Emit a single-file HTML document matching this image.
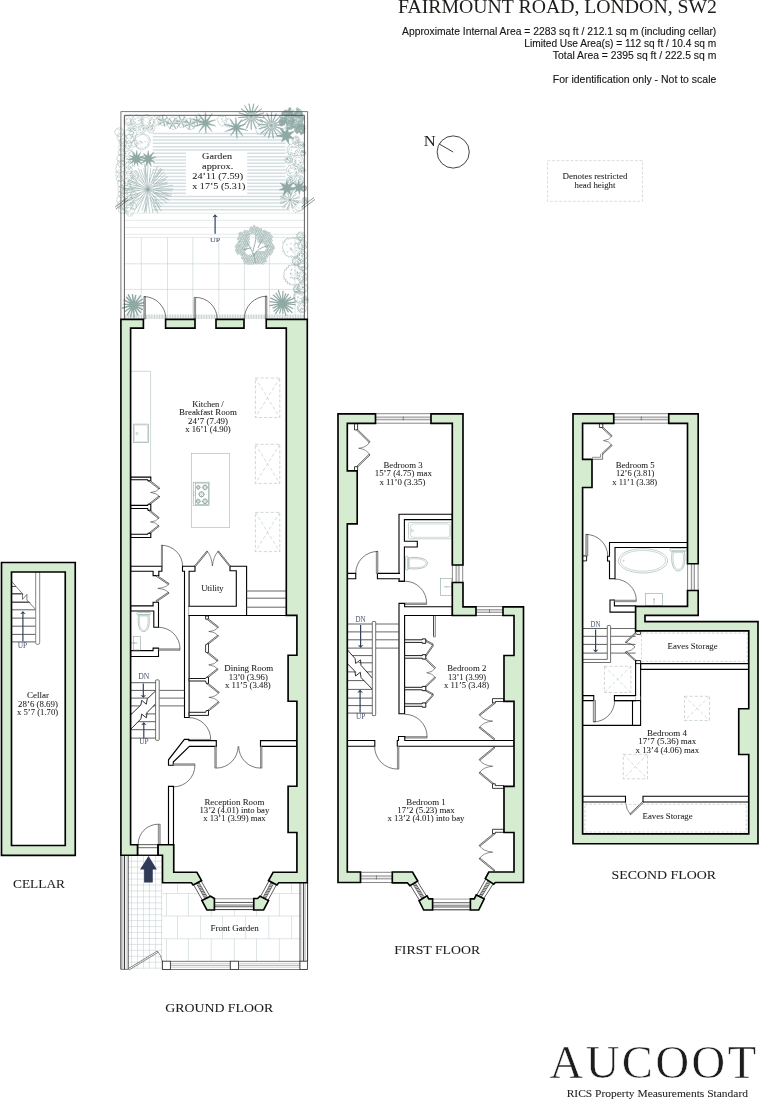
<!DOCTYPE html>
<html lang="en">
<head>
<meta charset="utf-8">
<title>Fairmount Road, London, SW2 - Floor Plan</title>
<style>
html,body{margin:0;padding:0;background:#fff;}
body{width:760px;height:1100px;overflow:hidden;font-family:"Liberation Serif",serif;}
svg{display:block;will-change:transform;}
text{white-space:pre;}
</style>
</head>
<body>
<svg width="760" height="1100" viewBox="0 0 760 1100">
<rect x="0" y="0" width="760" height="1100" fill="#fff"/>
<text x="398.00" y="13.20" font-family='"Liberation Serif", serif' font-size="18.6" text-anchor="start" fill="#1d1d1b" textLength="319" lengthAdjust="spacingAndGlyphs">FAIRMOUNT ROAD, LONDON, SW2</text>
<text x="716.30" y="35.00" font-family='"Liberation Sans", sans-serif' font-size="10.3" text-anchor="end" fill="#151515" stroke="#151515" stroke-width="0.12" textLength="314.3" lengthAdjust="spacingAndGlyphs">Approximate Internal Area = 2283 sq ft / 212.1 sq m (including cellar)</text>
<text x="716.30" y="46.90" font-family='"Liberation Sans", sans-serif' font-size="10.3" text-anchor="end" fill="#151515" stroke="#151515" stroke-width="0.12" textLength="192" lengthAdjust="spacingAndGlyphs">Limited Use Area(s) = 112 sq ft / 10.4 sq m</text>
<text x="716.30" y="58.80" font-family='"Liberation Sans", sans-serif' font-size="10.3" text-anchor="end" fill="#151515" stroke="#151515" stroke-width="0.12" textLength="163.5" lengthAdjust="spacingAndGlyphs">Total Area = 2395 sq ft / 222.5 sq m</text>
<text x="716.30" y="82.60" font-family='"Liberation Sans", sans-serif' font-size="10.3" text-anchor="end" fill="#151515" stroke="#151515" stroke-width="0.12" textLength="163.5" lengthAdjust="spacingAndGlyphs">For identification only - Not to scale</text>
<text x="429.70" y="145.80" font-family='"Liberation Serif", serif' font-size="15" text-anchor="middle" fill="#1d1d1b" textLength="12" lengthAdjust="spacingAndGlyphs">N</text>
<circle cx="453.2" cy="152" r="16.1" fill="none" stroke="#222" stroke-width="0.85"/>
<polyline points="438.90,143.80 453.20,152.00" fill="none" stroke="#222" stroke-width="0.85" stroke-linecap="butt" stroke-linejoin="miter"/>
<rect x="547.50" y="160.60" width="95.00" height="40.70" fill="none" stroke="#c4c4c4" stroke-width="0.6" stroke-dasharray="2.8 1.8"/>
<text x="595.00" y="179.20" font-family='"Liberation Serif", serif' font-size="7.2" text-anchor="middle" fill="#1d1d1b" stroke="#1d1d1b" stroke-width="0.06" textLength="65" lengthAdjust="spacingAndGlyphs">Denotes restricted</text>
<text x="595.00" y="187.80" font-family='"Liberation Serif", serif' font-size="7.2" text-anchor="middle" fill="#1d1d1b" stroke="#1d1d1b" stroke-width="0.06" textLength="41" lengthAdjust="spacingAndGlyphs">head height</text>
<text x="549.6" y="1078" font-family='"Liberation Serif", serif' font-size="46.5" fill="#1d1d1b" stroke="#fff" stroke-width="0.5" textLength="206.5" lengthAdjust="spacing">AUCOOT</text>
<text x="566.70" y="1096.70" font-family='"Liberation Serif", serif' font-size="10.6" text-anchor="start" fill="#1d1d1b" stroke="#1d1d1b" stroke-width="0.06" textLength="181.3" lengthAdjust="spacingAndGlyphs">RICS Property Measurements Standard</text>
<text x="219.20" y="1012.40" font-family='"Liberation Serif", serif' font-size="12.7" text-anchor="middle" fill="#1d1d1b" stroke="#1d1d1b" stroke-width="0.06" textLength="108" lengthAdjust="spacingAndGlyphs">GROUND FLOOR</text>
<text x="437.20" y="953.70" font-family='"Liberation Serif", serif' font-size="12.7" text-anchor="middle" fill="#1d1d1b" stroke="#1d1d1b" stroke-width="0.06" textLength="86" lengthAdjust="spacingAndGlyphs">FIRST FLOOR</text>
<text x="663.80" y="878.70" font-family='"Liberation Serif", serif' font-size="12.7" text-anchor="middle" fill="#1d1d1b" stroke="#1d1d1b" stroke-width="0.06" textLength="104.5" lengthAdjust="spacingAndGlyphs">SECOND FLOOR</text>
<text x="39.00" y="888.00" font-family='"Liberation Serif", serif' font-size="12.7" text-anchor="middle" fill="#1d1d1b" stroke="#1d1d1b" stroke-width="0.06" textLength="52" lengthAdjust="spacingAndGlyphs">CELLAR</text>
<path d="M152.8,133.40H285.6M152.8,136.72H285.6M152.8,140.04H285.6M152.8,143.36H285.6M152.8,146.68H285.6M152.8,150.00H285.6M152.8,153.32H285.6M152.8,156.64H285.6M152.8,159.96H285.6M152.8,163.28H285.6M152.8,166.60H285.6M152.8,169.92H285.6M152.8,173.24H285.6M152.8,176.56H285.6M152.8,179.88H285.6M152.8,183.20H285.6M152.8,186.52H285.6M152.8,189.84H285.6M152.8,193.16H285.6M152.8,196.48H285.6M152.8,199.80H285.6M152.8,203.12H285.6M152.8,206.44H285.6M152.8,209.76H285.6" fill="none" stroke="#d5dfe1" stroke-width="1.5" stroke-linejoin="miter" stroke-linecap="butt"/>
<polyline points="124.60,213.20 304.20,213.20" fill="none" stroke="#cfdadb" stroke-width="0.55" stroke-linecap="butt" stroke-linejoin="miter"/>
<polyline points="124.60,220.30 304.20,220.30" fill="none" stroke="#cfdadb" stroke-width="0.55" stroke-linecap="butt" stroke-linejoin="miter"/>
<polyline points="124.60,227.50 304.20,227.50" fill="none" stroke="#cfdadb" stroke-width="0.55" stroke-linecap="butt" stroke-linejoin="miter"/>
<polyline points="124.60,234.30 304.20,234.30" fill="none" stroke="#cfdadb" stroke-width="0.55" stroke-linecap="butt" stroke-linejoin="miter"/>
<polyline points="124.60,237.50 304.20,237.50" fill="none" stroke="#cfdadb" stroke-width="0.55" stroke-linecap="butt" stroke-linejoin="miter"/>
<polyline points="124.60,263.80 304.20,263.80" fill="none" stroke="#b9c9cb" stroke-width="0.5" stroke-linecap="butt" stroke-linejoin="miter"/>
<polyline points="124.60,289.40 304.20,289.40" fill="none" stroke="#b9c9cb" stroke-width="0.5" stroke-linecap="butt" stroke-linejoin="miter"/>
<polyline points="141.30,237.50 141.30,314.40" fill="none" stroke="#b9c9cb" stroke-width="0.5" stroke-linecap="butt" stroke-linejoin="miter"/>
<polyline points="167.50,237.50 167.50,314.40" fill="none" stroke="#b9c9cb" stroke-width="0.5" stroke-linecap="butt" stroke-linejoin="miter"/>
<polyline points="192.80,237.50 192.80,314.40" fill="none" stroke="#b9c9cb" stroke-width="0.5" stroke-linecap="butt" stroke-linejoin="miter"/>
<polyline points="218.80,237.50 218.80,314.40" fill="none" stroke="#b9c9cb" stroke-width="0.5" stroke-linecap="butt" stroke-linejoin="miter"/>
<polyline points="244.40,237.50 244.40,314.40" fill="none" stroke="#b9c9cb" stroke-width="0.5" stroke-linecap="butt" stroke-linejoin="miter"/>
<polyline points="269.40,237.50 269.40,314.40" fill="none" stroke="#b9c9cb" stroke-width="0.5" stroke-linecap="butt" stroke-linejoin="miter"/>
<polyline points="295.00,237.50 295.00,314.40" fill="none" stroke="#b9c9cb" stroke-width="0.5" stroke-linecap="butt" stroke-linejoin="miter"/>
<path d="M125.40,314.5V319M127.02,314.5V319M128.64,314.5V319M130.26,314.5V319M131.88,314.5V319M133.50,314.5V319M135.12,314.5V319M136.74,314.5V319M138.36,314.5V319M139.98,314.5V319M141.60,314.5V319M143.22,314.5V319M144.84,314.5V319M146.46,314.5V319M148.08,314.5V319M149.70,314.5V319M151.32,314.5V319M152.94,314.5V319M154.56,314.5V319M156.18,314.5V319M157.80,314.5V319M159.42,314.5V319M161.04,314.5V319M162.66,314.5V319M164.28,314.5V319M165.90,314.5V319M167.52,314.5V319M169.14,314.5V319M170.76,314.5V319M172.38,314.5V319M174.00,314.5V319M175.62,314.5V319M177.24,314.5V319M178.86,314.5V319M180.48,314.5V319M182.10,314.5V319M183.72,314.5V319M185.34,314.5V319M186.96,314.5V319M188.58,314.5V319M190.20,314.5V319M191.82,314.5V319M193.44,314.5V319M195.06,314.5V319M196.68,314.5V319M198.30,314.5V319M199.92,314.5V319M201.54,314.5V319M203.16,314.5V319M204.78,314.5V319M206.40,314.5V319M208.02,314.5V319M209.64,314.5V319M211.26,314.5V319M212.88,314.5V319M214.50,314.5V319M216.12,314.5V319M217.74,314.5V319M219.36,314.5V319M220.98,314.5V319M222.60,314.5V319M224.22,314.5V319M225.84,314.5V319M227.46,314.5V319M229.08,314.5V319M230.70,314.5V319M232.32,314.5V319M233.94,314.5V319M235.56,314.5V319M237.18,314.5V319M238.80,314.5V319M240.42,314.5V319M242.04,314.5V319M243.66,314.5V319M245.28,314.5V319M246.90,314.5V319M248.52,314.5V319M250.14,314.5V319M251.76,314.5V319M253.38,314.5V319M255.00,314.5V319M256.62,314.5V319M258.24,314.5V319M259.86,314.5V319M261.48,314.5V319M263.10,314.5V319M264.72,314.5V319M266.34,314.5V319M267.96,314.5V319M269.58,314.5V319M271.20,314.5V319M272.82,314.5V319M274.44,314.5V319M276.06,314.5V319M277.68,314.5V319M279.30,314.5V319M280.92,314.5V319M282.54,314.5V319M284.16,314.5V319M285.78,314.5V319M287.40,314.5V319M289.02,314.5V319M290.64,314.5V319M292.26,314.5V319M293.88,314.5V319M295.50,314.5V319M297.12,314.5V319M298.74,314.5V319M300.36,314.5V319M301.98,314.5V319M303.60,314.5V319" fill="none" stroke="#bcc6c6" stroke-width="0.8" stroke-linejoin="miter" stroke-linecap="butt"/>
<rect x="186.00" y="152.00" width="61.20" height="42.60" fill="#fff" stroke="none" stroke-width="0"/>
<path d="M133.16,120.50A1.31,1.31 0 0 1 132.32,122.64A1.22,1.22 0 0 1 130.60,124.01A0.87,0.87 0 0 1 128.40,124.67A0.86,0.86 0 0 1 126.13,123.81A0.88,0.88 0 0 1 124.88,121.71A1.14,1.14 0 0 1 125.28,119.41A0.92,0.92 0 0 1 125.88,116.90A1.29,1.29 0 0 1 128.43,116.50A1.25,1.25 0 0 1 131.04,116.04A1.55,1.55 0 0 1 132.57,118.20A1.46,1.46 0 0 1 132.83,120.50" fill="none" stroke="#90a9a5" stroke-width="0.45" stroke-linejoin="round" stroke-linecap="butt" stroke-dasharray="2.3 0.4"/>
<path d="M130.19,121.59q0.6,-0.6 1.1,0.2M129.50,119.37q0.6,-0.6 1.1,0.2M126.73,119.22q0.6,-0.6 1.1,0.2M127.38,122.17q0.6,-0.6 1.1,0.2M129.80,120.83q0.6,-0.6 1.1,0.2" fill="none" stroke="#90a9a5" stroke-width="0.45" stroke-linejoin="miter" stroke-linecap="round"/>
<path d="M130.77,120.86A0.69,0.69 0 0 1 130.03,122.47A0.58,0.58 0 0 1 128.41,123.23A0.74,0.74 0 0 1 126.58,122.70A0.69,0.69 0 0 1 126.18,120.86A0.81,0.81 0 0 1 126.70,119.15A0.57,0.57 0 0 1 128.41,118.31A0.50,0.50 0 0 1 130.33,118.94A0.76,0.76 0 0 1 130.76,120.86" fill="none" stroke="#90a9a5" stroke-width="0.4" stroke-linejoin="round" stroke-linecap="butt" stroke-dasharray="2.0 0.5"/>
<path d="M142.15,121.50A1.69,1.69 0 0 1 142.43,124.09A1.79,1.79 0 0 1 140.58,125.97A1.63,1.63 0 0 1 138.11,126.51A1.53,1.53 0 0 1 135.56,126.60A1.76,1.76 0 0 1 133.57,124.99A1.43,1.43 0 0 1 131.71,122.93A1.06,1.06 0 0 1 132.10,120.17A1.59,1.59 0 0 1 133.30,117.78A1.74,1.74 0 0 1 135.36,115.85A1.35,1.35 0 0 1 138.10,116.53A1.03,1.03 0 0 1 140.66,116.92A1.16,1.16 0 0 1 142.16,119.05A1.06,1.06 0 0 1 142.26,121.50" fill="none" stroke="#90a9a5" stroke-width="0.45" stroke-linejoin="round" stroke-linecap="butt" stroke-dasharray="3.0 0.4"/>
<path d="M137.53,123.76q0.6,-0.6 1.1,0.2M138.28,120.68q0.6,-0.6 1.1,0.2M134.80,122.39q0.6,-0.6 1.1,0.2M140.34,118.94q0.6,-0.6 1.1,0.2M138.72,120.10q0.6,-0.6 1.1,0.2" fill="none" stroke="#90a9a5" stroke-width="0.45" stroke-linejoin="miter" stroke-linecap="round"/>
<path d="M140.56,121.22A0.63,0.63 0 0 1 139.66,123.55A0.67,0.67 0 0 1 137.33,123.88A0.79,0.79 0 0 1 135.41,123.14A0.68,0.68 0 0 1 134.33,121.22A0.76,0.76 0 0 1 135.54,119.43A0.83,0.83 0 0 1 137.33,118.40A0.89,0.89 0 0 1 139.66,118.89A0.86,0.86 0 0 1 140.27,121.22" fill="none" stroke="#90a9a5" stroke-width="0.4" stroke-linejoin="round" stroke-linecap="butt" stroke-dasharray="2.9 0.3"/>
<path d="M153.53,121.50A1.98,1.98 0 0 1 152.71,124.25A1.51,1.51 0 0 1 150.97,126.48A1.22,1.22 0 0 1 148.27,127.08A1.18,1.18 0 0 1 145.64,127.45A1.32,1.32 0 0 1 143.76,125.56A1.45,1.45 0 0 1 142.18,123.82A1.12,1.12 0 0 1 141.83,121.50A1.22,1.22 0 0 1 142.20,119.19A1.14,1.14 0 0 1 143.46,117.07A1.73,1.73 0 0 1 145.56,115.17A1.37,1.37 0 0 1 148.18,116.31A1.48,1.48 0 0 1 150.52,117.09A1.96,1.96 0 0 1 151.76,119.21A1.58,1.58 0 0 1 153.68,121.50" fill="none" stroke="#90a9a5" stroke-width="0.45" stroke-linejoin="round" stroke-linecap="butt" stroke-dasharray="2.6 0.3"/>
<path d="M148.85,122.88q0.6,-0.6 1.1,0.2M146.60,125.75q0.6,-0.6 1.1,0.2M147.54,122.37q0.6,-0.6 1.1,0.2M149.91,120.57q0.6,-0.6 1.1,0.2M148.89,123.98q0.6,-0.6 1.1,0.2" fill="none" stroke="#90a9a5" stroke-width="0.45" stroke-linejoin="miter" stroke-linecap="round"/>
<path d="M149.72,121.56A0.99,0.99 0 0 1 148.57,124.07A0.81,0.81 0 0 1 146.05,124.58A1.03,1.03 0 0 1 143.97,123.64A1.04,1.04 0 0 1 142.79,121.56A0.74,0.74 0 0 1 143.87,119.37A1.15,1.15 0 0 1 146.05,118.04A1.05,1.05 0 0 1 148.57,119.04A1.02,1.02 0 0 1 149.58,121.56" fill="none" stroke="#90a9a5" stroke-width="0.4" stroke-linejoin="round" stroke-linecap="butt" stroke-dasharray="2.2 0.5"/>
<path d="M159.88,121.00A0.89,0.89 0 0 1 158.84,123.15A1.06,1.06 0 0 1 157.28,124.90A1.60,1.60 0 0 1 154.82,125.75A1.58,1.58 0 0 1 152.56,124.40A1.60,1.60 0 0 1 150.54,122.46A1.03,1.03 0 0 1 151.29,119.76A1.02,1.02 0 0 1 152.74,117.81A1.34,1.34 0 0 1 154.90,116.85A1.51,1.51 0 0 1 157.60,116.40A1.37,1.37 0 0 1 159.31,118.55A0.93,0.93 0 0 1 160.43,121.00" fill="none" stroke="#90a9a5" stroke-width="0.45" stroke-linejoin="round" stroke-linecap="butt" stroke-dasharray="2.9 0.7"/>
<path d="M156.12,118.00q0.6,-0.6 1.1,0.2M154.24,121.18q0.6,-0.6 1.1,0.2M155.93,119.30q0.6,-0.6 1.1,0.2M156.68,117.44q0.6,-0.6 1.1,0.2M153.94,122.20q0.6,-0.6 1.1,0.2" fill="none" stroke="#90a9a5" stroke-width="0.45" stroke-linejoin="miter" stroke-linecap="round"/>
<path d="M158.68,121.45A0.54,0.54 0 0 1 157.99,123.04A0.82,0.82 0 0 1 156.39,124.24A0.82,0.82 0 0 1 154.79,123.05A0.75,0.75 0 0 1 153.56,121.45A0.71,0.71 0 0 1 154.69,119.75A0.48,0.48 0 0 1 156.39,119.19A0.75,0.75 0 0 1 158.40,119.45A0.87,0.87 0 0 1 158.92,121.45" fill="none" stroke="#90a9a5" stroke-width="0.4" stroke-linejoin="round" stroke-linecap="butt" stroke-dasharray="2.5 0.6"/>
<path d="M135.62,128.00A0.77,0.77 0 0 1 134.17,130.17A0.76,0.76 0 0 1 132.00,131.14A0.78,0.78 0 0 1 129.59,130.41A0.70,0.70 0 0 1 128.75,128.00A0.83,0.83 0 0 1 129.39,125.39A0.96,0.96 0 0 1 132.00,124.71A0.87,0.87 0 0 1 134.61,125.39A0.91,0.91 0 0 1 135.71,128.00" fill="none" stroke="#90a9a5" stroke-width="0.45" stroke-linejoin="round" stroke-linecap="butt" stroke-dasharray="2.7 0.5"/>
<path d="M133.52,128.18q0.6,-0.6 1.1,0.2M132.22,128.49q0.6,-0.6 1.1,0.2M132.28,127.13q0.6,-0.6 1.1,0.2M129.86,128.36q0.6,-0.6 1.1,0.2M130.81,127.56q0.6,-0.6 1.1,0.2" fill="none" stroke="#90a9a5" stroke-width="0.45" stroke-linejoin="miter" stroke-linecap="round"/>
<path d="M134.01,128.11A0.52,0.52 0 0 1 133.19,129.26A0.43,0.43 0 0 1 132.04,129.81A0.50,0.50 0 0 1 130.65,129.50A0.58,0.58 0 0 1 130.18,128.11A0.48,0.48 0 0 1 130.60,126.67A0.50,0.50 0 0 1 132.04,126.23A0.56,0.56 0 0 1 133.33,126.81A0.51,0.51 0 0 1 133.84,128.11" fill="none" stroke="#90a9a5" stroke-width="0.4" stroke-linejoin="round" stroke-linecap="butt" stroke-dasharray="2.6 0.7"/>
<path d="M145.21,129.00A1.06,1.06 0 0 1 144.37,131.37A0.86,0.86 0 0 1 142.00,131.84A1.01,1.01 0 0 1 139.59,131.41A0.64,0.64 0 0 1 139.26,129.00A0.61,0.61 0 0 1 139.88,126.88A0.61,0.61 0 0 1 142.00,126.18A0.98,0.98 0 0 1 144.25,126.75A0.66,0.66 0 0 1 145.37,129.00" fill="none" stroke="#90a9a5" stroke-width="0.45" stroke-linejoin="round" stroke-linecap="butt" stroke-dasharray="2.9 0.6"/>
<path d="M143.44,130.81q0.6,-0.6 1.1,0.2M142.92,128.81q0.6,-0.6 1.1,0.2M143.25,128.62q0.6,-0.6 1.1,0.2M139.47,129.20q0.6,-0.6 1.1,0.2M142.40,128.29q0.6,-0.6 1.1,0.2" fill="none" stroke="#90a9a5" stroke-width="0.45" stroke-linejoin="miter" stroke-linecap="round"/>
<path d="M143.46,129.03A0.41,0.41 0 0 1 142.95,130.12A0.32,0.32 0 0 1 141.86,130.80A0.44,0.44 0 0 1 140.66,130.23A0.41,0.41 0 0 1 140.41,129.03A0.46,0.46 0 0 1 140.64,127.81A0.59,0.59 0 0 1 141.86,127.56A0.59,0.59 0 0 1 143.14,127.76A0.39,0.39 0 0 1 143.35,129.03" fill="none" stroke="#90a9a5" stroke-width="0.4" stroke-linejoin="round" stroke-linecap="butt" stroke-dasharray="1.9 0.6"/>
<path d="M153.85,129.00A0.79,0.79 0 0 1 152.93,130.93A1.00,1.00 0 0 1 151.00,132.38A0.65,0.65 0 0 1 148.99,131.01A0.87,0.87 0 0 1 147.61,129.00A0.62,0.62 0 0 1 148.73,126.73A0.93,0.93 0 0 1 151.00,126.33A0.61,0.61 0 0 1 153.11,126.89A0.90,0.90 0 0 1 154.40,129.00" fill="none" stroke="#90a9a5" stroke-width="0.45" stroke-linejoin="round" stroke-linecap="butt" stroke-dasharray="3.1 0.3"/>
<path d="M151.38,128.51q0.6,-0.6 1.1,0.2M151.93,127.92q0.6,-0.6 1.1,0.2M150.13,130.38q0.6,-0.6 1.1,0.2M151.93,128.54q0.6,-0.6 1.1,0.2M152.08,130.14q0.6,-0.6 1.1,0.2" fill="none" stroke="#90a9a5" stroke-width="0.45" stroke-linejoin="miter" stroke-linecap="round"/>
<path d="M151.99,128.22A0.37,0.37 0 0 1 151.51,129.26A0.40,0.40 0 0 1 150.48,129.80A0.40,0.40 0 0 1 149.21,129.49A0.37,0.37 0 0 1 148.80,128.22A0.32,0.32 0 0 1 149.34,127.09A0.32,0.32 0 0 1 150.48,126.66A0.47,0.47 0 0 1 151.73,126.96A0.45,0.45 0 0 1 152.01,128.22" fill="none" stroke="#90a9a5" stroke-width="0.4" stroke-linejoin="round" stroke-linecap="butt" stroke-dasharray="3.3 0.3"/>
<path d="M149.96,141.30A2.02,2.02 0 0 1 148.73,143.79A1.89,1.89 0 0 1 148.10,146.50A2.26,2.26 0 0 1 145.61,147.73A1.83,1.83 0 0 1 143.36,149.56A2.29,2.29 0 0 1 140.50,149.26A1.91,1.91 0 0 1 138.06,147.96A1.47,1.47 0 0 1 136.46,145.86A1.49,1.49 0 0 1 135.64,143.58A1.72,1.72 0 0 1 134.00,141.30A1.51,1.51 0 0 1 135.58,139.00A2.49,2.49 0 0 1 135.69,136.09A1.76,1.76 0 0 1 138.02,134.58A1.77,1.77 0 0 1 140.70,134.52A1.60,1.60 0 0 1 143.17,134.08A1.73,1.73 0 0 1 145.55,134.98A2.62,2.62 0 0 1 148.29,135.93A1.71,1.71 0 0 1 148.95,138.73A1.79,1.79 0 0 1 150.25,141.30" fill="none" stroke="#90a9a5" stroke-width="0.5" stroke-linejoin="round" stroke-linecap="butt" stroke-dasharray="2.4 0.3"/>
<path d="M139.27,143.72q0.6,-0.6 1.1,0.2M139.71,141.26q0.6,-0.6 1.1,0.2M140.71,141.26q0.6,-0.6 1.1,0.2M141.76,142.92q0.6,-0.6 1.1,0.2M140.79,142.12q0.6,-0.6 1.1,0.2M144.59,141.68q0.6,-0.6 1.1,0.2" fill="none" stroke="#90a9a5" stroke-width="0.5" stroke-linejoin="miter" stroke-linecap="round"/>
<path d="M147.71,141.30A1.75,1.75 0 0 1 147.76,143.91A1.88,1.88 0 0 1 146.38,146.28A2.12,2.12 0 0 1 143.95,147.62A1.53,1.53 0 0 1 141.26,147.35A1.35,1.35 0 0 1 138.35,147.45A1.87,1.87 0 0 1 136.52,145.21A2.07,2.07 0 0 1 136.53,142.44A1.85,1.85 0 0 1 135.11,139.86A2.05,2.05 0 0 1 136.50,137.38A1.74,1.74 0 0 1 139.07,136.41A2.07,2.07 0 0 1 141.24,135.06A2.06,2.06 0 0 1 144.00,134.84A2.13,2.13 0 0 1 146.19,136.53A1.92,1.92 0 0 1 147.91,138.62A1.22,1.22 0 0 1 147.71,141.30" fill="none" stroke="#90a9a5" stroke-width="0.4" stroke-linejoin="round" stroke-linecap="butt" stroke-dasharray="2.0 0.4"/>
<path d="M123.22,132.00A1.10,1.10 0 0 1 122.39,134.49A1.02,1.02 0 0 1 120.10,135.87A1.21,1.21 0 0 1 117.80,134.80A1.03,1.03 0 0 1 115.67,133.37A1.12,1.12 0 0 1 115.87,130.71A1.17,1.17 0 0 1 117.77,129.15A0.76,0.76 0 0 1 120.03,128.57A1.17,1.17 0 0 1 122.10,129.75A1.17,1.17 0 0 1 122.86,132.00" fill="none" stroke="#90a9a5" stroke-width="0.45" stroke-linejoin="round" stroke-linecap="butt" stroke-dasharray="3.4 0.5"/>
<path d="M118.08,133.22q0.6,-0.6 1.1,0.2M118.39,129.66q0.6,-0.6 1.1,0.2" fill="none" stroke="#90a9a5" stroke-width="0.45" stroke-linejoin="miter" stroke-linecap="round"/>
<path d="M132.24,134.00A0.86,0.86 0 0 1 131.53,136.15A0.89,0.89 0 0 1 129.65,137.88A0.71,0.71 0 0 1 127.08,137.26A0.87,0.87 0 0 1 125.91,135.11A1.13,1.13 0 0 1 125.33,132.68A0.88,0.88 0 0 1 127.03,130.64A0.99,0.99 0 0 1 129.61,130.34A0.77,0.77 0 0 1 131.77,131.64A0.82,0.82 0 0 1 133.06,134.00" fill="none" stroke="#90a9a5" stroke-width="0.45" stroke-linejoin="round" stroke-linecap="butt" stroke-dasharray="3.4 0.7"/>
<path d="M130.70,134.19q0.6,-0.6 1.1,0.2M130.26,131.25q0.6,-0.6 1.1,0.2M127.77,134.39q0.6,-0.6 1.1,0.2" fill="none" stroke="#90a9a5" stroke-width="0.45" stroke-linejoin="miter" stroke-linecap="round"/>
<path d="M136.23,133.00A0.72,0.72 0 0 1 135.56,135.43A1.18,1.18 0 0 1 133.13,136.39A1.10,1.10 0 0 1 130.99,135.14A1.14,1.14 0 0 1 129.76,133.00A0.77,0.77 0 0 1 130.62,130.49A0.91,0.91 0 0 1 133.13,129.27A0.64,0.64 0 0 1 135.20,130.93A0.89,0.89 0 0 1 136.49,133.00" fill="none" stroke="#90a9a5" stroke-width="0.45" stroke-linejoin="round" stroke-linecap="butt" stroke-dasharray="2.3 0.4"/>
<path d="M132.43,134.05q0.6,-0.6 1.1,0.2M133.42,132.55q0.6,-0.6 1.1,0.2" fill="none" stroke="#90a9a5" stroke-width="0.45" stroke-linejoin="miter" stroke-linecap="round"/>
<path d="M125.36,137.20A1.16,1.16 0 0 1 125.21,139.89A0.89,0.89 0 0 1 122.72,141.29A0.96,0.96 0 0 1 120.20,140.33A1.08,1.08 0 0 1 118.00,138.66A0.98,0.98 0 0 1 118.62,135.97A0.74,0.74 0 0 1 120.25,134.16A1.24,1.24 0 0 1 122.58,133.91A1.30,1.30 0 0 1 124.70,134.93A0.88,0.88 0 0 1 125.49,137.20" fill="none" stroke="#90a9a5" stroke-width="0.45" stroke-linejoin="round" stroke-linecap="butt" stroke-dasharray="2.6 0.4"/>
<path d="M119.87,139.37q0.6,-0.6 1.1,0.2M124.00,135.42q0.6,-0.6 1.1,0.2" fill="none" stroke="#90a9a5" stroke-width="0.45" stroke-linejoin="miter" stroke-linecap="round"/>
<path d="M133.66,139.20A1.28,1.28 0 0 1 132.41,141.66A1.29,1.29 0 0 1 130.14,142.65A1.31,1.31 0 0 1 127.76,143.08A0.98,0.98 0 0 1 125.55,141.73A1.43,1.43 0 0 1 125.40,139.20A1.11,1.11 0 0 1 126.02,137.02A0.99,0.99 0 0 1 127.80,135.44A1.46,1.46 0 0 1 130.39,135.01A1.24,1.24 0 0 1 132.15,136.93A1.17,1.17 0 0 1 132.93,139.20" fill="none" stroke="#90a9a5" stroke-width="0.45" stroke-linejoin="round" stroke-linecap="butt" stroke-dasharray="2.4 0.4"/>
<path d="M129.68,140.25q0.6,-0.6 1.1,0.2M130.73,138.05q0.6,-0.6 1.1,0.2M129.63,142.36q0.6,-0.6 1.1,0.2" fill="none" stroke="#90a9a5" stroke-width="0.45" stroke-linejoin="miter" stroke-linecap="round"/>
<path d="M125.83,142.40A0.65,0.65 0 0 1 125.03,144.44A0.65,0.65 0 0 1 122.99,145.42A0.73,0.73 0 0 1 120.91,144.47A1.07,1.07 0 0 1 119.77,142.40A0.82,0.82 0 0 1 120.60,140.02A0.88,0.88 0 0 1 122.99,139.32A0.78,0.78 0 0 1 125.14,140.24A0.75,0.75 0 0 1 125.76,142.40" fill="none" stroke="#90a9a5" stroke-width="0.45" stroke-linejoin="round" stroke-linecap="butt" stroke-dasharray="3.3 0.4"/>
<path d="M121.13,142.36q0.6,-0.6 1.1,0.2M123.61,141.67q0.6,-0.6 1.1,0.2" fill="none" stroke="#90a9a5" stroke-width="0.45" stroke-linejoin="miter" stroke-linecap="round"/>
<path d="M130.56,144.40A1.07,1.07 0 0 1 129.72,146.53A1.03,1.03 0 0 1 127.58,147.75A0.60,0.60 0 0 1 125.70,146.28A1.04,1.04 0 0 1 124.35,144.40A0.88,0.88 0 0 1 125.44,142.25A0.78,0.78 0 0 1 127.58,141.76A1.01,1.01 0 0 1 130.00,141.98A1.08,1.08 0 0 1 130.94,144.40" fill="none" stroke="#90a9a5" stroke-width="0.45" stroke-linejoin="round" stroke-linecap="butt" stroke-dasharray="2.2 0.3"/>
<path d="M128.48,145.70q0.6,-0.6 1.1,0.2M126.57,142.16q0.6,-0.6 1.1,0.2M127.26,142.59q0.6,-0.6 1.1,0.2" fill="none" stroke="#90a9a5" stroke-width="0.45" stroke-linejoin="miter" stroke-linecap="round"/>
<path d="M137.69,143.40A0.92,0.92 0 0 1 136.56,145.16A0.98,0.98 0 0 1 134.79,146.04A0.69,0.69 0 0 1 132.70,145.50A0.66,0.66 0 0 1 132.23,143.40A0.88,0.88 0 0 1 132.70,141.31A0.57,0.57 0 0 1 134.79,140.85A0.82,0.82 0 0 1 136.83,141.37A0.65,0.65 0 0 1 137.56,143.40" fill="none" stroke="#90a9a5" stroke-width="0.45" stroke-linejoin="round" stroke-linecap="butt" stroke-dasharray="2.8 0.3"/>
<path d="M134.37,144.68q0.6,-0.6 1.1,0.2M136.45,142.96q0.6,-0.6 1.1,0.2" fill="none" stroke="#90a9a5" stroke-width="0.45" stroke-linejoin="miter" stroke-linecap="round"/>
<path d="M125.50,147.60A1.12,1.12 0 0 1 124.64,149.70A0.77,0.77 0 0 1 122.54,150.97A0.87,0.87 0 0 1 120.57,149.56A0.83,0.83 0 0 1 119.19,147.60A0.96,0.96 0 0 1 120.43,145.49A0.73,0.73 0 0 1 122.54,144.04A0.79,0.79 0 0 1 124.50,145.63A0.97,0.97 0 0 1 125.66,147.60" fill="none" stroke="#90a9a5" stroke-width="0.45" stroke-linejoin="round" stroke-linecap="butt" stroke-dasharray="2.1 0.6"/>
<path d="M122.43,146.00q0.6,-0.6 1.1,0.2M123.26,150.12q0.6,-0.6 1.1,0.2" fill="none" stroke="#90a9a5" stroke-width="0.45" stroke-linejoin="miter" stroke-linecap="round"/>
<path d="M131.44,149.60A1.27,1.27 0 0 1 130.72,151.76A1.39,1.39 0 0 1 128.91,153.18A0.88,0.88 0 0 1 126.52,153.38A1.03,1.03 0 0 1 124.77,151.76A1.39,1.39 0 0 1 123.58,149.60A1.02,1.02 0 0 1 124.84,147.48A1.41,1.41 0 0 1 126.61,146.11A0.79,0.79 0 0 1 128.86,146.18A1.02,1.02 0 0 1 130.58,147.54A1.35,1.35 0 0 1 132.17,149.60" fill="none" stroke="#90a9a5" stroke-width="0.45" stroke-linejoin="round" stroke-linecap="butt" stroke-dasharray="3.0 0.7"/>
<path d="M129.13,148.96q0.6,-0.6 1.1,0.2M129.00,152.52q0.6,-0.6 1.1,0.2M127.73,148.88q0.6,-0.6 1.1,0.2" fill="none" stroke="#90a9a5" stroke-width="0.45" stroke-linejoin="miter" stroke-linecap="round"/>
<path d="M124.60,152.80A0.66,0.66 0 0 1 123.71,154.85A0.72,0.72 0 0 1 121.66,155.43A1.07,1.07 0 0 1 119.59,154.87A1.07,1.07 0 0 1 118.93,152.80A0.76,0.76 0 0 1 119.68,150.82A1.00,1.00 0 0 1 121.66,149.49A0.60,0.60 0 0 1 123.77,150.69A0.77,0.77 0 0 1 124.68,152.80" fill="none" stroke="#90a9a5" stroke-width="0.45" stroke-linejoin="round" stroke-linecap="butt" stroke-dasharray="3.3 0.4"/>
<path d="M120.11,154.57q0.6,-0.6 1.1,0.2M122.97,153.05q0.6,-0.6 1.1,0.2" fill="none" stroke="#90a9a5" stroke-width="0.45" stroke-linejoin="miter" stroke-linecap="round"/>
<path d="M133.16,154.80A0.78,0.78 0 0 1 132.35,156.99A0.91,0.91 0 0 1 130.50,159.08A1.33,1.33 0 0 1 127.67,158.40A0.92,0.92 0 0 1 126.25,156.07A1.14,1.14 0 0 1 125.63,153.30A1.21,1.21 0 0 1 127.93,151.64A0.92,0.92 0 0 1 130.39,151.15A1.23,1.23 0 0 1 132.33,152.63A1.15,1.15 0 0 1 134.09,154.80" fill="none" stroke="#90a9a5" stroke-width="0.45" stroke-linejoin="round" stroke-linecap="butt" stroke-dasharray="3.3 0.3"/>
<path d="M129.94,156.67q0.6,-0.6 1.1,0.2M132.79,153.95q0.6,-0.6 1.1,0.2M128.78,155.64q0.6,-0.6 1.1,0.2" fill="none" stroke="#90a9a5" stroke-width="0.45" stroke-linejoin="miter" stroke-linecap="round"/>
<path d="M124.32,158.00A1.05,1.05 0 0 1 122.80,160.08A1.06,1.06 0 0 1 120.72,161.43A0.94,0.94 0 0 1 118.27,160.45A0.78,0.78 0 0 1 117.65,158.00A1.03,1.03 0 0 1 118.53,155.81A0.72,0.72 0 0 1 120.72,155.15A0.74,0.74 0 0 1 123.15,155.57A0.63,0.63 0 0 1 123.56,158.00" fill="none" stroke="#90a9a5" stroke-width="0.45" stroke-linejoin="round" stroke-linecap="butt" stroke-dasharray="2.7 0.4"/>
<path d="M123.16,157.70q0.6,-0.6 1.1,0.2M121.81,157.92q0.6,-0.6 1.1,0.2" fill="none" stroke="#90a9a5" stroke-width="0.45" stroke-linejoin="miter" stroke-linecap="round"/>
<path d="M129.65,160.00A0.75,0.75 0 0 1 128.94,162.11A0.73,0.73 0 0 1 126.84,162.61A0.85,0.85 0 0 1 124.78,162.06A0.94,0.94 0 0 1 123.83,160.00A0.59,0.59 0 0 1 124.76,157.92A0.67,0.67 0 0 1 126.84,156.92A0.71,0.71 0 0 1 128.86,157.97A0.63,0.63 0 0 1 129.84,160.00" fill="none" stroke="#90a9a5" stroke-width="0.45" stroke-linejoin="round" stroke-linecap="butt" stroke-dasharray="2.2 0.4"/>
<path d="M128.06,161.76q0.6,-0.6 1.1,0.2M125.89,159.49q0.6,-0.6 1.1,0.2M124.96,161.43q0.6,-0.6 1.1,0.2" fill="none" stroke="#90a9a5" stroke-width="0.45" stroke-linejoin="miter" stroke-linecap="round"/>
<path d="M124.09,163.20A1.01,1.01 0 0 1 123.11,165.28A0.76,0.76 0 0 1 121.03,165.71A0.93,0.93 0 0 1 118.86,165.37A0.55,0.55 0 0 1 117.89,163.20A0.59,0.59 0 0 1 119.15,161.32A1.00,1.00 0 0 1 121.03,160.62A0.98,0.98 0 0 1 123.07,161.16A0.95,0.95 0 0 1 123.75,163.20" fill="none" stroke="#90a9a5" stroke-width="0.45" stroke-linejoin="round" stroke-linecap="butt" stroke-dasharray="2.5 0.4"/>
<path d="M121.42,160.96q0.6,-0.6 1.1,0.2M122.29,164.18q0.6,-0.6 1.1,0.2" fill="none" stroke="#90a9a5" stroke-width="0.45" stroke-linejoin="miter" stroke-linecap="round"/>
<path d="M131.88,165.20A0.67,0.67 0 0 1 130.90,167.12A0.87,0.87 0 0 1 128.98,168.01A0.67,0.67 0 0 1 126.76,167.42A0.74,0.74 0 0 1 126.37,165.20A0.66,0.66 0 0 1 126.75,162.97A0.67,0.67 0 0 1 128.98,162.34A0.85,0.85 0 0 1 131.28,162.90A0.62,0.62 0 0 1 131.63,165.20" fill="none" stroke="#90a9a5" stroke-width="0.45" stroke-linejoin="round" stroke-linecap="butt" stroke-dasharray="2.4 0.5"/>
<path d="M128.55,164.69q0.6,-0.6 1.1,0.2M129.96,166.83q0.6,-0.6 1.1,0.2M128.09,165.77q0.6,-0.6 1.1,0.2" fill="none" stroke="#90a9a5" stroke-width="0.45" stroke-linejoin="miter" stroke-linecap="round"/>
<path d="M123.95,168.40A0.98,0.98 0 0 1 123.29,170.96A1.31,1.31 0 0 1 120.90,172.17A0.98,0.98 0 0 1 118.00,172.26A1.22,1.22 0 0 1 116.85,169.63A0.75,0.75 0 0 1 116.85,167.17A1.02,1.02 0 0 1 118.06,164.63A1.01,1.01 0 0 1 120.97,164.20A1.05,1.05 0 0 1 123.55,165.62A0.75,0.75 0 0 1 123.79,168.40" fill="none" stroke="#90a9a5" stroke-width="0.45" stroke-linejoin="round" stroke-linecap="butt" stroke-dasharray="2.7 0.6"/>
<path d="M120.95,167.94q0.6,-0.6 1.1,0.2M119.07,167.28q0.6,-0.6 1.1,0.2" fill="none" stroke="#90a9a5" stroke-width="0.45" stroke-linejoin="miter" stroke-linecap="round"/>
<path d="M131.24,170.40A1.00,1.00 0 0 1 130.58,172.46A0.79,0.79 0 0 1 128.52,172.99A1.02,1.02 0 0 1 126.30,172.62A0.61,0.61 0 0 1 125.86,170.40A1.02,1.02 0 0 1 126.22,168.10A0.57,0.57 0 0 1 128.52,167.52A0.74,0.74 0 0 1 130.80,168.11A0.85,0.85 0 0 1 131.73,170.40" fill="none" stroke="#90a9a5" stroke-width="0.45" stroke-linejoin="round" stroke-linecap="butt" stroke-dasharray="3.1 0.4"/>
<path d="M128.72,169.53q0.6,-0.6 1.1,0.2M126.76,171.61q0.6,-0.6 1.1,0.2M128.91,169.68q0.6,-0.6 1.1,0.2" fill="none" stroke="#90a9a5" stroke-width="0.45" stroke-linejoin="miter" stroke-linecap="round"/>
<path d="M122.97,173.60A0.65,0.65 0 0 1 121.98,175.71A0.96,0.96 0 0 1 119.87,176.46A0.60,0.60 0 0 1 117.46,176.01A0.98,0.98 0 0 1 116.74,173.60A1.02,1.02 0 0 1 117.97,171.70A0.89,0.89 0 0 1 119.87,170.84A0.91,0.91 0 0 1 122.08,171.39A0.80,0.80 0 0 1 122.79,173.60" fill="none" stroke="#90a9a5" stroke-width="0.45" stroke-linejoin="round" stroke-linecap="butt" stroke-dasharray="2.7 0.5"/>
<path d="M119.10,172.40q0.6,-0.6 1.1,0.2M119.38,173.80q0.6,-0.6 1.1,0.2" fill="none" stroke="#90a9a5" stroke-width="0.45" stroke-linejoin="miter" stroke-linecap="round"/>
<path d="M132.18,175.60A1.11,1.11 0 0 1 131.59,178.22A0.76,0.76 0 0 1 128.98,179.01A0.72,0.72 0 0 1 126.55,178.02A0.90,0.90 0 0 1 125.88,175.60A0.91,0.91 0 0 1 126.81,173.43A0.68,0.68 0 0 1 128.98,172.14A0.70,0.70 0 0 1 131.51,173.07A1.11,1.11 0 0 1 132.65,175.60" fill="none" stroke="#90a9a5" stroke-width="0.45" stroke-linejoin="round" stroke-linecap="butt" stroke-dasharray="2.6 0.3"/>
<path d="M127.54,175.56q0.6,-0.6 1.1,0.2M129.80,175.34q0.6,-0.6 1.1,0.2M130.78,173.33q0.6,-0.6 1.1,0.2" fill="none" stroke="#90a9a5" stroke-width="0.45" stroke-linejoin="miter" stroke-linecap="round"/>
<path d="M137.65,174.60A0.88,0.88 0 0 1 137.28,177.18A1.11,1.11 0 0 1 134.70,178.23A1.04,1.04 0 0 1 132.62,176.67A0.65,0.65 0 0 1 131.09,174.60A1.02,1.02 0 0 1 132.51,172.41A1.10,1.10 0 0 1 134.70,171.67A1.05,1.05 0 0 1 136.84,172.46A0.88,0.88 0 0 1 137.61,174.60" fill="none" stroke="#90a9a5" stroke-width="0.45" stroke-linejoin="round" stroke-linecap="butt" stroke-dasharray="3.3 0.4"/>
<path d="M134.56,176.22q0.6,-0.6 1.1,0.2M134.45,175.14q0.6,-0.6 1.1,0.2" fill="none" stroke="#90a9a5" stroke-width="0.45" stroke-linejoin="miter" stroke-linecap="round"/>
<path d="M122.77,178.80A0.92,0.92 0 0 1 121.74,180.81A0.87,0.87 0 0 1 119.73,181.27A0.76,0.76 0 0 1 118.01,180.52A0.68,0.68 0 0 1 116.91,178.80A0.77,0.77 0 0 1 117.61,176.68A0.92,0.92 0 0 1 119.73,176.03A0.97,0.97 0 0 1 121.44,177.09A0.69,0.69 0 0 1 122.54,178.80" fill="none" stroke="#90a9a5" stroke-width="0.45" stroke-linejoin="round" stroke-linecap="butt" stroke-dasharray="3.1 0.4"/>
<path d="M121.23,178.71q0.6,-0.6 1.1,0.2M118.55,180.22q0.6,-0.6 1.1,0.2" fill="none" stroke="#90a9a5" stroke-width="0.45" stroke-linejoin="miter" stroke-linecap="round"/>
<path d="M131.41,180.80A0.96,0.96 0 0 1 130.09,182.63A0.88,0.88 0 0 1 128.27,183.55A0.85,0.85 0 0 1 125.91,183.16A0.71,0.71 0 0 1 125.19,180.80A0.57,0.57 0 0 1 126.47,179.00A0.86,0.86 0 0 1 128.27,178.14A0.81,0.81 0 0 1 130.31,178.76A0.62,0.62 0 0 1 131.53,180.80" fill="none" stroke="#90a9a5" stroke-width="0.45" stroke-linejoin="round" stroke-linecap="butt" stroke-dasharray="2.2 0.6"/>
<path d="M128.73,180.87q0.6,-0.6 1.1,0.2M127.85,181.34q0.6,-0.6 1.1,0.2M127.70,181.52q0.6,-0.6 1.1,0.2" fill="none" stroke="#90a9a5" stroke-width="0.45" stroke-linejoin="miter" stroke-linecap="round"/>
<path d="M124.43,184.00A0.91,0.91 0 0 1 123.79,186.46A1.17,1.17 0 0 1 121.33,187.03A0.72,0.72 0 0 1 119.12,186.21A1.00,1.00 0 0 1 118.34,184.00A1.08,1.08 0 0 1 118.71,181.38A0.79,0.79 0 0 1 121.33,180.72A1.00,1.00 0 0 1 123.40,181.94A0.84,0.84 0 0 1 124.76,184.00" fill="none" stroke="#90a9a5" stroke-width="0.45" stroke-linejoin="round" stroke-linecap="butt" stroke-dasharray="2.8 0.5"/>
<path d="M123.38,183.15q0.6,-0.6 1.1,0.2M121.36,186.61q0.6,-0.6 1.1,0.2" fill="none" stroke="#90a9a5" stroke-width="0.45" stroke-linejoin="miter" stroke-linecap="round"/>
<path d="M130.10,186.00A0.70,0.70 0 0 1 128.99,188.31A0.67,0.67 0 0 1 126.68,189.79A1.22,1.22 0 0 1 124.15,188.52A0.78,0.78 0 0 1 123.50,186.00A0.97,0.97 0 0 1 124.11,183.44A1.15,1.15 0 0 1 126.68,182.35A0.85,0.85 0 0 1 128.94,183.73A0.70,0.70 0 0 1 130.00,186.00" fill="none" stroke="#90a9a5" stroke-width="0.45" stroke-linejoin="round" stroke-linecap="butt" stroke-dasharray="3.2 0.6"/>
<path d="M126.55,185.44q0.6,-0.6 1.1,0.2M127.99,184.05q0.6,-0.6 1.1,0.2M124.39,186.51q0.6,-0.6 1.1,0.2" fill="none" stroke="#90a9a5" stroke-width="0.45" stroke-linejoin="miter" stroke-linecap="round"/>
<path d="M136.19,185.00A0.51,0.51 0 0 1 135.57,186.71A0.82,0.82 0 0 1 133.86,187.49A0.87,0.87 0 0 1 131.91,186.94A0.61,0.61 0 0 1 131.10,185.00A0.69,0.69 0 0 1 131.98,183.13A0.72,0.72 0 0 1 133.86,182.18A0.78,0.78 0 0 1 135.59,183.27A0.59,0.59 0 0 1 136.80,185.00" fill="none" stroke="#90a9a5" stroke-width="0.45" stroke-linejoin="round" stroke-linecap="butt" stroke-dasharray="3.2 0.3"/>
<path d="M133.80,185.83q0.6,-0.6 1.1,0.2M133.78,182.90q0.6,-0.6 1.1,0.2" fill="none" stroke="#90a9a5" stroke-width="0.45" stroke-linejoin="miter" stroke-linecap="round"/>
<path d="M125.26,189.20A0.68,0.68 0 0 1 123.98,191.20A0.88,0.88 0 0 1 121.98,192.50A0.89,0.89 0 0 1 119.78,191.41A0.80,0.80 0 0 1 118.63,189.20A0.91,0.91 0 0 1 119.69,186.91A0.78,0.78 0 0 1 121.98,185.94A0.85,0.85 0 0 1 124.21,186.97A0.67,0.67 0 0 1 124.80,189.20" fill="none" stroke="#90a9a5" stroke-width="0.45" stroke-linejoin="round" stroke-linecap="butt" stroke-dasharray="2.8 0.3"/>
<path d="M122.63,188.79q0.6,-0.6 1.1,0.2M122.66,189.32q0.6,-0.6 1.1,0.2" fill="none" stroke="#90a9a5" stroke-width="0.45" stroke-linejoin="miter" stroke-linecap="round"/>
<path d="M133.12,191.20A0.63,0.63 0 0 1 132.20,193.18A0.95,0.95 0 0 1 130.22,194.59A1.01,1.01 0 0 1 127.82,193.60A0.93,0.93 0 0 1 127.38,191.20A1.05,1.05 0 0 1 128.03,189.01A1.09,1.09 0 0 1 130.22,187.70A1.08,1.08 0 0 1 132.22,189.20A1.12,1.12 0 0 1 133.80,191.20" fill="none" stroke="#90a9a5" stroke-width="0.45" stroke-linejoin="round" stroke-linecap="butt" stroke-dasharray="2.0 0.4"/>
<path d="M130.66,191.58q0.6,-0.6 1.1,0.2M131.54,189.32q0.6,-0.6 1.1,0.2M128.67,189.46q0.6,-0.6 1.1,0.2" fill="none" stroke="#90a9a5" stroke-width="0.45" stroke-linejoin="miter" stroke-linecap="round"/>
<path d="M124.11,194.40A0.92,0.92 0 0 1 123.36,196.23A0.71,0.71 0 0 1 121.53,197.07A0.56,0.56 0 0 1 119.51,196.41A0.69,0.69 0 0 1 118.81,194.40A0.73,0.73 0 0 1 119.35,192.22A1.02,1.02 0 0 1 121.53,191.64A0.97,0.97 0 0 1 123.58,192.34A0.57,0.57 0 0 1 124.53,194.40" fill="none" stroke="#90a9a5" stroke-width="0.45" stroke-linejoin="round" stroke-linecap="butt" stroke-dasharray="2.5 0.5"/>
<path d="M121.69,193.26q0.6,-0.6 1.1,0.2M121.10,192.93q0.6,-0.6 1.1,0.2" fill="none" stroke="#90a9a5" stroke-width="0.45" stroke-linejoin="miter" stroke-linecap="round"/>
<path d="M130.97,196.40A0.88,0.88 0 0 1 130.93,198.99A0.91,0.91 0 0 1 128.45,199.73A1.44,1.44 0 0 1 126.02,200.53A1.10,1.10 0 0 1 124.53,198.46A1.31,1.31 0 0 1 123.32,196.40A1.11,1.11 0 0 1 124.37,194.22A1.34,1.34 0 0 1 126.17,192.71A1.41,1.41 0 0 1 128.54,192.80A0.91,0.91 0 0 1 130.45,194.16A1.11,1.11 0 0 1 131.64,196.40" fill="none" stroke="#90a9a5" stroke-width="0.45" stroke-linejoin="round" stroke-linecap="butt" stroke-dasharray="2.0 0.6"/>
<path d="M129.83,197.77q0.6,-0.6 1.1,0.2M126.45,193.73q0.6,-0.6 1.1,0.2M126.24,195.23q0.6,-0.6 1.1,0.2" fill="none" stroke="#90a9a5" stroke-width="0.45" stroke-linejoin="miter" stroke-linecap="round"/>
<path d="M136.79,195.40A0.95,0.95 0 0 1 135.45,197.15A0.62,0.62 0 0 1 133.70,197.83A0.95,0.95 0 0 1 131.86,197.24A0.71,0.71 0 0 1 130.92,195.40A0.64,0.64 0 0 1 131.53,193.22A0.78,0.78 0 0 1 133.70,192.64A0.88,0.88 0 0 1 135.81,193.29A0.69,0.69 0 0 1 136.60,195.40" fill="none" stroke="#90a9a5" stroke-width="0.45" stroke-linejoin="round" stroke-linecap="butt" stroke-dasharray="2.3 0.4"/>
<path d="M134.64,193.98q0.6,-0.6 1.1,0.2M133.67,194.64q0.6,-0.6 1.1,0.2" fill="none" stroke="#90a9a5" stroke-width="0.45" stroke-linejoin="miter" stroke-linecap="round"/>
<path d="M124.48,199.60A0.97,0.97 0 0 1 123.26,201.70A0.84,0.84 0 0 1 121.45,203.57A0.88,0.88 0 0 1 119.09,202.49A1.21,1.21 0 0 1 117.14,200.92A0.79,0.79 0 0 1 117.65,198.47A0.89,0.89 0 0 1 119.06,196.66A0.79,0.79 0 0 1 121.39,195.99A0.81,0.81 0 0 1 123.42,197.37A1.14,1.14 0 0 1 124.87,199.60" fill="none" stroke="#90a9a5" stroke-width="0.45" stroke-linejoin="round" stroke-linecap="butt" stroke-dasharray="2.0 0.7"/>
<path d="M121.99,200.51q0.6,-0.6 1.1,0.2M123.30,199.34q0.6,-0.6 1.1,0.2" fill="none" stroke="#90a9a5" stroke-width="0.45" stroke-linejoin="miter" stroke-linecap="round"/>
<path d="M132.52,201.60A0.70,0.70 0 0 1 131.90,204.07A0.86,0.86 0 0 1 129.43,204.69A0.86,0.86 0 0 1 127.36,203.67A1.03,1.03 0 0 1 125.80,201.60A1.00,1.00 0 0 1 127.06,199.22A0.72,0.72 0 0 1 129.43,198.27A0.87,0.87 0 0 1 131.88,199.15A1.15,1.15 0 0 1 133.02,201.60" fill="none" stroke="#90a9a5" stroke-width="0.45" stroke-linejoin="round" stroke-linecap="butt" stroke-dasharray="2.5 0.5"/>
<path d="M129.42,200.10q0.6,-0.6 1.1,0.2M129.73,203.77q0.6,-0.6 1.1,0.2M131.12,200.02q0.6,-0.6 1.1,0.2" fill="none" stroke="#90a9a5" stroke-width="0.45" stroke-linejoin="miter" stroke-linecap="round"/>
<path d="M125.75,204.80A1.00,1.00 0 0 1 124.80,207.31A1.11,1.11 0 0 1 122.42,208.32A0.98,0.98 0 0 1 120.12,207.70A1.17,1.17 0 0 1 117.99,206.19A0.87,0.87 0 0 1 118.14,203.47A1.00,1.00 0 0 1 119.96,201.61A0.97,0.97 0 0 1 122.48,200.97A1.30,1.30 0 0 1 124.82,202.26A1.13,1.13 0 0 1 125.24,204.80" fill="none" stroke="#90a9a5" stroke-width="0.45" stroke-linejoin="round" stroke-linecap="butt" stroke-dasharray="3.0 0.5"/>
<path d="M118.70,205.00q0.6,-0.6 1.1,0.2M123.74,205.27q0.6,-0.6 1.1,0.2" fill="none" stroke="#90a9a5" stroke-width="0.45" stroke-linejoin="miter" stroke-linecap="round"/>
<path d="M131.54,206.80A0.81,0.81 0 0 1 130.16,209.33A1.10,1.10 0 0 1 127.84,210.74A1.08,1.08 0 0 1 125.07,210.40A1.29,1.29 0 0 1 123.32,208.19A1.01,1.01 0 0 1 123.44,205.45A0.88,0.88 0 0 1 124.94,202.99A1.00,1.00 0 0 1 127.86,202.74A0.82,0.82 0 0 1 130.36,204.10A0.98,0.98 0 0 1 131.59,206.80" fill="none" stroke="#90a9a5" stroke-width="0.45" stroke-linejoin="round" stroke-linecap="butt" stroke-dasharray="1.9 0.4"/>
<path d="M126.61,207.19q0.6,-0.6 1.1,0.2M125.62,207.66q0.6,-0.6 1.1,0.2M126.64,205.32q0.6,-0.6 1.1,0.2" fill="none" stroke="#90a9a5" stroke-width="0.45" stroke-linejoin="miter" stroke-linecap="round"/>
<path d="M136.08,205.80A0.73,0.73 0 0 1 135.36,207.87A0.85,0.85 0 0 1 133.30,208.21A0.59,0.59 0 0 1 131.50,207.59A0.84,0.84 0 0 1 130.95,205.80A0.77,0.77 0 0 1 131.29,203.80A0.74,0.74 0 0 1 133.30,203.21A0.92,0.92 0 0 1 135.00,204.09A0.78,0.78 0 0 1 135.80,205.80" fill="none" stroke="#90a9a5" stroke-width="0.45" stroke-linejoin="round" stroke-linecap="butt" stroke-dasharray="3.1 0.6"/>
<path d="M132.38,205.99q0.6,-0.6 1.1,0.2M132.69,205.61q0.6,-0.6 1.1,0.2" fill="none" stroke="#90a9a5" stroke-width="0.45" stroke-linejoin="miter" stroke-linecap="round"/>
<path d="M125.63,210.00A0.76,0.76 0 0 1 124.33,211.99A0.79,0.79 0 0 1 122.33,212.81A0.57,0.57 0 0 1 120.39,211.94A0.71,0.71 0 0 1 119.14,210.00A0.72,0.72 0 0 1 120.36,208.02A0.79,0.79 0 0 1 122.33,207.01A0.90,0.90 0 0 1 124.54,207.79A1.04,1.04 0 0 1 125.23,210.00" fill="none" stroke="#90a9a5" stroke-width="0.45" stroke-linejoin="round" stroke-linecap="butt" stroke-dasharray="3.2 0.3"/>
<path d="M123.44,207.93q0.6,-0.6 1.1,0.2M122.50,209.25q0.6,-0.6 1.1,0.2" fill="none" stroke="#90a9a5" stroke-width="0.45" stroke-linejoin="miter" stroke-linecap="round"/>
<path d="M133.02,212.00A1.29,1.29 0 0 1 132.27,214.05A0.85,0.85 0 0 1 130.49,215.78A0.79,0.79 0 0 1 128.18,214.84A1.18,1.18 0 0 1 126.62,213.17A0.79,0.79 0 0 1 126.51,210.79A1.19,1.19 0 0 1 127.78,208.46A1.25,1.25 0 0 1 130.41,208.70A1.18,1.18 0 0 1 132.73,209.56A1.25,1.25 0 0 1 133.68,212.00" fill="none" stroke="#90a9a5" stroke-width="0.45" stroke-linejoin="round" stroke-linecap="butt" stroke-dasharray="3.1 0.6"/>
<path d="M130.58,214.20q0.6,-0.6 1.1,0.2M127.42,211.53q0.6,-0.6 1.1,0.2M127.23,213.06q0.6,-0.6 1.1,0.2" fill="none" stroke="#90a9a5" stroke-width="0.45" stroke-linejoin="miter" stroke-linecap="round"/>
<path d="M164.87,120.84L168.75,122.63L164.53,121.91M163.50,121.00L168.75,122.63M164.32,122.10L164.72,126.36L163.23,122.35M163.50,121.00L164.72,126.36M162.96,122.26L159.47,124.74L162.20,121.44M163.50,121.00L159.47,124.74M162.13,121.16L158.25,119.37L162.47,120.09M163.50,121.00L158.25,119.37M162.68,119.90L162.28,115.64L163.77,119.65M163.50,121.00L162.28,115.64M164.04,119.74L167.53,117.26L164.80,120.56M163.50,121.00L167.53,117.26" fill="none" stroke="#90a9a5" stroke-width="0.5" stroke-linejoin="round" stroke-linecap="butt"/>
<path d="M168.27,121.00A1.08,1.08 0 0 1 167.20,123.38A1.28,1.28 0 0 1 165.26,124.86A1.26,1.26 0 0 1 162.91,125.09A1.28,1.28 0 0 1 160.72,124.21A1.32,1.32 0 0 1 158.99,122.32A0.90,0.90 0 0 1 158.54,119.54A1.26,1.26 0 0 1 160.13,117.11A1.42,1.42 0 0 1 162.82,116.27A1.19,1.19 0 0 1 165.64,116.32A1.65,1.65 0 0 1 167.37,118.51A1.40,1.40 0 0 1 167.66,121.00" fill="none" stroke="#90a9a5" stroke-width="0.45" stroke-linejoin="round" stroke-linecap="butt" stroke-dasharray="2.8 0.3"/>
<path d="M161.23,119.13q0.6,-0.6 1.1,0.2M165.14,120.25q0.6,-0.6 1.1,0.2" fill="none" stroke="#90a9a5" stroke-width="0.45" stroke-linejoin="miter" stroke-linecap="round"/>
<path d="M173.75,124.32L175.74,128.55L172.73,124.98M172.50,123.50L175.74,128.55M172.41,125.00L169.75,128.83L171.33,124.44M172.50,123.50L169.75,128.83M171.16,124.17L166.51,123.78L171.10,122.96M172.50,123.50L166.51,123.78M171.25,122.68L169.26,118.45L172.27,122.02M172.50,123.50L169.26,118.45M172.59,122.00L175.25,118.17L173.67,122.56M172.50,123.50L175.25,118.17M173.84,122.83L178.49,123.22L173.90,124.04M172.50,123.50L178.49,123.22" fill="none" stroke="#90a9a5" stroke-width="0.5" stroke-linejoin="round" stroke-linecap="butt"/>
<path d="M178.31,123.50A1.39,1.39 0 0 1 176.96,126.07A1.00,1.00 0 0 1 175.34,128.43A1.51,1.51 0 0 1 172.50,128.94A1.72,1.72 0 0 1 170.05,127.75A1.38,1.38 0 0 1 168.22,125.97A1.64,1.64 0 0 1 167.33,123.50A1.35,1.35 0 0 1 168.41,121.14A1.45,1.45 0 0 1 169.99,119.15A1.23,1.23 0 0 1 172.50,117.91A1.32,1.32 0 0 1 175.30,118.66A1.21,1.21 0 0 1 176.95,120.93A1.81,1.81 0 0 1 177.64,123.50" fill="none" stroke="#90a9a5" stroke-width="0.45" stroke-linejoin="round" stroke-linecap="butt" stroke-dasharray="2.8 0.6"/>
<path d="M171.56,125.18q0.6,-0.6 1.1,0.2M171.63,126.23q0.6,-0.6 1.1,0.2" fill="none" stroke="#90a9a5" stroke-width="0.45" stroke-linejoin="miter" stroke-linecap="round"/>
<path d="M182.92,121.03L187.47,122.10L182.80,122.24M181.50,121.50L187.47,122.10M182.62,122.50L183.97,126.97L181.51,123.00M181.50,121.50L183.97,126.97M181.20,122.97L178.00,126.37L180.20,122.26M181.50,121.50L178.00,126.37M180.08,121.97L175.53,120.90L180.20,120.76M181.50,121.50L175.53,120.90M180.38,120.50L179.03,116.03L181.49,120.00M181.50,121.50L179.03,116.03M181.80,120.03L185.00,116.63L182.80,120.74M181.50,121.50L185.00,116.63" fill="none" stroke="#90a9a5" stroke-width="0.5" stroke-linejoin="round" stroke-linecap="butt"/>
<path d="M186.82,121.50A1.01,1.01 0 0 1 186.29,124.26A1.74,1.74 0 0 1 184.22,126.21A1.01,1.01 0 0 1 181.50,126.69A0.98,0.98 0 0 1 179.08,125.70A1.77,1.77 0 0 1 177.43,123.85A1.54,1.54 0 0 1 176.22,121.50A1.76,1.76 0 0 1 176.71,118.73A1.50,1.50 0 0 1 178.86,116.92A1.57,1.57 0 0 1 181.50,116.19A1.56,1.56 0 0 1 184.13,116.94A1.55,1.55 0 0 1 185.59,119.14A1.63,1.63 0 0 1 186.57,121.50" fill="none" stroke="#90a9a5" stroke-width="0.45" stroke-linejoin="round" stroke-linecap="butt" stroke-dasharray="2.0 0.4"/>
<path d="M184.93,122.31q0.6,-0.6 1.1,0.2M184.17,119.90q0.6,-0.6 1.1,0.2" fill="none" stroke="#90a9a5" stroke-width="0.45" stroke-linejoin="miter" stroke-linecap="round"/>
<path d="M191.32,124.38L194.21,127.54L190.60,125.24M190.00,124.00L194.21,127.54M190.33,125.33L189.03,129.41L189.23,125.14M190.00,124.00L189.03,129.41M189.01,124.95L184.83,125.87L188.63,123.90M190.00,124.00L184.83,125.87M188.68,123.62L185.79,120.46L189.40,122.76M190.00,124.00L185.79,120.46M189.67,122.67L190.97,118.59L190.77,122.86M190.00,124.00L190.97,118.59M190.99,123.05L195.17,122.13L191.37,124.10M190.00,124.00L195.17,122.13" fill="none" stroke="#90a9a5" stroke-width="0.5" stroke-linejoin="round" stroke-linecap="butt"/>
<path d="M194.53,124.00A1.51,1.51 0 0 1 194.31,126.77A1.10,1.10 0 0 1 191.99,128.35A1.23,1.23 0 0 1 189.37,128.40A1.23,1.23 0 0 1 187.07,127.38A1.63,1.63 0 0 1 185.31,125.38A1.34,1.34 0 0 1 186.04,122.84A0.99,0.99 0 0 1 187.31,120.89A1.35,1.35 0 0 1 189.27,118.95A1.24,1.24 0 0 1 192.18,119.23A1.20,1.20 0 0 1 193.43,121.80A1.63,1.63 0 0 1 194.82,124.00" fill="none" stroke="#90a9a5" stroke-width="0.45" stroke-linejoin="round" stroke-linecap="butt" stroke-dasharray="3.4 0.5"/>
<path d="M189.09,124.56q0.6,-0.6 1.1,0.2M189.12,122.88q0.6,-0.6 1.1,0.2" fill="none" stroke="#90a9a5" stroke-width="0.45" stroke-linejoin="miter" stroke-linecap="round"/>
<path d="M198.12,120.98L201.14,122.75L197.77,121.82M197.00,121.00L201.14,122.75M197.58,121.96L197.55,125.47L196.67,122.08M197.00,121.00L197.55,125.47M196.46,121.98L193.41,123.71L195.90,121.25M197.00,121.00L193.41,123.71M195.88,121.02L192.86,119.25L196.23,120.18M197.00,121.00L192.86,119.25M196.42,120.04L196.45,116.53L197.33,119.92M197.00,121.00L196.45,116.53M197.54,120.02L200.59,118.29L198.10,120.75M197.00,121.00L200.59,118.29" fill="none" stroke="#90a9a5" stroke-width="0.5" stroke-linejoin="round" stroke-linecap="butt"/>
<path d="M200.48,121.00A0.73,0.73 0 0 1 199.56,123.15A0.81,0.81 0 0 1 197.70,124.98A0.79,0.79 0 0 1 194.83,124.76A0.81,0.81 0 0 1 193.02,122.45A1.20,1.20 0 0 1 193.86,119.86A1.20,1.20 0 0 1 195.21,117.90A0.76,0.76 0 0 1 197.61,117.54A1.19,1.19 0 0 1 200.17,118.34A1.20,1.20 0 0 1 201.22,121.00" fill="none" stroke="#90a9a5" stroke-width="0.45" stroke-linejoin="round" stroke-linecap="butt" stroke-dasharray="1.9 0.6"/>
<path d="M196.54,119.24q0.6,-0.6 1.1,0.2M198.16,120.47q0.6,-0.6 1.1,0.2" fill="none" stroke="#90a9a5" stroke-width="0.45" stroke-linejoin="miter" stroke-linecap="round"/>
<polygon points="145.46,160.66 139.35,160.41 142.56,164.89 137.99,161.80 137.88,165.62 136.10,162.24 133.95,165.40 134.28,161.59 129.51,164.03 133.09,160.05 127.35,159.57 132.92,158.12 129.96,155.46 133.83,156.40 132.50,152.06 135.52,155.45 136.80,150.05 137.46,155.56 140.64,152.83 139.03,156.70 144.77,155.50 139.73,158.51" fill="#90a9a5" fill-opacity="1.0" stroke="#90a9a5" stroke-width="0.3" stroke-linejoin="round"/>
<path d="M136.30,158.80L142.52,160.05M136.30,158.80L141.82,164.00M136.30,158.80L138.13,166.41M136.30,158.80L133.90,166.56M136.30,158.80L130.24,163.63M136.30,158.80L129.11,159.30M136.30,158.80L129.09,155.12M136.30,158.80L132.70,151.55M136.30,158.80L136.75,151.91M136.30,158.80L140.95,151.63M136.30,158.80L144.01,156.01" fill="none" stroke="#90a9a5" stroke-width="0.5" stroke-linejoin="miter" stroke-linecap="round"/>
<polygon points="154.97,162.44 150.41,161.20 151.31,166.49 148.38,162.00 145.38,167.47 146.30,161.30 140.79,163.38 145.16,159.43 140.15,157.56 145.49,157.27 143.32,153.14 147.13,155.82 148.12,150.97 149.32,155.77 153.88,151.82 151.03,157.14 155.85,157.28 151.46,159.28" fill="#90a9a5" fill-opacity="1.0" stroke="#90a9a5" stroke-width="0.3" stroke-linejoin="round"/>
<path d="M148.30,158.80L154.77,162.52M148.30,158.80L150.84,166.33M148.30,158.80L146.51,164.58M148.30,158.80L142.39,162.63M148.30,158.80L140.44,157.52M148.30,158.80L144.46,154.00M148.30,158.80L148.43,150.84M148.30,158.80L153.17,153.23M148.30,158.80L156.15,157.00" fill="none" stroke="#90a9a5" stroke-width="0.5" stroke-linejoin="miter" stroke-linecap="round"/>
<path d="M147.80,189.40L156.20,190.50L171.96,190.75M156.20,190.50L171.49,194.34M161.93,192.72L171.44,196.47M147.80,189.40L155.03,192.31L169.02,196.15M155.03,192.31L167.77,199.24M147.80,189.40L154.83,193.63L168.74,199.95M154.83,193.63L166.93,202.96M147.80,189.40L152.72,195.06L163.04,204.46M152.72,195.06L160.61,206.57M155.23,199.89L159.34,207.96M147.80,189.40L151.93,197.35L161.28,211.18M151.93,197.35L157.87,212.95M147.80,189.40L150.17,197.37L156.26,211.59M150.17,197.37L152.85,212.61M147.80,189.40L147.82,197.43L149.59,212.27M147.82,197.43L146.15,212.28M146.47,203.10L144.14,212.51M147.80,189.40L146.35,196.87L145.27,210.99M146.35,196.87L142.08,210.37M147.80,189.40L143.73,197.07L137.85,212.13M143.73,197.07L134.57,210.38M147.80,189.40L143.11,194.96L135.64,206.25M143.11,194.96L133.26,204.25M138.85,198.09L131.73,203.23M147.80,189.40L140.64,194.24L128.43,204.72M140.64,194.24L126.36,201.66M147.80,189.40L140.23,192.69L126.93,200.40M140.23,192.69L125.52,197.16M147.80,189.40L138.98,190.30L122.85,193.86M138.98,190.30L122.47,190.08M132.59,189.43L121.99,187.90M147.80,189.40L139.79,188.58L124.80,188.77M139.79,188.58L125.15,185.34M147.80,189.40L140.78,186.83L127.24,183.59M140.78,186.83L128.34,180.58M147.80,189.40L141.45,185.48L128.87,179.60M141.45,185.48L130.55,176.89M137.64,181.63L131.35,175.19M147.80,189.40L142.61,183.55L131.75,173.84M142.61,183.55L134.26,171.61M147.80,189.40L144.03,182.46L135.56,170.42M144.03,182.46L138.54,168.81M147.80,189.40L145.89,182.25L140.84,169.45M145.89,182.25L143.90,168.63M145.77,176.88L145.63,167.95M147.80,189.40L147.20,180.33L144.14,163.68M147.20,180.33L148.02,163.42M147.80,189.40L149.31,182.25L150.57,168.70M149.31,182.25L153.64,169.35M147.80,189.40L151.77,181.69L157.47,166.58M151.77,181.69L160.77,168.28M155.90,176.93L162.81,169.06M147.80,189.40L152.95,182.90L161.08,169.77M152.95,182.90L163.86,171.98M147.80,189.40L154.33,184.54L165.35,174.15M154.33,184.54L167.43,176.94M147.80,189.40L154.31,186.40L165.70,179.47M154.31,186.40L166.99,182.26M159.42,185.41L167.92,183.80M147.80,189.40L156.59,188.58L172.68,185.19M156.59,188.58L173.03,188.96" fill="none" stroke="#90a9a5" stroke-width="0.55" stroke-linejoin="round" stroke-linecap="round"/>
<polygon points="215.97,126.24 207.66,124.52 212.22,131.98 206.35,125.50 205.64,133.21 204.72,125.52 198.63,132.74 203.39,124.58 195.32,126.47 202.86,123.04 193.58,119.31 203.34,121.48 198.38,113.49 204.65,120.50 205.33,110.95 206.28,120.48 212.72,112.76 207.61,121.42 215.14,119.71 208.14,122.96" fill="#90a9a5" fill-opacity="1.0" stroke="#90a9a5" stroke-width="0.3" stroke-linejoin="round"/>
<path d="M205.50,123.00L214.20,125.17M205.50,123.00L210.90,129.67M205.50,123.00L206.19,133.10M205.50,123.00L199.50,130.75M205.50,123.00L194.66,126.05M205.50,123.00L195.56,120.49M205.50,123.00L200.20,116.10M205.50,123.00L205.87,113.86M205.50,123.00L211.55,114.56M205.50,123.00L215.59,120.17" fill="none" stroke="#90a9a5" stroke-width="0.5" stroke-linejoin="miter" stroke-linecap="round"/>
<polygon points="242.92,135.84 237.22,129.97 236.76,138.32 235.59,130.04 230.84,135.73 234.23,129.14 224.55,131.88 233.66,127.61 224.14,124.11 234.10,126.04 230.03,119.60 235.38,125.03 235.90,118.03 237.01,124.96 241.94,119.01 238.37,125.86 246.15,123.83 238.94,127.39 248.18,130.81 238.50,128.96" fill="#90a9a5" fill-opacity="1.0" stroke="#90a9a5" stroke-width="0.3" stroke-linejoin="round"/>
<path d="M236.30,127.50L242.73,136.46M236.30,127.50L237.35,138.31M236.30,127.50L230.33,136.02M236.30,127.50L228.18,130.00M236.30,127.50L225.82,125.06M236.30,127.50L230.21,118.94M236.30,127.50L235.62,117.29M236.30,127.50L241.31,120.44M236.30,127.50L244.80,124.13M236.30,127.50L245.92,129.72" fill="none" stroke="#90a9a5" stroke-width="0.5" stroke-linejoin="miter" stroke-linecap="round"/>
<path d="M254.55,116.34L264.24,117.80L254.45,117.30M251.30,116.50L264.24,117.80M254.38,117.53L262.89,122.38L253.95,118.38M251.30,116.50L262.89,122.38M253.80,118.57L259.98,126.17L253.09,119.21M251.30,116.50L259.98,126.17M252.89,119.34L255.90,128.66L251.99,119.68M251.30,116.50L255.90,128.66M251.75,119.72L251.20,129.50L250.80,119.71M251.30,116.50L251.20,129.50M250.56,119.66L246.51,128.59L249.67,119.31M251.30,116.50L246.51,128.59M249.47,119.18L242.47,126.04L248.77,118.53M251.30,116.50L242.47,126.04M248.62,118.34L239.62,122.21L248.20,117.48M251.30,116.50L239.62,122.21M248.14,117.25L238.35,117.60L248.06,116.30M251.30,116.50L238.35,117.60M248.08,116.06L238.82,112.85L248.35,115.14M251.30,116.50L238.82,112.85M248.46,114.92L240.99,108.59L249.04,114.16M251.30,116.50L240.99,108.59M249.22,114.00L244.54,105.40L250.04,113.51M251.30,116.50L244.54,105.40M250.26,113.42L249.01,103.70L251.20,113.25M251.30,116.50L249.01,103.70M251.44,113.25L253.79,103.74L252.38,113.44M251.30,116.50L253.79,103.74M252.61,113.52L258.23,105.50L253.42,114.03M251.30,116.50L258.23,105.50M253.59,114.20L261.73,108.74L254.17,114.97M251.30,116.50L261.73,108.74M254.27,115.18L263.83,113.04L254.53,116.11M251.30,116.50L263.83,113.04" fill="none" stroke="#90a9a5" stroke-width="0.55" stroke-linejoin="round" stroke-linecap="butt"/>
<path d="M274.51,125.99L283.72,129.34L274.23,126.91M271.30,125.50L283.72,129.34M274.12,127.12L281.49,133.57L273.52,127.87M271.30,125.50L281.49,133.57M273.34,128.03L277.89,136.71L272.52,128.51M271.30,125.50L277.89,136.71M272.29,128.60L273.40,138.33L271.35,128.75M271.30,125.50L273.40,138.33M271.11,128.74L268.62,138.22L270.17,128.55M271.30,125.50L268.62,138.22M269.95,128.46L264.21,136.39L269.14,127.93M271.30,125.50L264.21,136.39M268.97,127.77L260.75,133.10L268.41,126.99M271.30,125.50L260.75,133.10M268.31,126.77L258.72,128.77L268.07,125.85M271.30,125.50L258.72,128.77M268.05,125.61L258.39,124.01L268.16,124.65M271.30,125.50L258.39,124.01M268.23,124.43L259.80,119.44L268.68,123.58M271.30,125.50L259.80,119.44M268.83,123.39L262.76,115.70L269.55,122.76M271.30,125.50L262.76,115.70M269.76,122.64L266.88,113.27L270.66,122.31M271.30,125.50L266.88,113.27M270.89,122.28L271.60,112.50L271.85,122.30M271.30,125.50L271.60,112.50M272.09,122.35L276.27,113.49L272.97,122.71M271.30,125.50L276.27,113.49M273.17,122.84L280.27,116.10L273.87,123.50M271.30,125.50L280.27,116.10M274.01,123.70L283.07,119.97L274.41,124.57M271.30,125.50L283.07,119.97M274.47,124.80L284.27,124.60L274.54,125.75M271.30,125.50L284.27,124.60" fill="none" stroke="#90a9a5" stroke-width="0.55" stroke-linejoin="round" stroke-linecap="butt"/>
<path d="M225.89,120.50A0.91,0.91 0 0 1 225.21,122.83A0.82,0.82 0 0 1 223.39,124.76A0.95,0.95 0 0 1 220.60,124.81A1.48,1.48 0 0 1 218.98,122.69A1.48,1.48 0 0 1 218.05,120.50A1.45,1.45 0 0 1 218.19,117.73A1.13,1.13 0 0 1 220.81,116.84A1.48,1.48 0 0 1 223.18,116.88A1.26,1.26 0 0 1 225.78,117.75A1.05,1.05 0 0 1 226.22,120.50" fill="none" stroke="#90a9a5" stroke-width="0.45" stroke-linejoin="round" stroke-linecap="butt" stroke-dasharray="3.1 0.5"/>
<path d="M221.24,119.71q0.6,-0.6 1.1,0.2M222.15,121.33q0.6,-0.6 1.1,0.2M221.48,118.27q0.6,-0.6 1.1,0.2" fill="none" stroke="#90a9a5" stroke-width="0.45" stroke-linejoin="miter" stroke-linecap="round"/>
<path d="M231.00,123.00A0.78,0.78 0 0 1 230.59,125.59A0.72,0.72 0 0 1 228.00,126.24A1.10,1.10 0 0 1 225.80,125.20A0.72,0.72 0 0 1 224.83,123.00A0.81,0.81 0 0 1 225.65,120.65A0.69,0.69 0 0 1 228.00,119.31A0.66,0.66 0 0 1 230.66,120.34A1.00,1.00 0 0 1 231.68,123.00" fill="none" stroke="#90a9a5" stroke-width="0.45" stroke-linejoin="round" stroke-linecap="butt" stroke-dasharray="2.1 0.5"/>
<path d="M227.75,124.08q0.6,-0.6 1.1,0.2M228.41,124.29q0.6,-0.6 1.1,0.2" fill="none" stroke="#90a9a5" stroke-width="0.45" stroke-linejoin="miter" stroke-linecap="round"/>
<path d="M265.31,130.00A1.31,1.31 0 0 1 264.31,132.78A0.91,0.91 0 0 1 261.59,133.33A0.76,0.76 0 0 1 258.89,133.65A0.91,0.91 0 0 1 257.21,131.38A0.73,0.73 0 0 1 256.96,128.53A0.94,0.94 0 0 1 258.94,126.43A0.72,0.72 0 0 1 261.59,126.63A1.06,1.06 0 0 1 264.18,127.34A1.00,1.00 0 0 1 264.47,130.00" fill="none" stroke="#90a9a5" stroke-width="0.45" stroke-linejoin="round" stroke-linecap="butt" stroke-dasharray="3.3 0.4"/>
<path d="M260.14,129.58q0.6,-0.6 1.1,0.2M262.11,132.36q0.6,-0.6 1.1,0.2" fill="none" stroke="#90a9a5" stroke-width="0.45" stroke-linejoin="miter" stroke-linecap="round"/>
<circle cx="291.28" cy="114.05" r="0.67" fill="none" stroke="#90a9a5" stroke-width="0.6"/>
<circle cx="300.15" cy="123.68" r="0.85" fill="none" stroke="#90a9a5" stroke-width="0.6"/>
<circle cx="291.72" cy="124.16" r="0.91" fill="none" stroke="#90a9a5" stroke-width="0.6"/>
<circle cx="289.78" cy="109.00" r="0.89" fill="none" stroke="#90a9a5" stroke-width="0.6"/>
<circle cx="293.37" cy="121.82" r="0.96" fill="none" stroke="#90a9a5" stroke-width="0.6"/>
<circle cx="284.31" cy="124.33" r="0.65" fill="none" stroke="#90a9a5" stroke-width="0.6"/>
<circle cx="294.98" cy="112.82" r="1.01" fill="none" stroke="#90a9a5" stroke-width="0.6"/>
<circle cx="297.82" cy="112.93" r="0.64" fill="none" stroke="#90a9a5" stroke-width="0.6"/>
<circle cx="299.21" cy="114.76" r="1.02" fill="none" stroke="#90a9a5" stroke-width="0.6"/>
<circle cx="291.99" cy="123.93" r="1.00" fill="none" stroke="#90a9a5" stroke-width="0.6"/>
<circle cx="289.38" cy="122.45" r="0.80" fill="none" stroke="#90a9a5" stroke-width="0.6"/>
<circle cx="291.85" cy="118.56" r="0.86" fill="none" stroke="#90a9a5" stroke-width="0.6"/>
<circle cx="284.72" cy="121.76" r="0.68" fill="none" stroke="#90a9a5" stroke-width="0.6"/>
<circle cx="290.21" cy="108.86" r="1.02" fill="none" stroke="#90a9a5" stroke-width="0.6"/>
<circle cx="288.32" cy="127.75" r="0.80" fill="none" stroke="#90a9a5" stroke-width="0.6"/>
<circle cx="292.52" cy="116.15" r="1.02" fill="none" stroke="#90a9a5" stroke-width="0.6"/>
<circle cx="300.25" cy="116.70" r="0.86" fill="none" stroke="#90a9a5" stroke-width="0.6"/>
<circle cx="284.22" cy="117.39" r="0.64" fill="none" stroke="#90a9a5" stroke-width="0.6"/>
<circle cx="297.83" cy="117.89" r="0.71" fill="none" stroke="#90a9a5" stroke-width="0.6"/>
<circle cx="297.10" cy="122.46" r="1.00" fill="none" stroke="#90a9a5" stroke-width="0.6"/>
<circle cx="296.01" cy="119.67" r="0.94" fill="none" stroke="#90a9a5" stroke-width="0.6"/>
<circle cx="293.02" cy="120.44" r="0.90" fill="none" stroke="#90a9a5" stroke-width="0.6"/>
<circle cx="285.13" cy="115.16" r="0.95" fill="none" stroke="#90a9a5" stroke-width="0.6"/>
<circle cx="301.06" cy="125.46" r="0.95" fill="none" stroke="#90a9a5" stroke-width="0.6"/>
<circle cx="296.37" cy="120.13" r="0.85" fill="none" stroke="#90a9a5" stroke-width="0.6"/>
<circle cx="286.42" cy="118.97" r="0.68" fill="none" stroke="#90a9a5" stroke-width="0.6"/>
<circle cx="288.97" cy="121.38" r="0.90" fill="none" stroke="#90a9a5" stroke-width="0.6"/>
<circle cx="295.34" cy="115.62" r="0.89" fill="none" stroke="#90a9a5" stroke-width="0.6"/>
<circle cx="292.40" cy="114.34" r="1.00" fill="none" stroke="#90a9a5" stroke-width="0.6"/>
<circle cx="299.13" cy="116.26" r="0.82" fill="none" stroke="#90a9a5" stroke-width="0.6"/>
<circle cx="296.96" cy="111.95" r="0.81" fill="none" stroke="#90a9a5" stroke-width="0.6"/>
<circle cx="301.95" cy="115.35" r="0.78" fill="none" stroke="#90a9a5" stroke-width="0.6"/>
<circle cx="292.90" cy="125.64" r="0.83" fill="none" stroke="#90a9a5" stroke-width="0.6"/>
<circle cx="302.74" cy="117.79" r="1.04" fill="none" stroke="#90a9a5" stroke-width="0.6"/>
<circle cx="296.71" cy="109.28" r="0.65" fill="none" stroke="#90a9a5" stroke-width="0.6"/>
<circle cx="281.31" cy="117.77" r="1.05" fill="none" stroke="#90a9a5" stroke-width="0.6"/>
<circle cx="292.53" cy="126.47" r="0.91" fill="none" stroke="#90a9a5" stroke-width="0.6"/>
<circle cx="286.98" cy="125.30" r="0.66" fill="none" stroke="#90a9a5" stroke-width="0.6"/>
<circle cx="285.04" cy="122.34" r="0.64" fill="none" stroke="#90a9a5" stroke-width="0.6"/>
<circle cx="299.75" cy="127.70" r="0.98" fill="none" stroke="#90a9a5" stroke-width="0.6"/>
<circle cx="300.94" cy="115.47" r="0.99" fill="none" stroke="#90a9a5" stroke-width="0.6"/>
<circle cx="300.59" cy="111.82" r="0.65" fill="none" stroke="#90a9a5" stroke-width="0.6"/>
<circle cx="288.77" cy="114.39" r="0.94" fill="none" stroke="#90a9a5" stroke-width="0.6"/>
<circle cx="291.26" cy="127.38" r="1.05" fill="none" stroke="#90a9a5" stroke-width="0.6"/>
<circle cx="288.33" cy="115.03" r="0.86" fill="none" stroke="#90a9a5" stroke-width="0.6"/>
<circle cx="282.25" cy="123.54" r="0.76" fill="none" stroke="#90a9a5" stroke-width="0.6"/>
<circle cx="289.34" cy="127.70" r="0.68" fill="none" stroke="#90a9a5" stroke-width="0.6"/>
<circle cx="283.17" cy="112.72" r="0.86" fill="none" stroke="#90a9a5" stroke-width="0.6"/>
<circle cx="291.59" cy="126.80" r="0.87" fill="none" stroke="#90a9a5" stroke-width="0.6"/>
<circle cx="294.91" cy="122.25" r="0.69" fill="none" stroke="#90a9a5" stroke-width="0.6"/>
<circle cx="290.52" cy="126.06" r="0.76" fill="none" stroke="#90a9a5" stroke-width="0.6"/>
<circle cx="292.64" cy="122.41" r="0.88" fill="none" stroke="#90a9a5" stroke-width="0.6"/>
<circle cx="297.30" cy="111.41" r="0.89" fill="none" stroke="#90a9a5" stroke-width="0.6"/>
<circle cx="289.48" cy="114.82" r="0.95" fill="none" stroke="#90a9a5" stroke-width="0.6"/>
<circle cx="284.24" cy="121.07" r="0.91" fill="none" stroke="#90a9a5" stroke-width="0.6"/>
<circle cx="286.21" cy="120.24" r="0.74" fill="none" stroke="#90a9a5" stroke-width="0.6"/>
<circle cx="293.96" cy="127.10" r="0.80" fill="none" stroke="#90a9a5" stroke-width="0.6"/>
<circle cx="291.42" cy="118.36" r="0.79" fill="none" stroke="#90a9a5" stroke-width="0.6"/>
<circle cx="296.13" cy="114.71" r="0.88" fill="none" stroke="#90a9a5" stroke-width="0.6"/>
<circle cx="286.37" cy="119.33" r="1.07" fill="none" stroke="#90a9a5" stroke-width="0.6"/>
<circle cx="289.65" cy="128.69" r="0.70" fill="none" stroke="#90a9a5" stroke-width="0.6"/>
<circle cx="302.30" cy="123.37" r="0.83" fill="none" stroke="#90a9a5" stroke-width="0.6"/>
<circle cx="299.13" cy="121.72" r="0.83" fill="none" stroke="#90a9a5" stroke-width="0.6"/>
<circle cx="292.15" cy="115.21" r="0.73" fill="none" stroke="#90a9a5" stroke-width="0.6"/>
<circle cx="302.06" cy="116.50" r="0.70" fill="none" stroke="#90a9a5" stroke-width="0.6"/>
<circle cx="288.95" cy="124.83" r="0.93" fill="none" stroke="#90a9a5" stroke-width="0.6"/>
<circle cx="284.60" cy="111.92" r="1.00" fill="none" stroke="#90a9a5" stroke-width="0.6"/>
<circle cx="282.68" cy="117.90" r="0.96" fill="none" stroke="#90a9a5" stroke-width="0.6"/>
<circle cx="292.98" cy="111.09" r="0.98" fill="none" stroke="#90a9a5" stroke-width="0.6"/>
<circle cx="289.67" cy="108.37" r="0.69" fill="none" stroke="#90a9a5" stroke-width="0.6"/>
<circle cx="293.02" cy="118.45" r="0.97" fill="none" stroke="#90a9a5" stroke-width="0.6"/>
<circle cx="285.54" cy="114.83" r="1.06" fill="none" stroke="#90a9a5" stroke-width="0.6"/>
<circle cx="285.81" cy="115.75" r="0.98" fill="none" stroke="#90a9a5" stroke-width="0.6"/>
<circle cx="298.75" cy="112.57" r="0.80" fill="none" stroke="#90a9a5" stroke-width="0.6"/>
<circle cx="285.07" cy="121.30" r="0.96" fill="none" stroke="#90a9a5" stroke-width="0.6"/>
<circle cx="290.59" cy="125.93" r="0.88" fill="none" stroke="#90a9a5" stroke-width="0.6"/>
<circle cx="287.62" cy="123.33" r="0.98" fill="none" stroke="#90a9a5" stroke-width="0.6"/>
<circle cx="297.26" cy="112.41" r="0.83" fill="none" stroke="#90a9a5" stroke-width="0.6"/>
<circle cx="295.05" cy="124.81" r="0.70" fill="none" stroke="#90a9a5" stroke-width="0.6"/>
<circle cx="284.70" cy="115.00" r="0.67" fill="none" stroke="#90a9a5" stroke-width="0.6"/>
<circle cx="298.24" cy="115.85" r="1.01" fill="none" stroke="#90a9a5" stroke-width="0.6"/>
<circle cx="298.42" cy="109.42" r="0.72" fill="none" stroke="#90a9a5" stroke-width="0.6"/>
<circle cx="282.68" cy="123.89" r="0.63" fill="none" stroke="#90a9a5" stroke-width="0.6"/>
<circle cx="300.76" cy="121.54" r="0.85" fill="none" stroke="#90a9a5" stroke-width="0.6"/>
<circle cx="301.37" cy="114.14" r="0.87" fill="none" stroke="#90a9a5" stroke-width="0.6"/>
<circle cx="300.77" cy="118.91" r="0.86" fill="none" stroke="#90a9a5" stroke-width="0.6"/>
<circle cx="289.66" cy="112.41" r="0.79" fill="none" stroke="#90a9a5" stroke-width="0.6"/>
<circle cx="286.86" cy="115.18" r="1.06" fill="none" stroke="#90a9a5" stroke-width="0.6"/>
<circle cx="288.79" cy="111.54" r="0.67" fill="none" stroke="#90a9a5" stroke-width="0.6"/>
<circle cx="287.37" cy="124.17" r="0.88" fill="none" stroke="#90a9a5" stroke-width="0.6"/>
<circle cx="282.86" cy="114.16" r="1.06" fill="none" stroke="#90a9a5" stroke-width="0.6"/>
<circle cx="284.90" cy="119.64" r="0.91" fill="none" stroke="#90a9a5" stroke-width="0.6"/>
<circle cx="299.24" cy="118.84" r="0.87" fill="none" stroke="#90a9a5" stroke-width="0.6"/>
<circle cx="294.41" cy="114.65" r="0.77" fill="none" stroke="#90a9a5" stroke-width="0.6"/>
<circle cx="302.86" cy="117.59" r="0.86" fill="none" stroke="#90a9a5" stroke-width="0.6"/>
<circle cx="300.86" cy="125.96" r="0.94" fill="none" stroke="#90a9a5" stroke-width="0.6"/>
<circle cx="297.41" cy="108.66" r="1.03" fill="none" stroke="#90a9a5" stroke-width="0.6"/>
<circle cx="288.50" cy="121.17" r="0.76" fill="none" stroke="#90a9a5" stroke-width="0.6"/>
<circle cx="284.35" cy="118.40" r="0.71" fill="none" stroke="#90a9a5" stroke-width="0.6"/>
<circle cx="296.26" cy="127.32" r="0.90" fill="none" stroke="#90a9a5" stroke-width="0.6"/>
<circle cx="285.58" cy="128.14" r="0.92" fill="none" stroke="#90a9a5" stroke-width="0.6"/>
<circle cx="299.62" cy="120.94" r="0.98" fill="none" stroke="#90a9a5" stroke-width="0.6"/>
<circle cx="289.16" cy="127.96" r="0.63" fill="none" stroke="#90a9a5" stroke-width="0.6"/>
<circle cx="288.96" cy="128.94" r="0.89" fill="none" stroke="#90a9a5" stroke-width="0.6"/>
<circle cx="289.99" cy="114.56" r="0.85" fill="none" stroke="#90a9a5" stroke-width="0.6"/>
<circle cx="286.90" cy="117.05" r="0.92" fill="none" stroke="#90a9a5" stroke-width="0.6"/>
<circle cx="281.24" cy="116.74" r="0.89" fill="none" stroke="#90a9a5" stroke-width="0.6"/>
<circle cx="289.10" cy="121.12" r="0.70" fill="none" stroke="#90a9a5" stroke-width="0.6"/>
<circle cx="292.72" cy="115.25" r="0.68" fill="none" stroke="#90a9a5" stroke-width="0.6"/>
<circle cx="296.48" cy="126.30" r="1.00" fill="none" stroke="#90a9a5" stroke-width="0.6"/>
<circle cx="284.67" cy="112.27" r="0.66" fill="none" stroke="#90a9a5" stroke-width="0.6"/>
<circle cx="302.56" cy="119.79" r="0.78" fill="none" stroke="#90a9a5" stroke-width="0.6"/>
<circle cx="291.03" cy="112.32" r="0.71" fill="none" stroke="#90a9a5" stroke-width="0.6"/>
<circle cx="292.12" cy="122.61" r="1.04" fill="none" stroke="#90a9a5" stroke-width="0.6"/>
<circle cx="286.59" cy="115.64" r="0.83" fill="none" stroke="#90a9a5" stroke-width="0.6"/>
<circle cx="290.48" cy="120.77" r="1.03" fill="none" stroke="#90a9a5" stroke-width="0.6"/>
<circle cx="282.72" cy="113.41" r="0.83" fill="none" stroke="#90a9a5" stroke-width="0.6"/>
<circle cx="288.32" cy="115.06" r="0.65" fill="none" stroke="#90a9a5" stroke-width="0.6"/>
<circle cx="302.14" cy="114.52" r="0.77" fill="none" stroke="#90a9a5" stroke-width="0.6"/>
<circle cx="300.86" cy="112.83" r="0.77" fill="none" stroke="#90a9a5" stroke-width="0.6"/>
<circle cx="283.49" cy="112.23" r="0.85" fill="none" stroke="#90a9a5" stroke-width="0.6"/>
<circle cx="297.89" cy="117.24" r="0.81" fill="none" stroke="#90a9a5" stroke-width="0.6"/>
<circle cx="291.43" cy="113.69" r="0.77" fill="none" stroke="#90a9a5" stroke-width="0.6"/>
<circle cx="298.17" cy="113.35" r="0.99" fill="none" stroke="#90a9a5" stroke-width="0.6"/>
<circle cx="292.70" cy="123.79" r="0.79" fill="none" stroke="#90a9a5" stroke-width="0.6"/>
<circle cx="296.90" cy="129.45" r="0.76" fill="none" stroke="#90a9a5" stroke-width="0.6"/>
<circle cx="288.89" cy="117.53" r="0.87" fill="none" stroke="#90a9a5" stroke-width="0.6"/>
<circle cx="287.00" cy="123.81" r="0.66" fill="none" stroke="#90a9a5" stroke-width="0.6"/>
<circle cx="299.97" cy="126.31" r="0.79" fill="none" stroke="#90a9a5" stroke-width="0.6"/>
<circle cx="292.66" cy="124.03" r="0.76" fill="none" stroke="#90a9a5" stroke-width="0.6"/>
<circle cx="292.67" cy="121.14" r="0.93" fill="none" stroke="#90a9a5" stroke-width="0.6"/>
<circle cx="290.03" cy="122.81" r="0.95" fill="none" stroke="#90a9a5" stroke-width="0.6"/>
<circle cx="297.49" cy="122.28" r="1.01" fill="none" stroke="#90a9a5" stroke-width="0.6"/>
<circle cx="297.82" cy="124.51" r="1.01" fill="none" stroke="#90a9a5" stroke-width="0.6"/>
<circle cx="294.05" cy="114.68" r="0.79" fill="none" stroke="#90a9a5" stroke-width="0.6"/>
<circle cx="291.28" cy="112.05" r="1.06" fill="none" stroke="#90a9a5" stroke-width="0.6"/>
<circle cx="295.42" cy="129.83" r="0.86" fill="none" stroke="#90a9a5" stroke-width="0.6"/>
<circle cx="293.60" cy="126.66" r="0.69" fill="none" stroke="#90a9a5" stroke-width="0.6"/>
<circle cx="290.91" cy="113.35" r="1.03" fill="none" stroke="#90a9a5" stroke-width="0.6"/>
<circle cx="286.55" cy="115.35" r="0.74" fill="none" stroke="#90a9a5" stroke-width="0.6"/>
<circle cx="288.38" cy="115.67" r="1.02" fill="none" stroke="#90a9a5" stroke-width="0.6"/>
<circle cx="298.40" cy="124.74" r="0.87" fill="none" stroke="#90a9a5" stroke-width="0.6"/>
<circle cx="291.21" cy="129.02" r="0.80" fill="none" stroke="#90a9a5" stroke-width="0.6"/>
<circle cx="287.74" cy="111.76" r="0.77" fill="none" stroke="#90a9a5" stroke-width="0.6"/>
<circle cx="289.90" cy="121.15" r="0.71" fill="none" stroke="#90a9a5" stroke-width="0.6"/>
<circle cx="296.36" cy="113.75" r="0.93" fill="none" stroke="#90a9a5" stroke-width="0.6"/>
<circle cx="299.18" cy="124.45" r="0.79" fill="none" stroke="#90a9a5" stroke-width="0.6"/>
<circle cx="286.23" cy="118.99" r="0.66" fill="none" stroke="#90a9a5" stroke-width="0.6"/>
<circle cx="290.44" cy="124.07" r="0.69" fill="none" stroke="#90a9a5" stroke-width="0.6"/>
<circle cx="291.23" cy="113.02" r="0.81" fill="none" stroke="#90a9a5" stroke-width="0.6"/>
<circle cx="301.01" cy="113.52" r="1.03" fill="none" stroke="#90a9a5" stroke-width="0.6"/>
<circle cx="295.19" cy="115.80" r="0.75" fill="none" stroke="#90a9a5" stroke-width="0.6"/>
<circle cx="301.82" cy="120.75" r="0.93" fill="none" stroke="#90a9a5" stroke-width="0.6"/>
<circle cx="288.10" cy="124.94" r="0.93" fill="none" stroke="#90a9a5" stroke-width="0.6"/>
<circle cx="290.70" cy="113.56" r="1.01" fill="none" stroke="#90a9a5" stroke-width="0.6"/>
<circle cx="287.04" cy="126.31" r="0.71" fill="none" stroke="#90a9a5" stroke-width="0.6"/>
<circle cx="300.73" cy="126.28" r="0.96" fill="none" stroke="#90a9a5" stroke-width="0.6"/>
<circle cx="291.96" cy="116.75" r="0.65" fill="none" stroke="#90a9a5" stroke-width="0.6"/>
<circle cx="295.19" cy="123.36" r="0.77" fill="none" stroke="#90a9a5" stroke-width="0.6"/>
<circle cx="290.83" cy="120.55" r="0.77" fill="none" stroke="#90a9a5" stroke-width="0.6"/>
<circle cx="289.35" cy="115.28" r="1.01" fill="none" stroke="#90a9a5" stroke-width="0.6"/>
<circle cx="283.70" cy="114.85" r="0.74" fill="none" stroke="#90a9a5" stroke-width="0.6"/>
<circle cx="283.77" cy="122.78" r="0.79" fill="none" stroke="#90a9a5" stroke-width="0.6"/>
<circle cx="303.00" cy="119.06" r="0.98" fill="none" stroke="#90a9a5" stroke-width="0.6"/>
<circle cx="291.96" cy="121.32" r="1.01" fill="none" stroke="#90a9a5" stroke-width="0.6"/>
<circle cx="290.55" cy="117.44" r="0.74" fill="none" stroke="#90a9a5" stroke-width="0.6"/>
<circle cx="300.33" cy="125.58" r="0.72" fill="none" stroke="#90a9a5" stroke-width="0.6"/>
<circle cx="301.05" cy="113.90" r="0.67" fill="none" stroke="#90a9a5" stroke-width="0.6"/>
<circle cx="290.04" cy="112.22" r="0.97" fill="none" stroke="#90a9a5" stroke-width="0.6"/>
<circle cx="295.40" cy="113.63" r="0.67" fill="none" stroke="#90a9a5" stroke-width="0.6"/>
<circle cx="299.57" cy="116.52" r="1.05" fill="none" stroke="#90a9a5" stroke-width="0.6"/>
<circle cx="288.96" cy="109.77" r="1.00" fill="none" stroke="#90a9a5" stroke-width="0.6"/>
<circle cx="287.14" cy="113.42" r="0.65" fill="none" stroke="#90a9a5" stroke-width="0.6"/>
<circle cx="290.10" cy="111.87" r="0.86" fill="none" stroke="#90a9a5" stroke-width="0.6"/>
<circle cx="296.20" cy="117.21" r="0.97" fill="none" stroke="#90a9a5" stroke-width="0.6"/>
<circle cx="301.78" cy="121.61" r="0.99" fill="none" stroke="#90a9a5" stroke-width="0.6"/>
<circle cx="291.90" cy="127.48" r="1.07" fill="none" stroke="#90a9a5" stroke-width="0.6"/>
<circle cx="286.99" cy="112.55" r="0.74" fill="none" stroke="#90a9a5" stroke-width="0.6"/>
<circle cx="298.91" cy="121.51" r="0.82" fill="none" stroke="#90a9a5" stroke-width="0.6"/>
<circle cx="294.43" cy="125.11" r="0.69" fill="none" stroke="#90a9a5" stroke-width="0.6"/>
<circle cx="289.99" cy="109.93" r="0.74" fill="none" stroke="#90a9a5" stroke-width="0.6"/>
<circle cx="292.93" cy="127.24" r="0.83" fill="none" stroke="#90a9a5" stroke-width="0.6"/>
<circle cx="298.77" cy="116.33" r="0.76" fill="none" stroke="#90a9a5" stroke-width="0.6"/>
<circle cx="295.74" cy="116.13" r="0.88" fill="none" stroke="#90a9a5" stroke-width="0.6"/>
<circle cx="287.29" cy="127.99" r="0.88" fill="none" stroke="#90a9a5" stroke-width="0.6"/>
<circle cx="292.81" cy="114.28" r="0.93" fill="none" stroke="#90a9a5" stroke-width="0.6"/>
<circle cx="286.14" cy="114.46" r="0.97" fill="none" stroke="#90a9a5" stroke-width="0.6"/>
<circle cx="294.40" cy="115.60" r="0.76" fill="none" stroke="#90a9a5" stroke-width="0.6"/>
<circle cx="289.16" cy="123.02" r="0.66" fill="none" stroke="#90a9a5" stroke-width="0.6"/>
<circle cx="291.52" cy="124.01" r="0.95" fill="none" stroke="#90a9a5" stroke-width="0.6"/>
<circle cx="288.84" cy="120.24" r="0.78" fill="none" stroke="#90a9a5" stroke-width="0.6"/>
<circle cx="285.71" cy="120.36" r="0.71" fill="none" stroke="#90a9a5" stroke-width="0.6"/>
<circle cx="293.58" cy="119.52" r="1.08" fill="none" stroke="#90a9a5" stroke-width="0.6"/>
<circle cx="292.51" cy="115.67" r="0.95" fill="none" stroke="#90a9a5" stroke-width="0.6"/>
<circle cx="301.07" cy="117.93" r="0.68" fill="none" stroke="#90a9a5" stroke-width="0.6"/>
<circle cx="284.94" cy="119.53" r="0.72" fill="none" stroke="#90a9a5" stroke-width="0.6"/>
<circle cx="291.49" cy="118.72" r="1.04" fill="none" stroke="#90a9a5" stroke-width="0.6"/>
<circle cx="286.89" cy="111.82" r="1.05" fill="none" stroke="#90a9a5" stroke-width="0.6"/>
<circle cx="289.19" cy="114.28" r="0.74" fill="none" stroke="#90a9a5" stroke-width="0.6"/>
<circle cx="293.73" cy="120.46" r="0.98" fill="none" stroke="#90a9a5" stroke-width="0.6"/>
<circle cx="295.84" cy="113.71" r="0.71" fill="none" stroke="#90a9a5" stroke-width="0.6"/>
<circle cx="285.66" cy="110.93" r="1.05" fill="none" stroke="#90a9a5" stroke-width="0.6"/>
<circle cx="297.49" cy="127.88" r="1.00" fill="none" stroke="#90a9a5" stroke-width="0.6"/>
<circle cx="292.18" cy="112.43" r="0.71" fill="none" stroke="#90a9a5" stroke-width="0.6"/>
<circle cx="295.47" cy="113.21" r="0.80" fill="none" stroke="#90a9a5" stroke-width="0.6"/>
<circle cx="285.87" cy="116.79" r="1.00" fill="none" stroke="#90a9a5" stroke-width="0.6"/>
<circle cx="292.66" cy="121.33" r="0.89" fill="none" stroke="#90a9a5" stroke-width="0.6"/>
<circle cx="285.29" cy="111.49" r="0.95" fill="none" stroke="#90a9a5" stroke-width="0.6"/>
<circle cx="301.75" cy="112.73" r="0.85" fill="none" stroke="#90a9a5" stroke-width="0.6"/>
<circle cx="287.94" cy="119.01" r="0.76" fill="none" stroke="#90a9a5" stroke-width="0.6"/>
<circle cx="289.66" cy="117.41" r="0.94" fill="none" stroke="#90a9a5" stroke-width="0.6"/>
<circle cx="296.45" cy="125.56" r="1.07" fill="none" stroke="#90a9a5" stroke-width="0.6"/>
<circle cx="294.44" cy="120.23" r="0.83" fill="none" stroke="#90a9a5" stroke-width="0.6"/>
<circle cx="296.05" cy="128.11" r="0.63" fill="none" stroke="#90a9a5" stroke-width="0.6"/>
<circle cx="298.25" cy="110.05" r="0.98" fill="none" stroke="#90a9a5" stroke-width="0.6"/>
<circle cx="287.04" cy="121.76" r="0.93" fill="none" stroke="#90a9a5" stroke-width="0.6"/>
<circle cx="285.07" cy="118.32" r="0.78" fill="none" stroke="#90a9a5" stroke-width="0.6"/>
<circle cx="283.80" cy="122.53" r="1.00" fill="none" stroke="#90a9a5" stroke-width="0.6"/>
<circle cx="296.34" cy="116.35" r="0.76" fill="none" stroke="#90a9a5" stroke-width="0.6"/>
<circle cx="284.41" cy="122.02" r="0.79" fill="none" stroke="#90a9a5" stroke-width="0.6"/>
<circle cx="293.63" cy="122.16" r="0.78" fill="none" stroke="#90a9a5" stroke-width="0.6"/>
<circle cx="281.51" cy="121.79" r="1.04" fill="none" stroke="#90a9a5" stroke-width="0.6"/>
<circle cx="300.03" cy="110.50" r="1.06" fill="none" stroke="#90a9a5" stroke-width="0.6"/>
<circle cx="284.94" cy="111.92" r="0.66" fill="none" stroke="#90a9a5" stroke-width="0.6"/>
<circle cx="288.50" cy="110.97" r="0.76" fill="none" stroke="#90a9a5" stroke-width="0.6"/>
<circle cx="282.38" cy="114.15" r="0.85" fill="none" stroke="#90a9a5" stroke-width="0.6"/>
<circle cx="288.72" cy="113.97" r="0.78" fill="none" stroke="#90a9a5" stroke-width="0.6"/>
<circle cx="293.94" cy="117.73" r="0.71" fill="none" stroke="#90a9a5" stroke-width="0.6"/>
<circle cx="289.17" cy="112.07" r="0.67" fill="none" stroke="#90a9a5" stroke-width="0.6"/>
<circle cx="288.76" cy="113.07" r="0.89" fill="none" stroke="#90a9a5" stroke-width="0.6"/>
<circle cx="296.54" cy="131.01" r="0.79" fill="none" stroke="#90a9a5" stroke-width="0.6"/>
<circle cx="298.52" cy="130.13" r="0.63" fill="none" stroke="#90a9a5" stroke-width="0.6"/>
<circle cx="303.14" cy="126.40" r="0.60" fill="none" stroke="#90a9a5" stroke-width="0.6"/>
<circle cx="301.79" cy="126.89" r="0.60" fill="none" stroke="#90a9a5" stroke-width="0.6"/>
<circle cx="297.29" cy="128.47" r="0.76" fill="none" stroke="#90a9a5" stroke-width="0.6"/>
<circle cx="297.53" cy="128.13" r="0.79" fill="none" stroke="#90a9a5" stroke-width="0.6"/>
<circle cx="302.99" cy="131.57" r="0.80" fill="none" stroke="#90a9a5" stroke-width="0.6"/>
<circle cx="303.08" cy="130.70" r="0.59" fill="none" stroke="#90a9a5" stroke-width="0.6"/>
<circle cx="295.25" cy="130.90" r="0.78" fill="none" stroke="#90a9a5" stroke-width="0.6"/>
<circle cx="298.94" cy="124.33" r="0.61" fill="none" stroke="#90a9a5" stroke-width="0.6"/>
<circle cx="304.66" cy="128.73" r="0.60" fill="none" stroke="#90a9a5" stroke-width="0.6"/>
<circle cx="301.66" cy="125.98" r="0.63" fill="none" stroke="#90a9a5" stroke-width="0.6"/>
<circle cx="304.00" cy="127.97" r="0.87" fill="none" stroke="#90a9a5" stroke-width="0.6"/>
<circle cx="303.16" cy="132.67" r="0.58" fill="none" stroke="#90a9a5" stroke-width="0.6"/>
<circle cx="300.28" cy="132.34" r="0.57" fill="none" stroke="#90a9a5" stroke-width="0.6"/>
<circle cx="297.89" cy="127.58" r="0.68" fill="none" stroke="#90a9a5" stroke-width="0.6"/>
<circle cx="299.05" cy="125.54" r="0.92" fill="none" stroke="#90a9a5" stroke-width="0.6"/>
<circle cx="296.28" cy="125.46" r="0.79" fill="none" stroke="#90a9a5" stroke-width="0.6"/>
<circle cx="304.46" cy="126.46" r="0.63" fill="none" stroke="#90a9a5" stroke-width="0.6"/>
<circle cx="299.91" cy="125.79" r="0.87" fill="none" stroke="#90a9a5" stroke-width="0.6"/>
<circle cx="297.89" cy="124.47" r="0.61" fill="none" stroke="#90a9a5" stroke-width="0.6"/>
<circle cx="296.70" cy="132.38" r="0.94" fill="none" stroke="#90a9a5" stroke-width="0.6"/>
<circle cx="299.80" cy="127.87" r="0.80" fill="none" stroke="#90a9a5" stroke-width="0.6"/>
<circle cx="303.30" cy="131.39" r="0.88" fill="none" stroke="#90a9a5" stroke-width="0.6"/>
<circle cx="304.01" cy="132.45" r="0.83" fill="none" stroke="#90a9a5" stroke-width="0.6"/>
<circle cx="299.93" cy="131.42" r="0.74" fill="none" stroke="#90a9a5" stroke-width="0.6"/>
<circle cx="302.21" cy="125.43" r="0.61" fill="none" stroke="#90a9a5" stroke-width="0.6"/>
<circle cx="301.81" cy="129.24" r="0.88" fill="none" stroke="#90a9a5" stroke-width="0.6"/>
<circle cx="301.62" cy="132.76" r="0.68" fill="none" stroke="#90a9a5" stroke-width="0.6"/>
<circle cx="298.69" cy="125.87" r="0.62" fill="none" stroke="#90a9a5" stroke-width="0.6"/>
<circle cx="302.86" cy="126.15" r="0.84" fill="none" stroke="#90a9a5" stroke-width="0.6"/>
<circle cx="301.92" cy="124.00" r="0.57" fill="none" stroke="#90a9a5" stroke-width="0.6"/>
<circle cx="298.83" cy="130.79" r="0.76" fill="none" stroke="#90a9a5" stroke-width="0.6"/>
<circle cx="303.44" cy="125.48" r="0.57" fill="none" stroke="#90a9a5" stroke-width="0.6"/>
<circle cx="302.05" cy="133.53" r="0.83" fill="none" stroke="#90a9a5" stroke-width="0.6"/>
<circle cx="297.04" cy="131.37" r="0.62" fill="none" stroke="#90a9a5" stroke-width="0.6"/>
<circle cx="301.94" cy="126.15" r="0.91" fill="none" stroke="#90a9a5" stroke-width="0.6"/>
<circle cx="298.84" cy="128.03" r="0.69" fill="none" stroke="#90a9a5" stroke-width="0.6"/>
<circle cx="301.09" cy="134.08" r="0.80" fill="none" stroke="#90a9a5" stroke-width="0.6"/>
<circle cx="302.18" cy="129.61" r="0.70" fill="none" stroke="#90a9a5" stroke-width="0.6"/>
<circle cx="295.91" cy="129.84" r="0.72" fill="none" stroke="#90a9a5" stroke-width="0.6"/>
<circle cx="299.74" cy="129.34" r="0.79" fill="none" stroke="#90a9a5" stroke-width="0.6"/>
<circle cx="299.60" cy="129.68" r="0.74" fill="none" stroke="#90a9a5" stroke-width="0.6"/>
<circle cx="301.17" cy="128.90" r="0.62" fill="none" stroke="#90a9a5" stroke-width="0.6"/>
<circle cx="298.63" cy="126.47" r="0.67" fill="none" stroke="#90a9a5" stroke-width="0.6"/>
<circle cx="297.18" cy="129.00" r="0.79" fill="none" stroke="#90a9a5" stroke-width="0.6"/>
<circle cx="294.70" cy="128.05" r="0.96" fill="none" stroke="#90a9a5" stroke-width="0.6"/>
<circle cx="304.02" cy="129.88" r="0.87" fill="none" stroke="#90a9a5" stroke-width="0.6"/>
<circle cx="303.37" cy="125.52" r="0.81" fill="none" stroke="#90a9a5" stroke-width="0.6"/>
<circle cx="297.80" cy="126.52" r="0.67" fill="none" stroke="#90a9a5" stroke-width="0.6"/>
<circle cx="301.44" cy="124.07" r="0.94" fill="none" stroke="#90a9a5" stroke-width="0.6"/>
<circle cx="298.73" cy="126.25" r="0.87" fill="none" stroke="#90a9a5" stroke-width="0.6"/>
<circle cx="299.74" cy="125.08" r="0.81" fill="none" stroke="#90a9a5" stroke-width="0.6"/>
<circle cx="297.59" cy="132.30" r="0.72" fill="none" stroke="#90a9a5" stroke-width="0.6"/>
<circle cx="302.97" cy="130.18" r="0.69" fill="none" stroke="#90a9a5" stroke-width="0.6"/>
<circle cx="303.81" cy="128.72" r="0.71" fill="none" stroke="#90a9a5" stroke-width="0.6"/>
<circle cx="300.11" cy="131.66" r="0.70" fill="none" stroke="#90a9a5" stroke-width="0.6"/>
<circle cx="300.31" cy="129.35" r="0.91" fill="none" stroke="#90a9a5" stroke-width="0.6"/>
<circle cx="296.49" cy="130.07" r="0.79" fill="none" stroke="#90a9a5" stroke-width="0.6"/>
<circle cx="299.27" cy="131.14" r="0.59" fill="none" stroke="#90a9a5" stroke-width="0.6"/>
<circle cx="299.03" cy="131.90" r="0.85" fill="none" stroke="#90a9a5" stroke-width="0.6"/>
<circle cx="294.95" cy="127.31" r="0.70" fill="none" stroke="#90a9a5" stroke-width="0.6"/>
<circle cx="303.70" cy="127.00" r="0.59" fill="none" stroke="#90a9a5" stroke-width="0.6"/>
<circle cx="301.81" cy="132.78" r="0.95" fill="none" stroke="#90a9a5" stroke-width="0.6"/>
<circle cx="296.99" cy="132.79" r="0.73" fill="none" stroke="#90a9a5" stroke-width="0.6"/>
<circle cx="300.97" cy="127.95" r="0.75" fill="none" stroke="#90a9a5" stroke-width="0.6"/>
<circle cx="302.33" cy="127.29" r="0.66" fill="none" stroke="#90a9a5" stroke-width="0.6"/>
<circle cx="302.21" cy="129.32" r="0.67" fill="none" stroke="#90a9a5" stroke-width="0.6"/>
<circle cx="299.27" cy="126.53" r="0.72" fill="none" stroke="#90a9a5" stroke-width="0.6"/>
<circle cx="301.31" cy="133.06" r="0.91" fill="none" stroke="#90a9a5" stroke-width="0.6"/>
<circle cx="281.94" cy="120.58" r="0.85" fill="none" stroke="#90a9a5" stroke-width="0.55"/>
<circle cx="286.02" cy="121.29" r="0.59" fill="none" stroke="#90a9a5" stroke-width="0.55"/>
<circle cx="284.37" cy="118.52" r="0.70" fill="none" stroke="#90a9a5" stroke-width="0.55"/>
<circle cx="284.13" cy="123.31" r="0.77" fill="none" stroke="#90a9a5" stroke-width="0.55"/>
<circle cx="285.27" cy="119.74" r="0.93" fill="none" stroke="#90a9a5" stroke-width="0.55"/>
<circle cx="283.54" cy="124.22" r="0.86" fill="none" stroke="#90a9a5" stroke-width="0.55"/>
<circle cx="281.49" cy="119.95" r="0.83" fill="none" stroke="#90a9a5" stroke-width="0.55"/>
<circle cx="282.50" cy="122.82" r="0.73" fill="none" stroke="#90a9a5" stroke-width="0.55"/>
<circle cx="286.04" cy="122.89" r="0.69" fill="none" stroke="#90a9a5" stroke-width="0.55"/>
<circle cx="279.91" cy="122.11" r="0.66" fill="none" stroke="#90a9a5" stroke-width="0.55"/>
<circle cx="282.55" cy="122.11" r="0.93" fill="none" stroke="#90a9a5" stroke-width="0.55"/>
<circle cx="279.34" cy="120.44" r="0.58" fill="none" stroke="#90a9a5" stroke-width="0.55"/>
<circle cx="280.43" cy="119.77" r="0.69" fill="none" stroke="#90a9a5" stroke-width="0.55"/>
<circle cx="284.32" cy="122.88" r="0.62" fill="none" stroke="#90a9a5" stroke-width="0.55"/>
<circle cx="283.13" cy="120.81" r="0.89" fill="none" stroke="#90a9a5" stroke-width="0.55"/>
<circle cx="280.40" cy="123.36" r="0.80" fill="none" stroke="#90a9a5" stroke-width="0.55"/>
<circle cx="279.95" cy="120.90" r="0.80" fill="none" stroke="#90a9a5" stroke-width="0.55"/>
<circle cx="281.33" cy="125.01" r="0.66" fill="none" stroke="#90a9a5" stroke-width="0.55"/>
<circle cx="282.16" cy="118.61" r="0.87" fill="none" stroke="#90a9a5" stroke-width="0.55"/>
<circle cx="281.72" cy="125.28" r="0.95" fill="none" stroke="#90a9a5" stroke-width="0.55"/>
<circle cx="280.98" cy="122.61" r="0.77" fill="none" stroke="#90a9a5" stroke-width="0.55"/>
<circle cx="284.35" cy="121.47" r="0.56" fill="none" stroke="#90a9a5" stroke-width="0.55"/>
<circle cx="279.80" cy="122.49" r="0.87" fill="none" stroke="#90a9a5" stroke-width="0.55"/>
<circle cx="280.42" cy="125.03" r="0.65" fill="none" stroke="#90a9a5" stroke-width="0.55"/>
<circle cx="283.05" cy="120.80" r="0.57" fill="none" stroke="#90a9a5" stroke-width="0.55"/>
<circle cx="283.65" cy="122.73" r="0.76" fill="none" stroke="#90a9a5" stroke-width="0.55"/>
<circle cx="281.40" cy="121.42" r="0.94" fill="none" stroke="#90a9a5" stroke-width="0.55"/>
<circle cx="281.97" cy="123.16" r="0.63" fill="none" stroke="#90a9a5" stroke-width="0.55"/>
<circle cx="282.70" cy="118.17" r="0.62" fill="none" stroke="#90a9a5" stroke-width="0.55"/>
<circle cx="286.47" cy="122.64" r="0.66" fill="none" stroke="#90a9a5" stroke-width="0.55"/>
<circle cx="285.81" cy="121.69" r="0.81" fill="none" stroke="#90a9a5" stroke-width="0.55"/>
<circle cx="281.00" cy="124.97" r="0.74" fill="none" stroke="#90a9a5" stroke-width="0.55"/>
<circle cx="281.30" cy="125.40" r="0.60" fill="none" stroke="#90a9a5" stroke-width="0.55"/>
<circle cx="282.89" cy="120.98" r="0.82" fill="none" stroke="#90a9a5" stroke-width="0.55"/>
<circle cx="279.97" cy="124.15" r="0.58" fill="none" stroke="#90a9a5" stroke-width="0.55"/>
<circle cx="280.64" cy="120.99" r="0.93" fill="none" stroke="#90a9a5" stroke-width="0.55"/>
<circle cx="285.98" cy="120.93" r="0.65" fill="none" stroke="#90a9a5" stroke-width="0.55"/>
<circle cx="282.98" cy="124.05" r="0.73" fill="none" stroke="#90a9a5" stroke-width="0.55"/>
<circle cx="283.21" cy="123.79" r="0.86" fill="none" stroke="#90a9a5" stroke-width="0.55"/>
<circle cx="281.64" cy="120.29" r="0.96" fill="none" stroke="#90a9a5" stroke-width="0.55"/>
<polygon points="293.88,138.71 288.80,138.34 288.78,144.35 285.64,139.22 281.58,142.05 282.98,137.30 276.33,135.99 282.82,134.03 279.69,128.00 285.28,131.86 287.76,127.26 288.51,132.43 294.81,130.88 290.08,135.32" fill="#90a9a5" fill-opacity="1.0" stroke="#90a9a5" stroke-width="0.3" stroke-linejoin="round"/>
<path d="M286.30,135.50L293.14,138.71M286.30,135.50L288.64,143.24M286.30,135.50L281.80,141.16M286.30,135.50L277.92,135.73M286.30,135.50L280.76,129.27M286.30,135.50L287.92,128.32M286.30,135.50L293.28,132.11" fill="none" stroke="#90a9a5" stroke-width="0.5" stroke-linejoin="miter" stroke-linecap="round"/>
<polygon points="299.75,150.00 298.72,151.35 298.55,152.79 297.50,153.78 297.15,155.57 295.15,154.99 294.05,155.98 292.69,155.28 291.01,156.64 290.40,154.51 288.28,155.00 288.56,152.92 286.69,152.30 287.76,150.61 286.84,149.28 287.61,148.04 287.88,146.63 289.25,146.03 289.56,144.04 291.35,144.48 292.60,143.16 294.04,144.13 295.41,144.42 296.21,145.68 298.18,145.65 298.13,147.42 298.92,148.60" fill="none" stroke="#90a9a5" stroke-width="0.5" stroke-linejoin="round"/>
<path d="M291.30,149.95l-0.11,0.36l0.31,0.19M291.11,154.25l-0.61,0.59l0.38,-0.26M294.63,153.40l-0.56,0.74l0.60,-0.51M291.24,152.31l0.67,0.51l0.43,0.17M295.95,147.33l-0.36,0.41l0.46,-0.54M295.86,150.79l-0.15,0.63l0.52,-0.59M291.63,146.65l0.07,0.63l0.71,0.19" fill="none" stroke="#90a9a5" stroke-width="0.5" stroke-linejoin="round" stroke-linecap="round"/>
<path d="M296.74,150.00A0.87,0.87 0 0 1 295.54,152.54A0.88,0.88 0 0 1 293.00,153.23A0.86,0.86 0 0 1 290.29,152.71A0.88,0.88 0 0 1 289.71,150.00A1.21,1.21 0 0 1 290.83,147.83A0.99,0.99 0 0 1 293.00,147.06A0.79,0.79 0 0 1 295.68,147.32A0.86,0.86 0 0 1 296.50,150.00" fill="none" stroke="#90a9a5" stroke-width="0.45" stroke-linejoin="round" stroke-linecap="butt" stroke-dasharray="2.2 0.4"/>
<path d="M294.86,151.66q0.6,-0.6 1.1,0.2M293.56,147.41q0.6,-0.6 1.1,0.2" fill="none" stroke="#90a9a5" stroke-width="0.45" stroke-linejoin="miter" stroke-linecap="round"/>
<polygon points="303.62,161.00 303.13,162.32 303.13,163.82 301.84,164.60 301.24,166.10 299.55,165.78 298.40,167.38 297.10,165.71 295.36,166.62 294.55,165.17 293.14,164.53 293.14,162.92 291.63,161.80 293.07,160.38 292.32,158.75 293.68,157.86 294.24,156.46 295.74,156.19 296.89,155.19 298.33,155.83 299.88,155.20 300.83,156.54 302.26,156.99 302.60,158.47 303.85,159.50" fill="none" stroke="#90a9a5" stroke-width="0.5" stroke-linejoin="round"/>
<path d="M298.53,164.13l-0.38,0.85l0.58,-0.02M295.42,160.64l-0.45,0.39l0.86,-0.18M295.22,160.58l0.50,0.44l0.40,0.06M294.81,161.81l0.52,0.84l0.82,-0.57M294.99,163.78l0.51,0.37l0.39,-0.40M299.68,162.26l0.49,0.61l0.57,-0.53M294.21,163.92l0.31,0.57l0.59,0.04" fill="none" stroke="#90a9a5" stroke-width="0.5" stroke-linejoin="round" stroke-linecap="round"/>
<path d="M301.36,161.00A0.95,0.95 0 0 1 300.00,163.00A0.87,0.87 0 0 1 298.00,164.02A0.79,0.79 0 0 1 295.94,163.06A0.80,0.80 0 0 1 295.00,161.00A0.70,0.70 0 0 1 296.08,159.08A0.62,0.62 0 0 1 298.00,157.80A0.97,0.97 0 0 1 300.02,158.98A0.77,0.77 0 0 1 300.94,161.00" fill="none" stroke="#90a9a5" stroke-width="0.45" stroke-linejoin="round" stroke-linecap="butt" stroke-dasharray="2.2 0.6"/>
<path d="M299.56,162.01q0.6,-0.6 1.1,0.2M298.59,160.28q0.6,-0.6 1.1,0.2" fill="none" stroke="#90a9a5" stroke-width="0.45" stroke-linejoin="miter" stroke-linecap="round"/>
<polygon points="298.93,171.00 298.16,172.34 298.40,173.97 296.71,174.53 296.13,175.88 294.70,176.09 293.61,177.28 292.17,176.75 290.69,177.05 289.74,175.78 287.95,175.83 287.63,174.21 286.52,173.18 287.04,171.64 285.97,170.24 286.93,168.97 287.30,167.58 288.41,166.67 289.15,165.20 290.93,165.74 292.11,164.36 293.45,165.63 294.92,165.39 295.96,166.36 297.40,166.89 297.51,168.48 298.82,169.50" fill="none" stroke="#90a9a5" stroke-width="0.5" stroke-linejoin="round"/>
<path d="M295.83,168.62l-0.76,0.66l0.58,-0.23M293.85,168.85l-0.04,0.83l0.56,-0.21M288.11,170.67l0.27,0.74l0.54,-0.57M291.15,168.13l0.43,0.76l0.37,-0.42M296.37,173.04l-0.64,0.35l0.75,-0.15M296.03,172.27l0.34,0.59l0.33,-0.05M289.62,172.63l0.80,0.79l0.82,-0.48" fill="none" stroke="#90a9a5" stroke-width="0.5" stroke-linejoin="round" stroke-linecap="round"/>
<path d="M295.74,171.00A0.65,0.65 0 0 1 294.91,173.41A0.80,0.80 0 0 1 292.50,174.85A0.82,0.82 0 0 1 290.25,173.25A1.13,1.13 0 0 1 289.33,171.00A0.94,0.94 0 0 1 290.06,168.56A0.67,0.67 0 0 1 292.50,167.68A1.14,1.14 0 0 1 294.77,168.73A1.13,1.13 0 0 1 296.18,171.00" fill="none" stroke="#90a9a5" stroke-width="0.45" stroke-linejoin="round" stroke-linecap="butt" stroke-dasharray="2.2 0.4"/>
<path d="M294.19,171.57q0.6,-0.6 1.1,0.2M291.37,172.15q0.6,-0.6 1.1,0.2" fill="none" stroke="#90a9a5" stroke-width="0.45" stroke-linejoin="miter" stroke-linecap="round"/>
<polygon points="303.99,180.00 303.16,181.28 303.05,182.76 301.79,183.50 300.75,184.46 299.34,184.54 297.88,184.91 296.99,183.49 295.43,183.31 295.11,181.87 294.12,180.74 294.71,179.35 294.61,177.88 295.95,177.17 296.40,175.49 298.07,175.93 299.38,174.87 300.64,175.83 302.16,176.04 302.53,177.59 304.07,178.44" fill="none" stroke="#90a9a5" stroke-width="0.5" stroke-linejoin="round"/>
<path d="M295.64,181.21l-0.71,0.56l0.68,-0.56M299.49,179.43l0.15,0.41l0.85,-0.15M299.70,177.87l0.28,0.70l0.48,-0.43M299.53,179.14l0.67,0.42l0.36,-0.52M299.82,176.26l-0.14,0.70l0.45,0.12M298.59,179.04l-0.71,0.72l0.33,0.07M298.64,181.27l0.13,0.49l0.64,-0.48" fill="none" stroke="#90a9a5" stroke-width="0.5" stroke-linejoin="round" stroke-linecap="round"/>
<path d="M301.91,180.00A0.87,0.87 0 0 1 300.76,181.76A0.85,0.85 0 0 1 299.00,182.36A0.67,0.67 0 0 1 296.91,182.09A0.66,0.66 0 0 1 296.72,180.00A0.59,0.59 0 0 1 297.08,178.08A0.54,0.54 0 0 1 299.00,177.35A0.82,0.82 0 0 1 300.83,178.17A0.79,0.79 0 0 1 301.56,180.00" fill="none" stroke="#90a9a5" stroke-width="0.45" stroke-linejoin="round" stroke-linecap="butt" stroke-dasharray="2.0 0.6"/>
<path d="M300.48,181.43q0.6,-0.6 1.1,0.2M301.09,179.95q0.6,-0.6 1.1,0.2" fill="none" stroke="#90a9a5" stroke-width="0.45" stroke-linejoin="miter" stroke-linecap="round"/>
<polygon points="305.01,145.00 304.13,146.27 303.64,147.68 302.19,148.04 300.72,148.41 299.51,147.49 298.53,146.43 298.50,145.00 298.19,143.40 299.60,142.61 300.72,141.57 302.13,142.23 303.57,142.40 304.13,143.74" fill="none" stroke="#90a9a5" stroke-width="0.5" stroke-linejoin="round"/>
<path d="M303.39,143.49l-0.44,0.85l0.32,-0.12M302.67,144.76l0.71,0.69l0.33,-0.33M300.59,145.30l0.39,0.41l0.77,-0.36M303.06,145.73l-0.65,0.63l0.77,-0.12M301.08,145.10l0.02,0.36l0.69,-0.49M300.43,144.43l-0.20,0.70l0.40,-0.46M302.58,144.58l0.55,0.82l0.59,-0.48" fill="none" stroke="#90a9a5" stroke-width="0.5" stroke-linejoin="round" stroke-linecap="round"/>
<path d="M303.13,145.00A0.38,0.38 0 0 1 302.93,146.43A0.51,0.51 0 0 1 301.50,146.83A0.49,0.49 0 0 1 300.34,146.16A0.51,0.51 0 0 1 299.84,145.00A0.46,0.46 0 0 1 300.20,143.70A0.47,0.47 0 0 1 301.50,143.32A0.39,0.39 0 0 1 302.69,143.81A0.61,0.61 0 0 1 303.20,145.00" fill="none" stroke="#90a9a5" stroke-width="0.45" stroke-linejoin="round" stroke-linecap="butt" stroke-dasharray="2.6 0.7"/>
<path d="M302.96,145.14q0.6,-0.6 1.1,0.2M300.22,145.09q0.6,-0.6 1.1,0.2" fill="none" stroke="#90a9a5" stroke-width="0.45" stroke-linejoin="miter" stroke-linecap="round"/>
<polygon points="305.53,170.00 304.78,171.34 304.10,172.63 302.69,173.04 301.26,173.25 300.19,172.28 299.05,171.42 299.03,170.00 298.84,168.48 300.18,167.72 301.18,166.40 302.63,167.24 304.21,167.23 304.61,168.74" fill="none" stroke="#90a9a5" stroke-width="0.5" stroke-linejoin="round"/>
<path d="M300.12,168.72l0.34,0.34l0.45,-0.12M302.45,169.95l0.19,0.72l0.79,-0.33M302.55,168.62l0.67,0.31l0.86,-0.27M301.53,170.31l-0.41,0.74l0.71,-0.48M301.61,170.58l-0.48,0.43l0.50,0.18M304.29,169.96l-0.03,0.60l0.77,0.13M302.02,168.09l-0.48,0.68l0.81,0.03" fill="none" stroke="#90a9a5" stroke-width="0.5" stroke-linejoin="round" stroke-linecap="round"/>
<path d="M303.62,170.00A0.45,0.45 0 0 1 303.37,171.37A0.64,0.64 0 0 1 302.00,171.66A0.58,0.58 0 0 1 300.65,171.35A0.60,0.60 0 0 1 300.35,170.00A0.63,0.63 0 0 1 300.55,168.55A0.60,0.60 0 0 1 302.00,168.05A0.53,0.53 0 0 1 303.40,168.60A0.60,0.60 0 0 1 303.80,170.00" fill="none" stroke="#90a9a5" stroke-width="0.45" stroke-linejoin="round" stroke-linecap="butt" stroke-dasharray="3.1 0.6"/>
<path d="M301.55,171.42q0.6,-0.6 1.1,0.2M300.56,169.71q0.6,-0.6 1.1,0.2" fill="none" stroke="#90a9a5" stroke-width="0.45" stroke-linejoin="miter" stroke-linecap="round"/>
<polygon points="292.10,160.00 291.68,161.42 291.15,162.94 289.47,163.00 288.08,163.96 286.93,162.72 285.56,162.14 285.32,160.68 284.92,159.24 285.86,158.08 286.49,156.52 288.15,156.67 289.71,156.28 290.65,157.61 292.11,158.39" fill="none" stroke="#90a9a5" stroke-width="0.5" stroke-linejoin="round"/>
<path d="M289.09,157.89l0.71,0.80l0.54,-0.53M287.00,157.87l-0.26,0.66l0.80,0.03M290.18,160.05l-0.77,0.37l0.79,-0.27M287.24,159.02l-0.26,0.43l0.51,0.08M287.65,159.21l-0.66,0.46l0.72,-0.25M287.16,157.86l-0.61,0.71l0.32,0.06M288.94,161.01l0.73,0.52l0.43,0.11" fill="none" stroke="#90a9a5" stroke-width="0.5" stroke-linejoin="round" stroke-linecap="round"/>
<path d="M290.55,160.00A0.51,0.51 0 0 1 290.06,161.56A0.70,0.70 0 0 1 288.50,161.99A0.71,0.71 0 0 1 287.09,161.41A0.65,0.65 0 0 1 286.68,160.00A0.55,0.55 0 0 1 287.23,158.73A0.43,0.43 0 0 1 288.50,158.29A0.53,0.53 0 0 1 290.07,158.43A0.46,0.46 0 0 1 290.65,160.00" fill="none" stroke="#90a9a5" stroke-width="0.45" stroke-linejoin="round" stroke-linecap="butt" stroke-dasharray="2.4 0.3"/>
<path d="M287.10,159.52q0.6,-0.6 1.1,0.2M287.68,159.93q0.6,-0.6 1.1,0.2" fill="none" stroke="#90a9a5" stroke-width="0.45" stroke-linejoin="miter" stroke-linecap="round"/>
<polygon points="300.24,140.00 299.35,141.39 298.89,142.89 297.24,142.99 296.00,144.07 294.69,143.15 292.99,143.01 292.88,141.29 291.91,140.00 292.76,138.66 293.22,137.22 294.68,136.81 296.00,135.90 297.39,136.64 298.83,137.17 299.12,138.71" fill="none" stroke="#90a9a5" stroke-width="0.5" stroke-linejoin="round"/>
<path d="M296.55,139.92l0.54,0.71l0.63,-0.24M296.02,137.10l0.37,0.75l0.32,-0.34M298.00,142.33l0.63,0.39l0.65,-0.14M297.43,140.43l0.40,0.68l0.47,0.01M295.51,141.86l-0.13,0.89l0.69,0.04M295.35,138.69l0.74,0.73l0.71,-0.38M297.06,141.71l0.52,0.78l0.51,-0.49" fill="none" stroke="#90a9a5" stroke-width="0.5" stroke-linejoin="round" stroke-linecap="round"/>
<path d="M298.10,140.00A0.45,0.45 0 0 1 297.63,141.63A0.46,0.46 0 0 1 296.00,142.23A0.41,0.41 0 0 1 294.60,141.40A0.53,0.53 0 0 1 294.03,140.00A0.73,0.73 0 0 1 294.33,138.33A0.50,0.50 0 0 1 296.00,138.09A0.47,0.47 0 0 1 297.66,138.34A0.55,0.55 0 0 1 297.99,140.00" fill="none" stroke="#90a9a5" stroke-width="0.45" stroke-linejoin="round" stroke-linecap="butt" stroke-dasharray="2.0 0.4"/>
<path d="M295.31,140.54q0.6,-0.6 1.1,0.2M296.69,139.84q0.6,-0.6 1.1,0.2" fill="none" stroke="#90a9a5" stroke-width="0.45" stroke-linejoin="miter" stroke-linecap="round"/>
<polygon points="305.88,153.00 305.36,154.36 304.49,155.58 303.00,155.70 301.47,155.65 300.68,154.34 300.08,153.00 300.87,151.77 301.45,150.31 303.00,150.43 304.51,150.38 305.29,151.68" fill="none" stroke="#90a9a5" stroke-width="0.5" stroke-linejoin="round"/>
<path d="M303.01,152.12l-0.22,0.85l0.62,-0.37M302.42,152.38l0.43,0.32l0.80,-0.15M301.62,154.81l-0.38,0.45l0.34,-0.16M303.04,151.28l-0.14,0.78l0.37,-0.35M301.57,151.16l0.21,0.72l0.76,-0.28M304.73,152.32l-0.25,0.54l0.78,-0.32M303.84,154.96l0.05,0.61l0.70,0.12" fill="none" stroke="#90a9a5" stroke-width="0.5" stroke-linejoin="round" stroke-linecap="round"/>
<path d="M304.41,153.00A0.31,0.31 0 0 1 304.06,154.06A0.43,0.43 0 0 1 303.00,154.53A0.47,0.47 0 0 1 301.78,154.22A0.40,0.40 0 0 1 301.40,153.00A0.37,0.37 0 0 1 301.87,151.87A0.51,0.51 0 0 1 303.00,151.28A0.34,0.34 0 0 1 304.21,151.79A0.50,0.50 0 0 1 304.64,153.00" fill="none" stroke="#90a9a5" stroke-width="0.45" stroke-linejoin="round" stroke-linecap="butt" stroke-dasharray="2.6 0.7"/>
<path d="M303.84,152.38q0.6,-0.6 1.1,0.2M303.41,152.15q0.6,-0.6 1.1,0.2" fill="none" stroke="#90a9a5" stroke-width="0.45" stroke-linejoin="miter" stroke-linecap="round"/>
<polygon points="293.58,180.00 292.50,181.20 292.18,182.73 290.67,182.93 289.23,183.37 288.23,182.21 287.12,181.39 287.03,180.00 286.80,178.46 288.23,177.79 289.27,176.82 290.63,177.26 292.00,177.49 292.70,178.70" fill="none" stroke="#90a9a5" stroke-width="0.5" stroke-linejoin="round"/>
<path d="M292.22,179.65l-0.22,0.72l0.34,0.07M289.84,180.31l0.21,0.38l0.47,-0.55M288.44,180.56l0.49,0.32l0.80,-0.51M290.29,181.81l-0.26,0.50l0.64,-0.43M290.23,179.19l0.54,0.79l0.62,-0.58M290.07,179.60l0.01,0.55l0.34,-0.10M289.72,178.29l-0.16,0.61l0.65,-0.42" fill="none" stroke="#90a9a5" stroke-width="0.5" stroke-linejoin="round" stroke-linecap="round"/>
<path d="M291.96,180.00A0.58,0.58 0 0 1 291.43,181.43A0.44,0.44 0 0 1 290.00,182.00A0.36,0.36 0 0 1 288.58,181.42A0.38,0.38 0 0 1 288.23,180.00A0.54,0.54 0 0 1 288.76,178.76A0.47,0.47 0 0 1 290.00,178.12A0.39,0.39 0 0 1 291.20,178.80A0.42,0.42 0 0 1 291.73,180.00" fill="none" stroke="#90a9a5" stroke-width="0.45" stroke-linejoin="round" stroke-linecap="butt" stroke-dasharray="2.1 0.6"/>
<path d="M289.19,179.92q0.6,-0.6 1.1,0.2M290.37,181.08q0.6,-0.6 1.1,0.2" fill="none" stroke="#90a9a5" stroke-width="0.45" stroke-linejoin="miter" stroke-linecap="round"/>
<polygon points="306.87,188.00 306.16,189.25 305.51,190.62 304.00,190.65 302.40,190.77 301.69,189.33 300.81,188.00 301.63,186.63 302.45,185.32 304.00,185.34 305.41,185.56 306.14,186.76" fill="none" stroke="#90a9a5" stroke-width="0.5" stroke-linejoin="round"/>
<path d="M306.11,188.17l0.36,0.68l0.46,-0.32M304.84,189.39l0.79,0.48l0.33,-0.46M302.66,189.73l0.49,0.57l0.36,-0.51M305.10,189.59l-0.05,0.89l0.85,0.04M302.00,188.30l-0.59,0.37l0.64,-0.19M304.21,188.80l-0.77,0.85l0.73,0.16M305.21,187.85l0.37,0.53l0.79,0.07" fill="none" stroke="#90a9a5" stroke-width="0.5" stroke-linejoin="round" stroke-linecap="round"/>
<path d="M305.41,188.00A0.35,0.35 0 0 1 304.96,188.96A0.40,0.40 0 0 1 304.00,189.60A0.52,0.52 0 0 1 303.04,188.96A0.42,0.42 0 0 1 302.31,188.00A0.53,0.53 0 0 1 303.03,187.03A0.32,0.32 0 0 1 304.00,186.42A0.46,0.46 0 0 1 305.05,186.95A0.42,0.42 0 0 1 305.73,188.00" fill="none" stroke="#90a9a5" stroke-width="0.45" stroke-linejoin="round" stroke-linecap="butt" stroke-dasharray="2.8 0.4"/>
<path d="M304.05,189.22q0.6,-0.6 1.1,0.2M303.73,188.24q0.6,-0.6 1.1,0.2" fill="none" stroke="#90a9a5" stroke-width="0.45" stroke-linejoin="miter" stroke-linecap="round"/>
<polygon points="308.04,200.00 307.12,201.22 306.44,202.49 305.00,202.56 303.48,202.63 302.72,201.31 301.91,200.00 302.78,198.72 303.59,197.56 305.00,197.34 306.41,197.56 307.23,198.72" fill="none" stroke="#90a9a5" stroke-width="0.5" stroke-linejoin="round"/>
<path d="M303.61,201.01l0.34,0.44l0.69,-0.05M304.41,200.11l0.65,0.66l0.34,-0.41M305.78,199.94l-0.17,0.77l0.79,-0.09M304.98,199.62l-0.65,0.89l0.78,-0.57M305.77,200.24l0.69,0.43l0.70,0.14M303.56,198.29l-0.38,0.39l0.31,0.01M306.86,201.42l0.34,0.41l0.78,-0.47" fill="none" stroke="#90a9a5" stroke-width="0.5" stroke-linejoin="round" stroke-linecap="round"/>
<path d="M306.57,200.00A0.50,0.50 0 0 1 305.99,200.99A0.54,0.54 0 0 1 305.00,201.73A0.52,0.52 0 0 1 304.04,200.96A0.51,0.51 0 0 1 303.41,200.00A0.46,0.46 0 0 1 303.89,198.89A0.51,0.51 0 0 1 305.00,198.39A0.31,0.31 0 0 1 305.98,199.02A0.37,0.37 0 0 1 306.59,200.00" fill="none" stroke="#90a9a5" stroke-width="0.45" stroke-linejoin="round" stroke-linecap="butt" stroke-dasharray="2.4 0.3"/>
<path d="M304.99,199.73q0.6,-0.6 1.1,0.2M305.54,199.02q0.6,-0.6 1.1,0.2" fill="none" stroke="#90a9a5" stroke-width="0.45" stroke-linejoin="miter" stroke-linecap="round"/>
<polygon points="295.32,189.69 289.88,190.18 290.48,194.79 287.09,191.61 283.30,196.19 284.23,190.32 279.40,189.93 283.46,187.28 280.29,182.91 285.35,184.78 286.81,180.41 288.49,184.71 294.53,181.69 290.50,187.11" fill="#90a9a5" fill-opacity="1.0" stroke="#90a9a5" stroke-width="0.3" stroke-linejoin="round"/>
<path d="M287.00,188.00L294.24,189.51M287.00,188.00L291.16,195.24M287.00,188.00L283.11,195.72M287.00,188.00L279.89,190.17M287.00,188.00L280.16,183.07M287.00,188.00L286.46,179.98M287.00,188.00L293.77,182.96" fill="none" stroke="#90a9a5" stroke-width="0.5" stroke-linejoin="miter" stroke-linecap="round"/>
<polygon points="303.95,191.67 300.40,190.20 299.57,194.11 298.08,190.40 294.67,192.64 296.30,188.90 290.99,188.19 296.10,186.58 293.01,182.46 297.60,184.80 298.35,179.88 299.92,184.60 303.83,181.76 301.70,186.10 306.36,186.87 301.90,188.42" fill="#90a9a5" fill-opacity="1.0" stroke="#90a9a5" stroke-width="0.3" stroke-linejoin="round"/>
<path d="M299.00,187.50L304.44,192.21M299.00,187.50L299.26,194.88M299.00,187.50L293.78,193.27M299.00,187.50L291.66,187.83M299.00,187.50L293.19,183.14M299.00,187.50L298.71,180.80M299.00,187.50L303.17,182.98M299.00,187.50L305.73,187.28" fill="none" stroke="#90a9a5" stroke-width="0.5" stroke-linejoin="miter" stroke-linecap="round"/>
<path d="M290.00,200.00L293.00,200.67L298.68,201.27M293.00,200.67L298.39,202.56M295.00,201.66L298.31,203.32M290.00,200.00L292.40,202.04L297.28,205.29M292.40,202.04L296.40,206.32M290.00,200.00L290.98,202.77L293.40,207.69M290.98,202.77L292.21,208.11M290.00,200.00L289.29,203.59L288.76,210.38M289.29,203.59L287.22,210.08M288.18,206.00L286.30,210.00M290.00,200.00L287.56,202.68L283.63,208.15M287.56,202.68L282.48,207.10M290.00,200.00L286.61,201.04L280.57,203.68M286.61,201.04L280.13,202.23M290.00,200.00L286.63,199.14L280.22,198.28M286.63,199.14L280.59,196.84M284.40,197.96L280.71,195.97M290.00,200.00L287.66,198.02L282.90,194.86M287.66,198.02L283.74,193.86M290.00,200.00L289.06,197.27L286.74,192.44M289.06,197.27L287.90,192.03M290.00,200.00L290.62,196.47L291.00,189.81M290.62,196.47L292.51,190.08M291.66,194.09L293.41,190.13M290.00,200.00L292.17,197.74L295.70,193.10M292.17,197.74L296.67,194.03M290.00,200.00L293.34,198.98L299.30,196.38M293.34,198.98L299.74,197.81" fill="none" stroke="#90a9a5" stroke-width="0.5" stroke-linejoin="round" stroke-linecap="round"/>
<path d="M304.31,206.00A1.59,1.59 0 0 1 303.55,208.67A1.87,1.87 0 0 1 301.17,209.97A1.68,1.68 0 0 1 299.20,211.27A1.60,1.60 0 0 1 296.78,211.36A1.23,1.23 0 0 1 293.99,211.02A1.70,1.70 0 0 1 292.82,208.49A1.98,1.98 0 0 1 292.24,206.00A1.96,1.96 0 0 1 292.99,203.59A2.01,2.01 0 0 1 294.26,201.31A1.28,1.28 0 0 1 296.87,201.07A1.95,1.95 0 0 1 299.19,200.77A1.33,1.33 0 0 1 301.08,202.14A2.03,2.03 0 0 1 303.44,203.38A1.50,1.50 0 0 1 303.19,206.00" fill="none" stroke="#90a9a5" stroke-width="0.45" stroke-linejoin="round" stroke-linecap="butt" stroke-dasharray="2.9 0.6"/>
<path d="M297.90,202.16q0.6,-0.6 1.1,0.2M298.02,207.90q0.6,-0.6 1.1,0.2M301.54,206.62q0.6,-0.6 1.1,0.2" fill="none" stroke="#90a9a5" stroke-width="0.45" stroke-linejoin="miter" stroke-linecap="round"/>
<path d="M302.50,206.00A1.34,1.34 0 0 1 301.72,208.28A1.10,1.10 0 0 1 299.69,209.89A1.10,1.10 0 0 1 297.02,209.43A0.91,0.91 0 0 1 295.24,207.37A0.76,0.76 0 0 1 295.86,204.86A0.95,0.95 0 0 1 297.35,203.15A0.79,0.79 0 0 1 299.60,202.62A1.34,1.34 0 0 1 301.91,203.56A0.90,0.90 0 0 1 303.00,206.00" fill="none" stroke="#90a9a5" stroke-width="0.45" stroke-linejoin="round" stroke-linecap="butt" stroke-dasharray="3.0 0.4"/>
<circle cx="254.18" cy="226.08" r="0.79" fill="#fff" stroke="#90a9a5" stroke-width="0.62"/>
<circle cx="251.09" cy="227.58" r="0.91" fill="#fff" stroke="#90a9a5" stroke-width="0.62"/>
<circle cx="253.31" cy="227.93" r="0.76" fill="#fff" stroke="#90a9a5" stroke-width="0.62"/>
<circle cx="255.59" cy="227.91" r="0.81" fill="#fff" stroke="#90a9a5" stroke-width="0.62"/>
<circle cx="257.30" cy="227.63" r="0.78" fill="#fff" stroke="#90a9a5" stroke-width="0.62"/>
<circle cx="250.40" cy="229.51" r="0.93" fill="#fff" stroke="#90a9a5" stroke-width="0.62"/>
<circle cx="251.95" cy="229.51" r="0.83" fill="#fff" stroke="#90a9a5" stroke-width="0.62"/>
<circle cx="254.19" cy="229.66" r="0.84" fill="#fff" stroke="#90a9a5" stroke-width="0.62"/>
<circle cx="256.28" cy="229.88" r="0.87" fill="#fff" stroke="#90a9a5" stroke-width="0.62"/>
<circle cx="258.48" cy="229.20" r="0.91" fill="#fff" stroke="#90a9a5" stroke-width="0.62"/>
<circle cx="260.86" cy="229.21" r="0.87" fill="#fff" stroke="#90a9a5" stroke-width="0.62"/>
<circle cx="244.68" cy="231.16" r="0.80" fill="#fff" stroke="#90a9a5" stroke-width="0.62"/>
<circle cx="247.05" cy="231.47" r="0.98" fill="#fff" stroke="#90a9a5" stroke-width="0.62"/>
<circle cx="248.96" cy="231.54" r="0.75" fill="#fff" stroke="#90a9a5" stroke-width="0.62"/>
<circle cx="251.49" cy="231.22" r="0.87" fill="#fff" stroke="#90a9a5" stroke-width="0.62"/>
<circle cx="253.33" cy="231.73" r="0.87" fill="#fff" stroke="#90a9a5" stroke-width="0.62"/>
<circle cx="255.82" cy="231.50" r="0.80" fill="#fff" stroke="#90a9a5" stroke-width="0.62"/>
<circle cx="257.86" cy="231.20" r="1.00" fill="#fff" stroke="#90a9a5" stroke-width="0.62"/>
<circle cx="259.74" cy="231.22" r="0.99" fill="#fff" stroke="#90a9a5" stroke-width="0.62"/>
<circle cx="261.80" cy="231.35" r="0.84" fill="#fff" stroke="#90a9a5" stroke-width="0.62"/>
<circle cx="264.19" cy="231.08" r="0.84" fill="#fff" stroke="#90a9a5" stroke-width="0.62"/>
<circle cx="265.99" cy="231.64" r="0.75" fill="#fff" stroke="#90a9a5" stroke-width="0.62"/>
<circle cx="239.41" cy="233.55" r="0.76" fill="#fff" stroke="#90a9a5" stroke-width="0.62"/>
<circle cx="241.31" cy="233.05" r="0.90" fill="#fff" stroke="#90a9a5" stroke-width="0.62"/>
<circle cx="243.62" cy="233.22" r="0.97" fill="#fff" stroke="#90a9a5" stroke-width="0.62"/>
<circle cx="245.91" cy="233.53" r="0.99" fill="#fff" stroke="#90a9a5" stroke-width="0.62"/>
<circle cx="247.79" cy="233.59" r="0.85" fill="#fff" stroke="#90a9a5" stroke-width="0.62"/>
<circle cx="249.79" cy="233.57" r="0.78" fill="#fff" stroke="#90a9a5" stroke-width="0.62"/>
<circle cx="251.91" cy="233.13" r="0.82" fill="#fff" stroke="#90a9a5" stroke-width="0.62"/>
<circle cx="254.73" cy="233.54" r="0.86" fill="#fff" stroke="#90a9a5" stroke-width="0.62"/>
<circle cx="256.57" cy="233.53" r="0.95" fill="#fff" stroke="#90a9a5" stroke-width="0.62"/>
<circle cx="258.81" cy="233.29" r="0.78" fill="#fff" stroke="#90a9a5" stroke-width="0.62"/>
<circle cx="260.67" cy="233.39" r="0.90" fill="#fff" stroke="#90a9a5" stroke-width="0.62"/>
<circle cx="263.21" cy="233.56" r="0.99" fill="#fff" stroke="#90a9a5" stroke-width="0.62"/>
<circle cx="264.93" cy="232.99" r="0.97" fill="#fff" stroke="#90a9a5" stroke-width="0.62"/>
<circle cx="267.35" cy="233.06" r="0.92" fill="#fff" stroke="#90a9a5" stroke-width="0.62"/>
<circle cx="269.28" cy="233.10" r="0.84" fill="#fff" stroke="#90a9a5" stroke-width="0.62"/>
<circle cx="240.08" cy="235.14" r="0.92" fill="#fff" stroke="#90a9a5" stroke-width="0.62"/>
<circle cx="242.72" cy="235.26" r="0.80" fill="#fff" stroke="#90a9a5" stroke-width="0.62"/>
<circle cx="245.05" cy="235.35" r="0.81" fill="#fff" stroke="#90a9a5" stroke-width="0.62"/>
<circle cx="246.83" cy="235.47" r="0.80" fill="#fff" stroke="#90a9a5" stroke-width="0.62"/>
<circle cx="248.96" cy="235.48" r="0.98" fill="#fff" stroke="#90a9a5" stroke-width="0.62"/>
<circle cx="255.66" cy="234.89" r="0.81" fill="#fff" stroke="#90a9a5" stroke-width="0.62"/>
<circle cx="257.43" cy="234.99" r="0.76" fill="#fff" stroke="#90a9a5" stroke-width="0.62"/>
<circle cx="259.52" cy="235.09" r="0.86" fill="#fff" stroke="#90a9a5" stroke-width="0.62"/>
<circle cx="261.63" cy="235.21" r="0.99" fill="#fff" stroke="#90a9a5" stroke-width="0.62"/>
<circle cx="264.13" cy="235.05" r="0.93" fill="#fff" stroke="#90a9a5" stroke-width="0.62"/>
<circle cx="266.18" cy="234.93" r="0.87" fill="#fff" stroke="#90a9a5" stroke-width="0.62"/>
<circle cx="268.04" cy="235.28" r="0.79" fill="#fff" stroke="#90a9a5" stroke-width="0.62"/>
<circle cx="270.43" cy="235.48" r="0.94" fill="#fff" stroke="#90a9a5" stroke-width="0.62"/>
<circle cx="239.18" cy="237.25" r="0.90" fill="#fff" stroke="#90a9a5" stroke-width="0.62"/>
<circle cx="241.74" cy="237.29" r="0.90" fill="#fff" stroke="#90a9a5" stroke-width="0.62"/>
<circle cx="243.44" cy="236.68" r="0.88" fill="#fff" stroke="#90a9a5" stroke-width="0.62"/>
<circle cx="245.96" cy="236.86" r="0.77" fill="#fff" stroke="#90a9a5" stroke-width="0.62"/>
<circle cx="247.60" cy="236.79" r="0.92" fill="#fff" stroke="#90a9a5" stroke-width="0.62"/>
<circle cx="259.03" cy="236.78" r="0.83" fill="#fff" stroke="#90a9a5" stroke-width="0.62"/>
<circle cx="260.87" cy="236.90" r="0.85" fill="#fff" stroke="#90a9a5" stroke-width="0.62"/>
<circle cx="262.99" cy="236.85" r="0.76" fill="#fff" stroke="#90a9a5" stroke-width="0.62"/>
<circle cx="264.86" cy="236.79" r="0.77" fill="#fff" stroke="#90a9a5" stroke-width="0.62"/>
<circle cx="267.39" cy="237.16" r="0.82" fill="#fff" stroke="#90a9a5" stroke-width="0.62"/>
<circle cx="269.65" cy="237.18" r="0.84" fill="#fff" stroke="#90a9a5" stroke-width="0.62"/>
<circle cx="271.59" cy="236.80" r="0.98" fill="#fff" stroke="#90a9a5" stroke-width="0.62"/>
<circle cx="238.19" cy="239.05" r="0.81" fill="#fff" stroke="#90a9a5" stroke-width="0.62"/>
<circle cx="240.63" cy="239.10" r="0.77" fill="#fff" stroke="#90a9a5" stroke-width="0.62"/>
<circle cx="242.64" cy="238.68" r="0.93" fill="#fff" stroke="#90a9a5" stroke-width="0.62"/>
<circle cx="244.94" cy="239.10" r="0.81" fill="#fff" stroke="#90a9a5" stroke-width="0.62"/>
<circle cx="246.59" cy="239.01" r="0.89" fill="#fff" stroke="#90a9a5" stroke-width="0.62"/>
<circle cx="248.77" cy="238.68" r="0.90" fill="#fff" stroke="#90a9a5" stroke-width="0.62"/>
<circle cx="257.78" cy="238.57" r="0.93" fill="#fff" stroke="#90a9a5" stroke-width="0.62"/>
<circle cx="259.58" cy="238.75" r="0.91" fill="#fff" stroke="#90a9a5" stroke-width="0.62"/>
<circle cx="262.06" cy="238.97" r="0.98" fill="#fff" stroke="#90a9a5" stroke-width="0.62"/>
<circle cx="263.87" cy="238.76" r="0.92" fill="#fff" stroke="#90a9a5" stroke-width="0.62"/>
<circle cx="266.06" cy="238.65" r="0.81" fill="#fff" stroke="#90a9a5" stroke-width="0.62"/>
<circle cx="268.56" cy="239.12" r="0.93" fill="#fff" stroke="#90a9a5" stroke-width="0.62"/>
<circle cx="270.85" cy="239.10" r="0.83" fill="#fff" stroke="#90a9a5" stroke-width="0.62"/>
<circle cx="239.65" cy="241.03" r="0.87" fill="#fff" stroke="#90a9a5" stroke-width="0.62"/>
<circle cx="241.29" cy="240.50" r="0.88" fill="#fff" stroke="#90a9a5" stroke-width="0.62"/>
<circle cx="243.66" cy="240.67" r="0.93" fill="#fff" stroke="#90a9a5" stroke-width="0.62"/>
<circle cx="245.82" cy="240.96" r="0.78" fill="#fff" stroke="#90a9a5" stroke-width="0.62"/>
<circle cx="247.65" cy="240.68" r="0.87" fill="#fff" stroke="#90a9a5" stroke-width="0.62"/>
<circle cx="258.66" cy="241.06" r="0.98" fill="#fff" stroke="#90a9a5" stroke-width="0.62"/>
<circle cx="260.93" cy="240.49" r="0.86" fill="#fff" stroke="#90a9a5" stroke-width="0.62"/>
<circle cx="263.10" cy="240.61" r="0.76" fill="#fff" stroke="#90a9a5" stroke-width="0.62"/>
<circle cx="265.49" cy="241.05" r="0.78" fill="#fff" stroke="#90a9a5" stroke-width="0.62"/>
<circle cx="267.28" cy="240.85" r="0.82" fill="#fff" stroke="#90a9a5" stroke-width="0.62"/>
<circle cx="269.15" cy="240.94" r="0.94" fill="#fff" stroke="#90a9a5" stroke-width="0.62"/>
<circle cx="271.56" cy="240.47" r="0.85" fill="#fff" stroke="#90a9a5" stroke-width="0.62"/>
<circle cx="238.46" cy="242.38" r="0.78" fill="#fff" stroke="#90a9a5" stroke-width="0.62"/>
<circle cx="240.12" cy="242.40" r="0.88" fill="#fff" stroke="#90a9a5" stroke-width="0.62"/>
<circle cx="242.81" cy="242.40" r="0.79" fill="#fff" stroke="#90a9a5" stroke-width="0.62"/>
<circle cx="244.91" cy="242.58" r="0.83" fill="#fff" stroke="#90a9a5" stroke-width="0.62"/>
<circle cx="246.61" cy="242.45" r="0.99" fill="#fff" stroke="#90a9a5" stroke-width="0.62"/>
<circle cx="248.76" cy="242.47" r="0.94" fill="#fff" stroke="#90a9a5" stroke-width="0.62"/>
<circle cx="259.94" cy="242.38" r="0.80" fill="#fff" stroke="#90a9a5" stroke-width="0.62"/>
<circle cx="262.25" cy="242.36" r="0.95" fill="#fff" stroke="#90a9a5" stroke-width="0.62"/>
<circle cx="263.96" cy="242.46" r="0.81" fill="#fff" stroke="#90a9a5" stroke-width="0.62"/>
<circle cx="266.20" cy="242.98" r="0.79" fill="#fff" stroke="#90a9a5" stroke-width="0.62"/>
<circle cx="268.62" cy="242.51" r="0.79" fill="#fff" stroke="#90a9a5" stroke-width="0.62"/>
<circle cx="270.70" cy="242.52" r="0.80" fill="#fff" stroke="#90a9a5" stroke-width="0.62"/>
<circle cx="237.27" cy="244.78" r="0.99" fill="#fff" stroke="#90a9a5" stroke-width="0.62"/>
<circle cx="239.23" cy="244.75" r="0.95" fill="#fff" stroke="#90a9a5" stroke-width="0.62"/>
<circle cx="241.34" cy="244.41" r="0.84" fill="#fff" stroke="#90a9a5" stroke-width="0.62"/>
<circle cx="243.55" cy="244.42" r="0.78" fill="#fff" stroke="#90a9a5" stroke-width="0.62"/>
<circle cx="245.61" cy="244.79" r="0.85" fill="#fff" stroke="#90a9a5" stroke-width="0.62"/>
<circle cx="248.05" cy="244.78" r="0.94" fill="#fff" stroke="#90a9a5" stroke-width="0.62"/>
<circle cx="265.37" cy="244.40" r="0.96" fill="#fff" stroke="#90a9a5" stroke-width="0.62"/>
<circle cx="267.54" cy="244.77" r="0.78" fill="#fff" stroke="#90a9a5" stroke-width="0.62"/>
<circle cx="269.76" cy="244.68" r="0.92" fill="#fff" stroke="#90a9a5" stroke-width="0.62"/>
<circle cx="271.71" cy="244.19" r="0.97" fill="#fff" stroke="#90a9a5" stroke-width="0.62"/>
<circle cx="236.01" cy="246.57" r="0.95" fill="#fff" stroke="#90a9a5" stroke-width="0.62"/>
<circle cx="238.53" cy="246.18" r="0.84" fill="#fff" stroke="#90a9a5" stroke-width="0.62"/>
<circle cx="240.25" cy="246.10" r="0.83" fill="#fff" stroke="#90a9a5" stroke-width="0.62"/>
<circle cx="242.24" cy="246.58" r="0.81" fill="#fff" stroke="#90a9a5" stroke-width="0.62"/>
<circle cx="244.42" cy="246.07" r="0.94" fill="#fff" stroke="#90a9a5" stroke-width="0.62"/>
<circle cx="246.66" cy="246.35" r="0.85" fill="#fff" stroke="#90a9a5" stroke-width="0.62"/>
<circle cx="266.17" cy="246.64" r="0.92" fill="#fff" stroke="#90a9a5" stroke-width="0.62"/>
<circle cx="268.17" cy="246.28" r="0.84" fill="#fff" stroke="#90a9a5" stroke-width="0.62"/>
<circle cx="270.85" cy="246.51" r="0.78" fill="#fff" stroke="#90a9a5" stroke-width="0.62"/>
<circle cx="272.97" cy="246.05" r="0.90" fill="#fff" stroke="#90a9a5" stroke-width="0.62"/>
<circle cx="237.22" cy="248.47" r="0.95" fill="#fff" stroke="#90a9a5" stroke-width="0.62"/>
<circle cx="239.25" cy="248.05" r="0.94" fill="#fff" stroke="#90a9a5" stroke-width="0.62"/>
<circle cx="241.71" cy="248.05" r="0.97" fill="#fff" stroke="#90a9a5" stroke-width="0.62"/>
<circle cx="243.99" cy="248.20" r="0.85" fill="#fff" stroke="#90a9a5" stroke-width="0.62"/>
<circle cx="245.95" cy="248.55" r="0.80" fill="#fff" stroke="#90a9a5" stroke-width="0.62"/>
<circle cx="267.60" cy="248.04" r="0.76" fill="#fff" stroke="#90a9a5" stroke-width="0.62"/>
<circle cx="269.45" cy="248.53" r="0.98" fill="#fff" stroke="#90a9a5" stroke-width="0.62"/>
<circle cx="271.92" cy="248.25" r="0.98" fill="#fff" stroke="#90a9a5" stroke-width="0.62"/>
<circle cx="273.79" cy="248.00" r="0.91" fill="#fff" stroke="#90a9a5" stroke-width="0.62"/>
<circle cx="236.34" cy="250.06" r="0.90" fill="#fff" stroke="#90a9a5" stroke-width="0.62"/>
<circle cx="238.11" cy="249.96" r="0.86" fill="#fff" stroke="#90a9a5" stroke-width="0.62"/>
<circle cx="240.43" cy="250.09" r="0.77" fill="#fff" stroke="#90a9a5" stroke-width="0.62"/>
<circle cx="242.23" cy="250.00" r="0.93" fill="#fff" stroke="#90a9a5" stroke-width="0.62"/>
<circle cx="244.90" cy="249.93" r="0.81" fill="#fff" stroke="#90a9a5" stroke-width="0.62"/>
<circle cx="266.43" cy="250.24" r="0.79" fill="#fff" stroke="#90a9a5" stroke-width="0.62"/>
<circle cx="268.35" cy="250.21" r="1.00" fill="#fff" stroke="#90a9a5" stroke-width="0.62"/>
<circle cx="270.41" cy="250.30" r="0.81" fill="#fff" stroke="#90a9a5" stroke-width="0.62"/>
<circle cx="272.46" cy="249.88" r="0.85" fill="#fff" stroke="#90a9a5" stroke-width="0.62"/>
<circle cx="236.91" cy="251.77" r="0.83" fill="#fff" stroke="#90a9a5" stroke-width="0.62"/>
<circle cx="239.35" cy="251.77" r="0.87" fill="#fff" stroke="#90a9a5" stroke-width="0.62"/>
<circle cx="241.46" cy="252.32" r="0.87" fill="#fff" stroke="#90a9a5" stroke-width="0.62"/>
<circle cx="243.96" cy="251.97" r="0.80" fill="#fff" stroke="#90a9a5" stroke-width="0.62"/>
<circle cx="256.68" cy="251.91" r="0.79" fill="#fff" stroke="#90a9a5" stroke-width="0.62"/>
<circle cx="258.96" cy="252.04" r="0.75" fill="#fff" stroke="#90a9a5" stroke-width="0.62"/>
<circle cx="261.09" cy="252.15" r="0.84" fill="#fff" stroke="#90a9a5" stroke-width="0.62"/>
<circle cx="263.09" cy="252.28" r="0.85" fill="#fff" stroke="#90a9a5" stroke-width="0.62"/>
<circle cx="265.10" cy="251.85" r="0.89" fill="#fff" stroke="#90a9a5" stroke-width="0.62"/>
<circle cx="267.41" cy="252.15" r="0.99" fill="#fff" stroke="#90a9a5" stroke-width="0.62"/>
<circle cx="269.20" cy="251.89" r="0.96" fill="#fff" stroke="#90a9a5" stroke-width="0.62"/>
<circle cx="271.80" cy="252.05" r="0.92" fill="#fff" stroke="#90a9a5" stroke-width="0.62"/>
<circle cx="238.05" cy="253.59" r="0.97" fill="#fff" stroke="#90a9a5" stroke-width="0.62"/>
<circle cx="240.64" cy="253.53" r="0.83" fill="#fff" stroke="#90a9a5" stroke-width="0.62"/>
<circle cx="242.56" cy="253.85" r="0.84" fill="#fff" stroke="#90a9a5" stroke-width="0.62"/>
<circle cx="245.00" cy="253.75" r="0.88" fill="#fff" stroke="#90a9a5" stroke-width="0.62"/>
<circle cx="253.53" cy="253.69" r="0.84" fill="#fff" stroke="#90a9a5" stroke-width="0.62"/>
<circle cx="255.40" cy="253.76" r="0.98" fill="#fff" stroke="#90a9a5" stroke-width="0.62"/>
<circle cx="257.65" cy="253.70" r="0.83" fill="#fff" stroke="#90a9a5" stroke-width="0.62"/>
<circle cx="260.00" cy="253.62" r="0.92" fill="#fff" stroke="#90a9a5" stroke-width="0.62"/>
<circle cx="261.59" cy="253.64" r="0.76" fill="#fff" stroke="#90a9a5" stroke-width="0.62"/>
<circle cx="264.29" cy="253.61" r="0.81" fill="#fff" stroke="#90a9a5" stroke-width="0.62"/>
<circle cx="265.92" cy="253.69" r="0.93" fill="#fff" stroke="#90a9a5" stroke-width="0.62"/>
<circle cx="268.53" cy="254.14" r="0.99" fill="#fff" stroke="#90a9a5" stroke-width="0.62"/>
<circle cx="270.56" cy="254.15" r="0.77" fill="#fff" stroke="#90a9a5" stroke-width="0.62"/>
<circle cx="241.83" cy="255.40" r="0.76" fill="#fff" stroke="#90a9a5" stroke-width="0.62"/>
<circle cx="243.39" cy="255.39" r="0.93" fill="#fff" stroke="#90a9a5" stroke-width="0.62"/>
<circle cx="245.89" cy="255.46" r="0.79" fill="#fff" stroke="#90a9a5" stroke-width="0.62"/>
<circle cx="247.73" cy="255.80" r="0.92" fill="#fff" stroke="#90a9a5" stroke-width="0.62"/>
<circle cx="250.43" cy="255.63" r="0.99" fill="#fff" stroke="#90a9a5" stroke-width="0.62"/>
<circle cx="252.20" cy="255.65" r="0.81" fill="#fff" stroke="#90a9a5" stroke-width="0.62"/>
<circle cx="254.21" cy="256.06" r="1.00" fill="#fff" stroke="#90a9a5" stroke-width="0.62"/>
<circle cx="256.69" cy="255.50" r="0.79" fill="#fff" stroke="#90a9a5" stroke-width="0.62"/>
<circle cx="258.46" cy="255.62" r="0.93" fill="#fff" stroke="#90a9a5" stroke-width="0.62"/>
<circle cx="260.54" cy="255.75" r="0.92" fill="#fff" stroke="#90a9a5" stroke-width="0.62"/>
<circle cx="262.67" cy="255.69" r="0.95" fill="#fff" stroke="#90a9a5" stroke-width="0.62"/>
<circle cx="265.20" cy="255.69" r="0.97" fill="#fff" stroke="#90a9a5" stroke-width="0.62"/>
<circle cx="267.37" cy="255.61" r="0.85" fill="#fff" stroke="#90a9a5" stroke-width="0.62"/>
<circle cx="242.23" cy="257.81" r="0.85" fill="#fff" stroke="#90a9a5" stroke-width="0.62"/>
<circle cx="244.84" cy="257.65" r="0.93" fill="#fff" stroke="#90a9a5" stroke-width="0.62"/>
<circle cx="246.81" cy="257.92" r="0.99" fill="#fff" stroke="#90a9a5" stroke-width="0.62"/>
<circle cx="249.33" cy="257.68" r="0.83" fill="#fff" stroke="#90a9a5" stroke-width="0.62"/>
<circle cx="251.09" cy="257.44" r="0.98" fill="#fff" stroke="#90a9a5" stroke-width="0.62"/>
<circle cx="253.53" cy="257.80" r="0.96" fill="#fff" stroke="#90a9a5" stroke-width="0.62"/>
<circle cx="255.82" cy="257.73" r="0.83" fill="#fff" stroke="#90a9a5" stroke-width="0.62"/>
<circle cx="257.81" cy="257.43" r="0.90" fill="#fff" stroke="#90a9a5" stroke-width="0.62"/>
<circle cx="259.54" cy="257.85" r="0.87" fill="#fff" stroke="#90a9a5" stroke-width="0.62"/>
<circle cx="261.77" cy="257.89" r="0.77" fill="#fff" stroke="#90a9a5" stroke-width="0.62"/>
<circle cx="264.38" cy="257.78" r="0.79" fill="#fff" stroke="#90a9a5" stroke-width="0.62"/>
<circle cx="266.41" cy="257.65" r="0.98" fill="#fff" stroke="#90a9a5" stroke-width="0.62"/>
<circle cx="243.81" cy="259.27" r="0.91" fill="#fff" stroke="#90a9a5" stroke-width="0.62"/>
<circle cx="245.64" cy="259.38" r="0.98" fill="#fff" stroke="#90a9a5" stroke-width="0.62"/>
<circle cx="248.26" cy="259.82" r="0.86" fill="#fff" stroke="#90a9a5" stroke-width="0.62"/>
<circle cx="250.15" cy="259.68" r="0.94" fill="#fff" stroke="#90a9a5" stroke-width="0.62"/>
<circle cx="252.22" cy="259.72" r="0.85" fill="#fff" stroke="#90a9a5" stroke-width="0.62"/>
<circle cx="254.72" cy="259.45" r="0.78" fill="#fff" stroke="#90a9a5" stroke-width="0.62"/>
<circle cx="256.72" cy="259.22" r="0.92" fill="#fff" stroke="#90a9a5" stroke-width="0.62"/>
<circle cx="258.39" cy="259.81" r="0.89" fill="#fff" stroke="#90a9a5" stroke-width="0.62"/>
<circle cx="261.02" cy="259.21" r="0.91" fill="#fff" stroke="#90a9a5" stroke-width="0.62"/>
<circle cx="262.91" cy="259.29" r="0.95" fill="#fff" stroke="#90a9a5" stroke-width="0.62"/>
<circle cx="264.82" cy="259.45" r="0.77" fill="#fff" stroke="#90a9a5" stroke-width="0.62"/>
<circle cx="244.49" cy="261.64" r="0.87" fill="#fff" stroke="#90a9a5" stroke-width="0.62"/>
<circle cx="247.08" cy="261.16" r="0.98" fill="#fff" stroke="#90a9a5" stroke-width="0.62"/>
<circle cx="248.83" cy="261.62" r="0.90" fill="#fff" stroke="#90a9a5" stroke-width="0.62"/>
<circle cx="251.50" cy="261.53" r="0.91" fill="#fff" stroke="#90a9a5" stroke-width="0.62"/>
<circle cx="253.35" cy="261.59" r="0.86" fill="#fff" stroke="#90a9a5" stroke-width="0.62"/>
<circle cx="255.19" cy="261.63" r="0.95" fill="#fff" stroke="#90a9a5" stroke-width="0.62"/>
<circle cx="257.75" cy="261.51" r="0.81" fill="#fff" stroke="#90a9a5" stroke-width="0.62"/>
<circle cx="259.75" cy="261.57" r="0.99" fill="#fff" stroke="#90a9a5" stroke-width="0.62"/>
<circle cx="262.22" cy="261.10" r="0.92" fill="#fff" stroke="#90a9a5" stroke-width="0.62"/>
<circle cx="264.11" cy="261.27" r="0.79" fill="#fff" stroke="#90a9a5" stroke-width="0.62"/>
<circle cx="265.97" cy="261.32" r="0.87" fill="#fff" stroke="#90a9a5" stroke-width="0.62"/>
<circle cx="245.54" cy="263.06" r="0.91" fill="#fff" stroke="#90a9a5" stroke-width="0.62"/>
<circle cx="247.99" cy="263.52" r="0.92" fill="#fff" stroke="#90a9a5" stroke-width="0.62"/>
<circle cx="250.00" cy="263.52" r="0.91" fill="#fff" stroke="#90a9a5" stroke-width="0.62"/>
<circle cx="252.28" cy="263.46" r="0.92" fill="#fff" stroke="#90a9a5" stroke-width="0.62"/>
<circle cx="254.30" cy="263.28" r="0.83" fill="#fff" stroke="#90a9a5" stroke-width="0.62"/>
<circle cx="256.88" cy="263.03" r="0.99" fill="#fff" stroke="#90a9a5" stroke-width="0.62"/>
<circle cx="258.40" cy="262.87" r="0.89" fill="#fff" stroke="#90a9a5" stroke-width="0.62"/>
<circle cx="260.64" cy="263.22" r="0.78" fill="#fff" stroke="#90a9a5" stroke-width="0.62"/>
<circle cx="263.24" cy="263.33" r="0.92" fill="#fff" stroke="#90a9a5" stroke-width="0.62"/>
<path d="M255.55,262.8 C254.05,254.8 252.05,249.8 247.05,242.8 M254.05,255.8 C256.05,249.8 262.05,246.8 268.05,245.8 M253.05,250.8 C254.05,245.8 256.05,241.8 256.05,235.8 M251.05,247.8 L243.05,249.8 M258.05,247.8 L262.05,239.8" fill="none" stroke="#90a9a5" stroke-width="0.9" stroke-linejoin="miter" stroke-linecap="round"/>
<polygon points="302.76,247.50 301.26,248.73 302.37,250.33 301.09,251.32 302.04,253.46 299.28,253.19 299.73,255.53 297.75,255.28 297.27,257.29 295.34,256.23 294.39,258.20 292.80,256.15 291.44,257.58 290.28,256.41 288.60,257.14 287.69,255.83 286.09,255.70 285.52,254.24 284.08,253.62 284.77,251.61 282.38,251.18 283.56,249.40 281.97,248.24 282.89,246.83 282.35,245.34 283.56,244.25 282.52,242.19 285.04,242.08 284.73,239.99 286.44,239.75 287.02,238.01 289.18,239.27 290.04,237.65 291.59,238.80 292.87,236.96 294.02,238.88 295.91,237.01 296.53,239.24 298.38,238.79 298.73,240.59 301.28,240.13 300.09,242.75 301.89,243.32 301.18,245.01 302.93,246.03" fill="none" stroke="#90a9a5" stroke-width="0.5" stroke-linejoin="round"/>
<path d="M297.92,244.06l-0.11,0.40l0.33,-0.50M295.94,242.61l-0.55,0.68l0.34,-0.19M291.55,249.09l0.39,0.73l0.61,-0.47M290.39,243.69l0.26,0.35l0.84,-0.60M293.20,251.53l-0.48,0.35l0.71,0.20M290.93,250.16l0.27,0.43l0.54,-0.05M290.45,248.45l-0.69,0.63l0.89,0.14M296.45,250.36l-0.02,0.42l0.70,-0.20M293.69,244.43l0.69,0.79l0.58,-0.49M290.47,247.71l0.30,0.72l0.65,0.18M298.73,249.32l0.48,0.37l0.49,-0.56M286.82,244.24l-0.24,0.72l0.52,-0.03M291.07,255.85l-0.10,0.30l0.35,-0.02M296.39,243.07l-0.55,0.82l0.73,-0.51M288.00,251.70l-0.79,0.33l0.51,0.10M295.99,247.42l0.65,0.77l0.82,-0.13" fill="none" stroke="#90a9a5" stroke-width="0.5" stroke-linejoin="round" stroke-linecap="round"/>
<polygon points="305.51,275.00 303.38,276.32 305.03,278.16 302.56,278.81 302.77,280.48 301.13,280.99 301.21,283.01 299.08,282.52 298.65,284.54 296.87,283.85 295.90,285.77 294.31,283.92 292.91,285.41 291.75,284.02 289.95,285.02 289.41,282.95 287.20,283.71 287.61,281.17 285.22,281.38 286.06,279.22 283.47,278.83 284.66,276.99 282.80,275.78 284.71,274.35 283.81,272.83 284.75,271.63 284.45,269.92 286.62,269.64 286.46,267.72 288.36,267.78 288.44,265.37 290.37,266.00 291.39,264.55 293.00,265.46 294.36,264.64 295.60,265.91 297.27,264.93 297.96,266.88 299.92,266.22 300.44,267.85 302.54,267.83 301.55,270.28 303.50,270.77 303.28,272.34 304.93,273.46" fill="none" stroke="#90a9a5" stroke-width="0.5" stroke-linejoin="round"/>
<path d="M291.37,269.74l0.31,0.46l0.34,-0.31M302.18,276.69l0.04,0.70l0.88,0.04M294.47,278.60l-0.63,0.78l0.74,-0.21M291.87,277.28l-0.02,0.73l0.84,0.08M296.97,271.75l-0.13,0.49l0.88,-0.45M295.75,277.68l0.68,0.81l0.50,0.08M297.33,272.27l-0.49,0.76l0.52,-0.50M297.61,272.47l-0.16,0.66l0.45,-0.58M290.96,277.52l-0.78,0.52l0.76,-0.33M291.52,269.76l-0.50,0.31l0.70,-0.11M293.30,277.50l0.57,0.85l0.44,-0.13M290.87,273.41l-0.74,0.50l0.69,-0.12M292.00,274.87l-0.46,0.49l0.55,-0.31M295.60,273.87l0.78,0.44l0.81,-0.41M290.64,272.95l-0.74,0.78l0.79,-0.38M294.77,270.36l0.78,0.33l0.53,-0.42" fill="none" stroke="#90a9a5" stroke-width="0.5" stroke-linejoin="round" stroke-linecap="round"/>
<polygon points="305.58,236.00 304.78,237.38 304.61,239.03 302.95,239.37 301.77,240.36 300.30,239.97 298.87,239.68 298.14,238.40 296.62,237.59 297.16,236.00 296.48,234.35 298.21,233.65 298.76,232.12 300.36,232.34 301.73,231.88 302.82,232.84 304.25,233.27 304.57,234.70" fill="none" stroke="#90a9a5" stroke-width="0.5" stroke-linejoin="round"/>
<path d="M299.13,236.84l-0.34,0.72l0.61,0.19M302.00,237.80l-0.01,0.52l0.82,-0.43M302.13,234.90l-0.26,0.67l0.64,-0.37M303.98,237.75l-0.21,0.37l0.69,-0.17M300.30,237.31l0.55,0.50l0.55,0.17M299.90,237.32l-0.54,0.70l0.70,-0.24" fill="none" stroke="#90a9a5" stroke-width="0.5" stroke-linejoin="round" stroke-linecap="round"/>
<path d="M303.00,236.50A0.83,0.83 0 0 1 302.18,238.18A0.85,0.85 0 0 1 300.50,239.03A0.80,0.80 0 0 1 298.75,238.25A0.58,0.58 0 0 1 298.27,236.50A0.78,0.78 0 0 1 298.46,234.46A0.70,0.70 0 0 1 300.50,233.81A0.57,0.57 0 0 1 302.30,234.70A0.76,0.76 0 0 1 302.84,236.50" fill="none" stroke="#90a9a5" stroke-width="0.45" stroke-linejoin="round" stroke-linecap="butt" stroke-dasharray="2.9 0.4"/>
<path d="M300.10,235.99q0.6,-0.6 1.1,0.2M299.96,236.04q0.6,-0.6 1.1,0.2" fill="none" stroke="#90a9a5" stroke-width="0.45" stroke-linejoin="miter" stroke-linecap="round"/>
<polygon points="307.51,245.00 306.50,246.23 306.66,247.84 305.04,248.19 304.32,249.64 302.83,249.36 301.44,249.63 300.41,248.62 298.74,248.49 298.60,246.88 297.48,245.76 298.08,244.33 297.95,242.81 299.47,242.19 300.02,240.70 301.50,240.61 302.88,239.97 304.13,240.86 305.56,241.17 306.03,242.60 307.59,243.43" fill="none" stroke="#90a9a5" stroke-width="0.5" stroke-linejoin="round"/>
<path d="M303.72,242.50l-0.63,0.67l0.32,0.15M305.50,244.47l-0.37,0.81l0.41,0.06M301.95,244.93l0.62,0.56l0.80,-0.05M299.06,244.28l-0.48,0.84l0.50,-0.58M302.12,245.63l-0.68,0.67l0.37,-0.47M302.11,246.42l0.67,0.84l0.82,0.19" fill="none" stroke="#90a9a5" stroke-width="0.5" stroke-linejoin="round" stroke-linecap="round"/>
<path d="M304.80,245.50A0.67,0.67 0 0 1 304.18,247.68A0.93,0.93 0 0 1 302.00,248.68A0.65,0.65 0 0 1 299.86,247.64A0.98,0.98 0 0 1 299.47,245.50A0.83,0.83 0 0 1 299.96,243.46A0.61,0.61 0 0 1 302.00,242.37A0.76,0.76 0 0 1 304.13,243.37A0.76,0.76 0 0 1 305.07,245.50" fill="none" stroke="#90a9a5" stroke-width="0.45" stroke-linejoin="round" stroke-linecap="butt" stroke-dasharray="2.1 0.7"/>
<path d="M301.63,247.37q0.6,-0.6 1.1,0.2M302.46,244.69q0.6,-0.6 1.1,0.2" fill="none" stroke="#90a9a5" stroke-width="0.45" stroke-linejoin="miter" stroke-linecap="round"/>
<polygon points="307.65,256.00 306.49,257.26 306.52,258.75 305.10,259.32 304.69,261.19 302.94,260.55 301.62,261.49 300.42,260.46 299.04,260.20 298.20,259.09 296.78,258.27 297.07,256.68 296.66,255.27 297.84,254.19 297.82,252.60 299.18,252.01 300.12,250.70 301.68,251.34 303.12,250.60 304.07,252.00 305.97,251.74 306.03,253.55 307.30,254.51" fill="none" stroke="#90a9a5" stroke-width="0.5" stroke-linejoin="round"/>
<path d="M302.30,254.72l0.36,0.51l0.79,-0.52M301.51,258.96l-0.03,0.53l0.65,-0.43M301.49,256.21l0.48,0.45l0.80,-0.16M299.62,254.24l-0.60,0.77l0.48,0.09M302.72,252.92l0.50,0.56l0.70,0.16M302.35,256.87l-0.14,0.61l0.39,-0.42" fill="none" stroke="#90a9a5" stroke-width="0.5" stroke-linejoin="round" stroke-linecap="round"/>
<path d="M304.95,256.50A0.67,0.67 0 0 1 303.65,258.65A0.90,0.90 0 0 1 301.50,259.36A0.84,0.84 0 0 1 299.47,258.53A0.83,0.83 0 0 1 298.33,256.50A1.04,1.04 0 0 1 299.28,254.28A1.09,1.09 0 0 1 301.50,253.78A0.61,0.61 0 0 1 303.53,254.47A0.89,0.89 0 0 1 304.86,256.50" fill="none" stroke="#90a9a5" stroke-width="0.45" stroke-linejoin="round" stroke-linecap="butt" stroke-dasharray="2.7 0.4"/>
<path d="M301.72,255.37q0.6,-0.6 1.1,0.2M301.36,255.53q0.6,-0.6 1.1,0.2" fill="none" stroke="#90a9a5" stroke-width="0.45" stroke-linejoin="miter" stroke-linecap="round"/>
<polygon points="308.05,266.00 307.19,267.29 307.06,268.77 305.67,269.35 304.72,270.37 303.33,270.37 301.86,271.01 300.95,269.54 299.31,269.42 299.00,267.93 298.33,266.70 298.55,265.33 298.26,263.72 300.05,263.26 300.59,261.82 302.10,262.05 303.36,261.19 304.48,262.23 306.11,262.10 306.43,263.66 307.64,264.57" fill="none" stroke="#90a9a5" stroke-width="0.5" stroke-linejoin="round"/>
<path d="M301.25,266.43l0.46,0.73l0.37,-0.42M304.65,266.09l-0.63,0.72l0.77,0.20M303.16,266.61l0.41,0.55l0.86,-0.29M302.71,266.70l0.72,0.61l0.56,-0.25M303.40,262.62l-0.04,0.41l0.54,0.11M300.65,267.54l0.10,0.58l0.64,-0.40" fill="none" stroke="#90a9a5" stroke-width="0.5" stroke-linejoin="round" stroke-linecap="round"/>
<path d="M305.39,266.50A0.58,0.58 0 0 1 304.72,268.72A0.96,0.96 0 0 1 302.50,269.25A0.55,0.55 0 0 1 300.22,268.78A0.84,0.84 0 0 1 299.55,266.50A0.77,0.77 0 0 1 300.30,264.30A0.68,0.68 0 0 1 302.50,263.94A0.89,0.89 0 0 1 304.63,264.37A0.85,0.85 0 0 1 305.12,266.50" fill="none" stroke="#90a9a5" stroke-width="0.45" stroke-linejoin="round" stroke-linecap="butt" stroke-dasharray="2.9 0.6"/>
<path d="M303.80,266.68q0.6,-0.6 1.1,0.2M301.77,267.94q0.6,-0.6 1.1,0.2" fill="none" stroke="#90a9a5" stroke-width="0.45" stroke-linejoin="miter" stroke-linecap="round"/>
<polygon points="307.37,277.00 306.32,278.21 306.81,279.93 305.13,280.35 304.63,282.08 302.94,281.51 301.62,282.52 300.35,281.65 299.00,281.25 298.21,280.08 297.26,279.06 297.03,277.68 296.91,276.30 297.53,275.06 297.81,273.59 299.39,273.31 300.19,271.89 301.68,272.28 303.11,271.68 304.06,273.02 305.77,272.97 305.93,274.61 307.64,275.42" fill="none" stroke="#90a9a5" stroke-width="0.5" stroke-linejoin="round"/>
<path d="M300.35,278.49l-0.44,0.88l0.49,-0.08M303.02,275.21l0.41,0.47l0.37,-0.57M298.28,278.23l-0.48,0.56l0.76,-0.38M303.46,279.09l-0.12,0.86l0.84,-0.41M300.00,276.20l-0.75,0.57l0.85,-0.36M299.18,275.31l-0.70,0.85l0.37,-0.36" fill="none" stroke="#90a9a5" stroke-width="0.5" stroke-linejoin="round" stroke-linecap="round"/>
<path d="M304.82,277.50A0.79,0.79 0 0 1 303.43,279.43A0.84,0.84 0 0 1 301.50,280.31A0.67,0.67 0 0 1 299.58,279.42A0.64,0.64 0 0 1 298.60,277.50A0.70,0.70 0 0 1 299.53,275.53A0.67,0.67 0 0 1 301.50,274.35A0.81,0.81 0 0 1 303.91,275.09A0.72,0.72 0 0 1 304.42,277.50" fill="none" stroke="#90a9a5" stroke-width="0.45" stroke-linejoin="round" stroke-linecap="butt" stroke-dasharray="3.1 0.3"/>
<path d="M301.47,276.80q0.6,-0.6 1.1,0.2M302.79,277.03q0.6,-0.6 1.1,0.2" fill="none" stroke="#90a9a5" stroke-width="0.45" stroke-linejoin="miter" stroke-linecap="round"/>
<polygon points="308.08,288.00 307.29,289.34 306.94,290.70 305.53,291.25 305.10,293.02 303.47,292.69 302.11,293.66 300.97,292.32 299.33,292.49 298.99,290.85 297.50,290.17 297.96,288.62 296.99,287.24 298.28,286.17 298.37,284.64 299.72,284.06 300.77,283.12 302.16,283.08 303.62,282.62 304.59,283.96 306.05,284.20 306.55,285.54 307.80,286.52" fill="none" stroke="#90a9a5" stroke-width="0.5" stroke-linejoin="round"/>
<path d="M302.12,286.05l-0.14,0.84l0.46,0.18M305.91,285.27l0.71,0.45l0.79,-0.11M303.75,292.21l0.24,0.79l0.63,-0.54M303.30,287.07l-0.39,0.67l0.42,-0.23M302.29,287.10l0.26,0.36l0.59,-0.08M302.23,287.34l-0.49,0.88l0.53,-0.26" fill="none" stroke="#90a9a5" stroke-width="0.5" stroke-linejoin="round" stroke-linecap="round"/>
<path d="M305.03,288.50A0.98,0.98 0 0 1 304.34,290.84A0.81,0.81 0 0 1 302.00,291.76A0.87,0.87 0 0 1 299.74,290.76A1.10,1.10 0 0 1 299.13,288.50A1.00,1.00 0 0 1 299.50,286.00A0.84,0.84 0 0 1 302.00,284.94A0.72,0.72 0 0 1 304.42,286.08A0.97,0.97 0 0 1 305.34,288.50" fill="none" stroke="#90a9a5" stroke-width="0.45" stroke-linejoin="round" stroke-linecap="butt" stroke-dasharray="3.3 0.6"/>
<path d="M302.78,287.76q0.6,-0.6 1.1,0.2M302.35,287.03q0.6,-0.6 1.1,0.2" fill="none" stroke="#90a9a5" stroke-width="0.45" stroke-linejoin="miter" stroke-linecap="round"/>
<polygon points="305.83,297.00 304.84,298.27 305.55,300.04 303.99,300.77 303.57,302.47 301.77,302.25 300.58,303.11 299.19,302.31 297.62,303.29 296.82,301.65 295.14,301.62 295.09,299.90 293.69,299.12 293.78,297.67 293.29,296.27 293.99,294.99 294.20,293.51 295.48,292.74 296.34,291.53 297.95,291.82 299.13,290.61 300.40,291.87 302.05,291.09 302.78,292.59 304.14,293.11 304.75,294.36 305.71,295.53" fill="none" stroke="#90a9a5" stroke-width="0.5" stroke-linejoin="round"/>
<path d="M304.52,297.01l-0.43,0.45l0.31,-0.52M298.68,293.81l0.01,0.45l0.47,0.18M295.92,300.71l0.62,0.37l0.81,-0.58M298.45,292.80l0.31,0.63l0.79,-0.48M297.70,296.54l-0.16,0.41l0.72,-0.14M300.14,293.55l0.16,0.85l0.79,-0.15" fill="none" stroke="#90a9a5" stroke-width="0.5" stroke-linejoin="round" stroke-linecap="round"/>
<path d="M302.53,297.50A0.93,0.93 0 0 1 302.17,300.16A0.91,0.91 0 0 1 299.57,300.75A1.28,1.28 0 0 1 297.04,300.89A1.12,1.12 0 0 1 295.38,298.82A1.19,1.19 0 0 1 295.10,296.08A0.99,0.99 0 0 1 297.18,294.34A0.90,0.90 0 0 1 299.69,293.59A1.09,1.09 0 0 1 301.54,295.37A0.86,0.86 0 0 1 303.02,297.50" fill="none" stroke="#90a9a5" stroke-width="0.45" stroke-linejoin="round" stroke-linecap="butt" stroke-dasharray="2.9 0.7"/>
<path d="M299.65,298.17q0.6,-0.6 1.1,0.2M297.57,297.56q0.6,-0.6 1.1,0.2" fill="none" stroke="#90a9a5" stroke-width="0.45" stroke-linejoin="miter" stroke-linecap="round"/>
<polygon points="307.31,308.00 306.39,309.36 306.10,310.80 304.79,311.50 303.86,312.74 302.31,312.09 300.81,313.20 299.95,311.55 298.55,311.20 298.15,309.85 297.39,308.69 297.76,307.36 297.55,305.86 298.65,304.89 299.53,303.72 301.00,303.60 302.39,302.82 303.59,303.95 305.00,304.23 305.46,305.64 306.77,306.53" fill="none" stroke="#90a9a5" stroke-width="0.5" stroke-linejoin="round"/>
<path d="M299.82,309.69l0.01,0.49l0.66,0.20M302.49,309.60l-0.78,0.36l0.33,-0.26M303.52,305.48l0.75,0.80l0.65,-0.14M303.84,308.14l-0.38,0.67l0.34,-0.17M300.42,309.57l-0.15,0.36l0.74,0.04M301.26,307.48l0.16,0.82l0.89,0.01" fill="none" stroke="#90a9a5" stroke-width="0.5" stroke-linejoin="round" stroke-linecap="round"/>
<path d="M304.00,308.50A0.86,0.86 0 0 1 303.72,310.72A0.98,0.98 0 0 1 301.50,311.18A0.97,0.97 0 0 1 299.30,310.70A0.82,0.82 0 0 1 298.85,308.50A0.68,0.68 0 0 1 299.55,306.55A0.84,0.84 0 0 1 301.50,305.45A0.80,0.80 0 0 1 303.42,306.58A0.81,0.81 0 0 1 304.68,308.50" fill="none" stroke="#90a9a5" stroke-width="0.45" stroke-linejoin="round" stroke-linecap="butt" stroke-dasharray="3.3 0.5"/>
<path d="M302.01,308.48q0.6,-0.6 1.1,0.2M300.02,308.88q0.6,-0.6 1.1,0.2" fill="none" stroke="#90a9a5" stroke-width="0.45" stroke-linejoin="miter" stroke-linecap="round"/>
<polygon points="301.14,261.00 300.38,262.41 300.01,263.94 298.43,264.34 297.30,265.51 295.82,264.83 294.19,265.01 293.35,263.64 292.56,262.43 292.73,261.00 292.05,259.38 293.72,258.67 294.16,256.94 295.87,257.44 297.30,256.48 298.52,257.51 299.82,258.21 300.08,259.70" fill="none" stroke="#90a9a5" stroke-width="0.5" stroke-linejoin="round"/>
<path d="M296.89,263.64l0.05,0.66l0.50,-0.13M299.29,260.18l0.72,0.45l0.61,-0.29M294.81,263.45l-0.52,0.64l0.76,0.15M297.79,261.15l-0.01,0.86l0.40,0.07M294.76,262.31l0.68,0.34l0.50,-0.48M297.44,262.05l0.32,0.65l0.37,0.04" fill="none" stroke="#90a9a5" stroke-width="0.5" stroke-linejoin="round" stroke-linecap="round"/>
<path d="M298.57,261.50A0.84,0.84 0 0 1 297.64,263.14A0.58,0.58 0 0 1 296.00,264.29A0.84,0.84 0 0 1 293.97,263.53A0.49,0.49 0 0 1 293.63,261.50A0.84,0.84 0 0 1 294.00,259.50A0.82,0.82 0 0 1 296.00,259.22A0.76,0.76 0 0 1 297.95,259.55A0.91,0.91 0 0 1 298.80,261.50" fill="none" stroke="#90a9a5" stroke-width="0.45" stroke-linejoin="round" stroke-linecap="butt" stroke-dasharray="2.3 0.6"/>
<path d="M296.84,261.04q0.6,-0.6 1.1,0.2M295.35,260.03q0.6,-0.6 1.1,0.2" fill="none" stroke="#90a9a5" stroke-width="0.45" stroke-linejoin="miter" stroke-linecap="round"/>
<polygon points="301.20,289.00 300.21,290.33 299.74,291.74 298.27,292.07 297.00,293.02 295.75,292.02 294.03,291.97 293.65,290.39 293.14,289.00 293.73,287.65 294.10,286.10 295.75,285.99 297.00,284.84 298.37,285.70 299.75,286.25 300.00,287.76" fill="none" stroke="#90a9a5" stroke-width="0.5" stroke-linejoin="round"/>
<path d="M296.49,291.51l-0.05,0.79l0.40,-0.51M295.33,291.33l-0.54,0.34l0.75,-0.53M296.69,288.45l-0.41,0.70l0.82,-0.27M296.54,289.15l-0.25,0.45l0.77,-0.03M297.40,287.16l0.32,0.38l0.53,-0.37M296.50,291.42l-0.46,0.50l0.47,0.09" fill="none" stroke="#90a9a5" stroke-width="0.5" stroke-linejoin="round" stroke-linecap="round"/>
<path d="M298.87,289.50A0.58,0.58 0 0 1 298.10,291.10A0.79,0.79 0 0 1 296.50,292.04A0.65,0.65 0 0 1 294.91,291.09A0.53,0.53 0 0 1 293.99,289.50A0.47,0.47 0 0 1 294.99,287.99A0.73,0.73 0 0 1 296.50,287.22A0.60,0.60 0 0 1 297.96,288.04A0.62,0.62 0 0 1 299.09,289.50" fill="none" stroke="#90a9a5" stroke-width="0.45" stroke-linejoin="round" stroke-linecap="butt" stroke-dasharray="2.4 0.6"/>
<path d="M297.24,288.91q0.6,-0.6 1.1,0.2M297.47,290.45q0.6,-0.6 1.1,0.2" fill="none" stroke="#90a9a5" stroke-width="0.45" stroke-linejoin="miter" stroke-linecap="round"/>
<polygon points="308.62,300.00 307.87,301.38 307.23,302.80 305.65,302.86 304.22,303.42 303.18,302.28 301.87,301.51 302.00,300.00 301.66,298.39 303.02,297.51 304.17,296.38 305.67,297.07 307.32,297.09 307.57,298.76" fill="none" stroke="#90a9a5" stroke-width="0.5" stroke-linejoin="round"/>
<path d="M306.69,299.09l0.60,0.55l0.89,-0.58M306.36,298.07l-0.20,0.80l0.43,0.00M303.67,300.27l-0.49,0.78l0.74,-0.53M305.88,299.88l-0.20,0.55l0.65,0.11M306.79,299.36l-0.22,0.36l0.34,-0.18M303.75,299.28l0.77,0.55l0.51,-0.27" fill="none" stroke="#90a9a5" stroke-width="0.5" stroke-linejoin="round" stroke-linecap="round"/>
<path d="M306.32,300.50A0.58,0.58 0 0 1 306.08,302.08A0.52,0.52 0 0 1 304.50,302.52A0.48,0.48 0 0 1 303.19,301.81A0.53,0.53 0 0 1 302.51,300.50A0.57,0.57 0 0 1 302.90,298.90A0.40,0.40 0 0 1 304.50,298.66A0.49,0.49 0 0 1 305.78,299.22A0.68,0.68 0 0 1 306.65,300.50" fill="none" stroke="#90a9a5" stroke-width="0.45" stroke-linejoin="round" stroke-linecap="butt" stroke-dasharray="2.2 0.6"/>
<path d="M303.52,300.88q0.6,-0.6 1.1,0.2M304.13,300.42q0.6,-0.6 1.1,0.2" fill="none" stroke="#90a9a5" stroke-width="0.45" stroke-linejoin="miter" stroke-linecap="round"/>
<path d="M282.60,303.40L295.06,304.62M282.60,303.40L292.83,308.45M282.60,303.40L291.99,312.54M282.60,303.40L288.25,311.88M282.60,303.40L285.95,315.41M282.60,303.40L282.86,313.50M282.60,303.40L279.71,313.04M282.60,303.40L275.56,313.55M282.60,303.40L273.94,311.20M282.60,303.40L273.02,308.07M282.60,303.40L269.71,305.66M282.60,303.40L270.03,301.57M282.60,303.40L270.67,298.11M282.60,303.40L273.34,295.06M282.60,303.40L276.00,293.25M282.60,303.40L278.35,290.38M282.60,303.40L282.93,291.41M282.60,303.40L285.74,293.57M282.60,303.40L288.34,294.22M282.60,303.40L290.45,297.23M282.60,303.40L294.69,297.88M282.60,303.40L295.25,302.11" fill="none" stroke="#90a9a5" stroke-width="1.25" stroke-linejoin="miter" stroke-linecap="round"/>
<path d="M133.60,305.00L143.15,305.73M133.60,305.00L142.33,309.47M133.60,305.00L140.37,312.33M133.60,305.00L137.71,314.93M133.60,305.00L134.05,317.14M133.60,305.00L130.48,316.75M133.60,305.00L127.29,314.95M133.60,305.00L125.15,311.48M133.60,305.00L122.58,307.96M133.60,305.00L124.13,304.26M133.60,305.00L124.16,300.05M133.60,305.00L126.53,297.29M133.60,305.00L128.34,294.87M133.60,305.00L132.48,294.67M133.60,305.00L135.66,295.55M133.60,305.00L140.44,295.88M133.60,305.00L142.20,299.34M133.60,305.00L144.40,302.57" fill="none" stroke="#90a9a5" stroke-width="1.5" stroke-linejoin="miter" stroke-linecap="round"/>
<polyline points="120.90,319.00 120.90,111.60 307.60,111.60 307.60,319.00" fill="none" stroke="#555" stroke-width="0.8" stroke-linecap="butt" stroke-linejoin="miter"/>
<polyline points="124.40,319.00 124.40,115.30 304.40,115.30 304.40,319.00" fill="none" stroke="#333" stroke-width="0.8" stroke-linecap="butt" stroke-linejoin="miter"/>
<polyline points="115.00,207.20 127.50,197.70" fill="none" stroke="#2a2a2a" stroke-width="0.5" stroke-linecap="butt" stroke-linejoin="miter"/>
<polyline points="115.80,209.20 128.30,199.70" fill="none" stroke="#2a2a2a" stroke-width="0.5" stroke-linecap="butt" stroke-linejoin="miter"/>
<polyline points="301.50,207.00 314.00,197.50" fill="none" stroke="#2a2a2a" stroke-width="0.5" stroke-linecap="butt" stroke-linejoin="miter"/>
<polyline points="302.30,209.00 314.80,199.50" fill="none" stroke="#2a2a2a" stroke-width="0.5" stroke-linecap="butt" stroke-linejoin="miter"/>
<polyline points="215.10,233.80 215.10,216.12" fill="none" stroke="#33405e" stroke-width="1.2" stroke-linecap="butt" stroke-linejoin="miter"/>
<polygon points="215.10,214.20 212.30,217.40 215.10,216.50 217.90,217.40" fill="#33405e"/>
<text x="215.10" y="241.60" font-family='"Liberation Serif", serif' font-size="6" text-anchor="middle" fill="#56627e" stroke="#56627e" stroke-width="0.06" textLength="10.4" lengthAdjust="spacingAndGlyphs">UP</text>
<text x="217.10" y="159.40" font-family='"Liberation Serif", serif' font-size="8.6" text-anchor="middle" fill="#1d1d1b" stroke="#1d1d1b" stroke-width="0.06" textLength="30.1" lengthAdjust="spacingAndGlyphs">Garden</text>
<text x="217.70" y="169.10" font-family='"Liberation Serif", serif' font-size="8.6" text-anchor="middle" fill="#1d1d1b" stroke="#1d1d1b" stroke-width="0.06" textLength="31.2" lengthAdjust="spacingAndGlyphs">approx.</text>
<text x="217.70" y="178.80" font-family='"Liberation Serif", serif' font-size="8.6" text-anchor="middle" fill="#1d1d1b" stroke="#1d1d1b" stroke-width="0.06" textLength="50.8" lengthAdjust="spacingAndGlyphs">24’11 (7.59)</text>
<text x="218.80" y="188.50" font-family='"Liberation Serif", serif' font-size="8.6" text-anchor="middle" fill="#1d1d1b" stroke="#1d1d1b" stroke-width="0.06" textLength="53" lengthAdjust="spacingAndGlyphs">x 17’5 (5.31)</text>
<polygon points="143.90,319.00 143.90,296.60 145.40,296.60 145.40,319.00" fill="#bdbdbd" stroke="#3a3a3a" stroke-width="0.5" stroke-linecap="butt" stroke-linejoin="miter"/>
<path d="M143.90,296.60 A22.00,22.40 0 0 1 165.90,319.00" fill="none" stroke="#222" stroke-width="0.6" stroke-linejoin="miter" stroke-linecap="butt"/>
<polygon points="195.60,319.00 195.60,297.40 194.10,297.40 194.10,319.00" fill="#bdbdbd" stroke="#3a3a3a" stroke-width="0.5" stroke-linecap="butt" stroke-linejoin="miter"/>
<path d="M195.60,297.40 A21.60,21.60 0 0 1 217.20,319.00" fill="none" stroke="#222" stroke-width="0.6" stroke-linejoin="miter" stroke-linecap="butt"/>
<polygon points="266.90,319.00 266.90,296.20 265.40,296.20 265.40,319.00" fill="#bdbdbd" stroke="#3a3a3a" stroke-width="0.5" stroke-linecap="butt" stroke-linejoin="miter"/>
<path d="M266.90,296.20 A22.60,22.80 0 0 0 244.30,319.00" fill="none" stroke="#222" stroke-width="0.6" stroke-linejoin="miter" stroke-linecap="butt"/>
<path d="M131.5,855.6V969M137.5,855.6V969M143.5,855.6V969M149.4,855.6V969M155.6,855.6V969M161.5,855.6V969M128.6,861.25H162.4M128.6,867.19H162.4M128.6,873.13H162.4M128.6,879.07H162.4M128.6,885.01H162.4M128.6,890.95H162.4M128.6,896.89H162.4M128.6,902.83H162.4M128.6,908.77H162.4M128.6,914.71H162.4M128.6,920.65H162.4M128.6,926.59H162.4M128.6,932.53H162.4M128.6,938.47H162.4M128.6,944.41H162.4M128.6,950.35H162.4M128.6,956.29H162.4M128.6,962.23H162.4M128.6,968.17H162.4" fill="none" stroke="#c3d0d3" stroke-width="0.55" stroke-linejoin="miter" stroke-linecap="butt"/>
<path d="M162.5,893.5H300M162.5,916H300M162.5,938.75H300M177.5,883V893.5M200.6,883V893.5M268.75,883V893.5M291.5,883V893.5M166.5,893.5V916M188.5,893.5V916M279.4,893.5V916M211.25,910.5V916M234.4,910.5V916M256.5,910.5V916M177.5,916V938.75M200.6,916V938.75M222.5,916V938.75M245.6,916V938.75M268.75,916V938.75M291.5,916V938.75M166.5,938.75V961M188.5,938.75V961M211.25,938.75V961M234.4,938.75V961M256.5,938.75V961M279.4,938.75V961" fill="none" stroke="#c3d0d3" stroke-width="0.55" stroke-linejoin="miter" stroke-linecap="butt"/>
<polygon points="162.50,855.00 307.60,855.00 307.60,882.75 278.75,882.75 276.90,885.00 263.60,910.00 206.90,910.00 193.10,885.00 191.40,882.75 162.50,882.75" fill="#fff"/>
<polyline points="130.60,371.30 150.60,371.30 150.60,477.00" fill="none" stroke="#a9bcb8" stroke-width="0.55" stroke-linecap="butt" stroke-linejoin="miter"/>
<rect x="133.50" y="424.10" width="14.90" height="18.60" fill="none" stroke="#8fa7a2" stroke-width="0.6"/>
<rect x="134.40" y="425.00" width="13.10" height="16.80" fill="none" stroke="#8fa7a2" stroke-width="0.35" rx="1"/>
<circle cx="136.9" cy="433.5" r="1.1" fill="none" stroke="#8fa7a2" stroke-width="0.5"/>
<rect x="191.40" y="453.30" width="38.30" height="74.30" fill="none" stroke="#a9bcb8" stroke-width="0.65"/>
<rect x="193.20" y="482.20" width="15.90" height="23.30" fill="none" stroke="#8fa7a2" stroke-width="0.6"/>
<rect x="195.60" y="483.10" width="12.80" height="21.50" fill="none" stroke="#8fa7a2" stroke-width="0.6"/>
<rect x="193.6" y="492" width="1.6" height="3.6" fill="none" stroke="#8fa7a2" stroke-width="0.35"/>
<circle cx="198.2" cy="487.4" r="1.7" fill="none" stroke="#8fa7a2" stroke-width="1.0"/>
<path d="M195.6,487.4H200.79999999999998M198.2,484.8V489.99999999999994" stroke="#8fa7a2" stroke-width="0.6" fill="none"/>
<circle cx="198.2" cy="487.4" r="0.51" fill="#fff" stroke="none"/>
<circle cx="205" cy="487.4" r="2.2" fill="none" stroke="#8fa7a2" stroke-width="1.0"/>
<path d="M201.9,487.4H208.1M205,484.3V490.49999999999994" stroke="#8fa7a2" stroke-width="0.6" fill="none"/>
<circle cx="205" cy="487.4" r="0.66" fill="#fff" stroke="none"/>
<circle cx="201.5" cy="494.3" r="2.5" fill="none" stroke="#8fa7a2" stroke-width="1.0"/>
<path d="M198.1,494.3H204.9M201.5,490.90000000000003V497.7" stroke="#8fa7a2" stroke-width="0.6" fill="none"/>
<circle cx="201.5" cy="494.3" r="0.75" fill="#fff" stroke="none"/>
<circle cx="198.2" cy="501.3" r="1.9" fill="none" stroke="#8fa7a2" stroke-width="1.0"/>
<path d="M195.39999999999998,501.3H201.0M198.2,498.50000000000006V504.09999999999997" stroke="#8fa7a2" stroke-width="0.6" fill="none"/>
<circle cx="198.2" cy="501.3" r="0.57" fill="#fff" stroke="none"/>
<circle cx="205" cy="501.3" r="2.3" fill="none" stroke="#8fa7a2" stroke-width="1.0"/>
<path d="M201.79999999999998,501.3H208.20000000000002M205,498.1V504.5" stroke="#8fa7a2" stroke-width="0.6" fill="none"/>
<circle cx="205" cy="501.3" r="0.69" fill="#fff" stroke="none"/>
<rect x="255.40" y="378.00" width="24.40" height="39.50" fill="none" stroke="#b3c4be" stroke-width="0.65" stroke-dasharray="3.1 2"/>
<polyline points="255.40,378.00 279.80,417.50" fill="none" stroke="#b3c4be" stroke-width="0.6" stroke-linecap="butt" stroke-linejoin="miter" stroke-dasharray="3.3 2.3"/>
<polyline points="279.80,378.00 255.40,417.50" fill="none" stroke="#b3c4be" stroke-width="0.6" stroke-linecap="butt" stroke-linejoin="miter" stroke-dasharray="3.3 2.3"/>
<rect x="255.40" y="444.30" width="24.40" height="39.10" fill="none" stroke="#b3c4be" stroke-width="0.65" stroke-dasharray="3.1 2"/>
<polyline points="255.40,444.30 279.80,483.40" fill="none" stroke="#b3c4be" stroke-width="0.6" stroke-linecap="butt" stroke-linejoin="miter" stroke-dasharray="3.3 2.3"/>
<polyline points="279.80,444.30 255.40,483.40" fill="none" stroke="#b3c4be" stroke-width="0.6" stroke-linecap="butt" stroke-linejoin="miter" stroke-dasharray="3.3 2.3"/>
<rect x="255.40" y="512.40" width="24.40" height="39.20" fill="none" stroke="#b3c4be" stroke-width="0.65" stroke-dasharray="3.1 2"/>
<polyline points="255.40,512.40 279.80,551.60" fill="none" stroke="#b3c4be" stroke-width="0.6" stroke-linecap="butt" stroke-linejoin="miter" stroke-dasharray="3.3 2.3"/>
<polyline points="279.80,512.40 255.40,551.60" fill="none" stroke="#b3c4be" stroke-width="0.6" stroke-linecap="butt" stroke-linejoin="miter" stroke-dasharray="3.3 2.3"/>
<text x="208.00" y="406.80" font-family='"Liberation Serif", serif' font-size="8.5" text-anchor="middle" fill="#1d1d1b" stroke="#1d1d1b" stroke-width="0.06" textLength="31.5" lengthAdjust="spacingAndGlyphs">Kitchen /</text>
<text x="208.00" y="415.15" font-family='"Liberation Serif", serif' font-size="8.5" text-anchor="middle" fill="#1d1d1b" stroke="#1d1d1b" stroke-width="0.06" textLength="57.8" lengthAdjust="spacingAndGlyphs">Breakfast Room</text>
<text x="208.00" y="423.50" font-family='"Liberation Serif", serif' font-size="8.5" text-anchor="middle" fill="#1d1d1b" stroke="#1d1d1b" stroke-width="0.06" textLength="40" lengthAdjust="spacingAndGlyphs">24’7 (7.49)</text>
<text x="208.00" y="431.85" font-family='"Liberation Serif", serif' font-size="8.5" text-anchor="middle" fill="#1d1d1b" stroke="#1d1d1b" stroke-width="0.06" textLength="45.5" lengthAdjust="spacingAndGlyphs">x 16’1 (4.90)</text>
<polygon points="130.60,477.10 150.80,477.10 150.80,480.90 148.20,480.90 147.60,479.70 130.60,479.70" fill="#fff" stroke="#000" stroke-width="1.1" stroke-linejoin="miter"/>
<polygon points="149.03,481.27 159.03,489.00 159.77,488.05 149.77,480.33" fill="#e8e8e8" stroke="#000" stroke-width="0.55" stroke-linecap="butt" stroke-linejoin="miter"/>
<polygon points="149.77,504.67 159.77,496.95 159.03,496.00 149.03,503.73" fill="#e8e8e8" stroke="#000" stroke-width="0.55" stroke-linecap="butt" stroke-linejoin="miter"/>
<path d="M159.40,488.52 Q156.90,492.03 150.60,492.50 Q156.90,492.97 159.40,496.48" fill="none" stroke="#222" stroke-width="0.5" stroke-linejoin="miter" stroke-linecap="butt"/>
<polygon points="130.60,505.40 147.60,505.40 148.20,504.20 150.80,504.20 150.80,510.40 148.20,510.40 147.60,508.50 130.60,508.50" fill="#fff" stroke="#000" stroke-width="1.1" stroke-linejoin="miter"/>
<polygon points="149.02,510.97 158.42,518.52 159.18,517.59 149.78,510.03" fill="#e8e8e8" stroke="#000" stroke-width="0.55" stroke-linecap="butt" stroke-linejoin="miter"/>
<polygon points="149.78,533.87 159.18,526.31 158.42,525.38 149.02,532.93" fill="#e8e8e8" stroke="#000" stroke-width="0.55" stroke-linecap="butt" stroke-linejoin="miter"/>
<path d="M158.80,518.06 Q156.45,521.49 150.53,521.95 Q156.45,522.41 158.80,525.84" fill="none" stroke="#222" stroke-width="0.5" stroke-linejoin="miter" stroke-linecap="butt"/>
<polygon points="130.60,534.20 147.60,534.20 148.20,533.20 150.80,533.20 150.80,537.50 130.60,537.50" fill="#fff" stroke="#000" stroke-width="1.1" stroke-linejoin="miter"/>
<polygon points="130.60,566.30 161.90,566.30 161.90,571.30 158.80,571.30 158.80,575.60 153.10,575.60 153.10,571.30 130.60,571.30" fill="#fff" stroke="#000" stroke-width="1.1" stroke-linejoin="miter"/>
<polygon points="161.40,566.30 161.40,545.30 162.50,545.30 162.50,566.30" fill="#bdbdbd" stroke="#3a3a3a" stroke-width="0.5" stroke-linecap="butt" stroke-linejoin="miter"/>
<path d="M161.40,545.30 A21.20,21.00 0 0 1 182.60,566.30" fill="none" stroke="#222" stroke-width="0.6" stroke-linejoin="miter" stroke-linecap="butt"/>
<polygon points="182.50,566.30 195.00,566.30 195.00,571.30 189.10,571.30 189.10,717.50 184.50,717.50 184.50,571.30 182.50,571.30" fill="#fff" stroke="#000" stroke-width="1.1" stroke-linejoin="miter"/>
<polygon points="230.00,566.30 246.60,566.30 246.60,615.50 189.10,615.50 189.10,606.20 236.30,606.20 236.30,570.70 230.00,570.70" fill="#fff" stroke="#000" stroke-width="1.1" stroke-linejoin="miter"/>
<rect x="188.4" y="606.75" width="1.5" height="8.25" fill="#fff"/>
<polygon points="195.43,566.65 207.73,551.65 206.87,550.95 194.57,565.95" fill="#e8e8e8" stroke="#000" stroke-width="0.55" stroke-linecap="butt" stroke-linejoin="miter"/>
<polygon points="230.43,565.96 218.53,550.96 217.67,551.64 229.57,566.64" fill="#e8e8e8" stroke="#000" stroke-width="0.55" stroke-linecap="butt" stroke-linejoin="miter"/>
<path d="M207.3,551.3 Q211.6,556.5 212.4,566 Q213.4,556.5 218.1,551.3" fill="none" stroke="#2a2a2a" stroke-width="0.55" stroke-linejoin="miter" stroke-linecap="butt"/>
<text x="212.40" y="590.60" font-family='"Liberation Serif", serif' font-size="8.5" text-anchor="middle" fill="#1d1d1b" stroke="#1d1d1b" stroke-width="0.06" textLength="22.5" lengthAdjust="spacingAndGlyphs">Utility</text>
<polyline points="246.60,591.00 286.50,591.00" fill="none" stroke="#555" stroke-width="0.9" stroke-linecap="butt" stroke-linejoin="miter"/>
<polyline points="246.60,598.20 286.50,598.20" fill="none" stroke="#555" stroke-width="0.9" stroke-linecap="butt" stroke-linejoin="miter"/>
<polyline points="246.60,607.20 286.50,607.20" fill="none" stroke="#555" stroke-width="0.9" stroke-linecap="butt" stroke-linejoin="miter"/>
<polyline points="246.60,615.50 286.50,615.50" fill="none" stroke="#000" stroke-width="1.1" stroke-linecap="butt" stroke-linejoin="miter"/>
<polygon points="155.96,576.10 168.36,584.54 169.04,583.55 156.64,575.10" fill="#e8e8e8" stroke="#000" stroke-width="0.55" stroke-linecap="butt" stroke-linejoin="miter"/>
<polygon points="156.64,601.70 169.04,593.25 168.36,592.26 155.96,600.70" fill="#e8e8e8" stroke="#000" stroke-width="0.55" stroke-linecap="butt" stroke-linejoin="miter"/>
<path d="M168.70,584.05 Q165.60,587.89 157.79,588.40 Q165.60,588.91 168.70,592.75" fill="none" stroke="#222" stroke-width="0.5" stroke-linejoin="miter" stroke-linecap="butt"/>
<polygon points="130.60,605.90 153.10,605.90 153.10,602.30 158.50,602.30 158.50,627.30 153.80,627.30 153.80,611.00 130.60,611.00" fill="#fff" stroke="#000" stroke-width="1.1" stroke-linejoin="miter"/>
<polygon points="130.60,650.60 153.10,650.60 153.10,648.10 158.50,648.10 158.50,656.50 130.60,656.50" fill="#fff" stroke="#000" stroke-width="1.1" stroke-linejoin="miter"/>
<polygon points="158.50,648.80 180.00,648.80 180.00,650.30 158.50,650.30" fill="#bdbdbd" stroke="#3a3a3a" stroke-width="0.5" stroke-linecap="butt" stroke-linejoin="miter"/>
<path d="M180.00,648.80 A21.50,21.50 0 0 0 158.50,627.30" fill="none" stroke="#222" stroke-width="0.6" stroke-linejoin="miter" stroke-linecap="butt"/>
<rect x="136.90" y="612.50" width="13.70" height="2.30" fill="none" stroke="#8fa7a2" stroke-width="0.6" rx="0.8"/>
<path d="M138.6,614.8 C137.4,622 138.4,631.6 143.75,631.6 C149.1,631.6 150.1,622 148.9,614.8 Z" fill="none" stroke="#8fa7a2" stroke-width="0.65" stroke-linejoin="miter" stroke-linecap="butt"/>
<path d="M139.8,616 C138.8,622 139.6,630.2 143.75,630.2 C147.9,630.2 148.7,622 147.7,616 Z" fill="none" stroke="#8fa7a2" stroke-width="0.45" stroke-linejoin="miter" stroke-linecap="butt"/>
<rect x="133.50" y="636.30" width="7.10" height="13.70" fill="none" stroke="#8fa7a2" stroke-width="0.6"/>
<polyline points="131.00,643.00 137.50,643.00" fill="none" stroke="#8fa7a2" stroke-width="0.6" stroke-linecap="butt" stroke-linejoin="miter"/>
<circle cx="134.6" cy="643" r="0.6" fill="#8fa7a2"/>
<polyline points="130.60,682.70 155.80,682.70" fill="none" stroke="#2a2a2a" stroke-width="0.75" stroke-linecap="butt" stroke-linejoin="miter"/>
<polyline points="130.60,690.40 155.80,690.40" fill="none" stroke="#2a2a2a" stroke-width="0.75" stroke-linecap="butt" stroke-linejoin="miter"/>
<polyline points="130.60,698.10 155.80,698.10" fill="none" stroke="#2a2a2a" stroke-width="0.75" stroke-linecap="butt" stroke-linejoin="miter"/>
<polyline points="130.60,705.90 155.80,705.90" fill="none" stroke="#2a2a2a" stroke-width="0.75" stroke-linecap="butt" stroke-linejoin="miter"/>
<polyline points="130.60,713.90 155.80,713.90" fill="none" stroke="#2a2a2a" stroke-width="0.75" stroke-linecap="butt" stroke-linejoin="miter"/>
<polyline points="130.60,721.70 155.80,721.70" fill="none" stroke="#2a2a2a" stroke-width="0.75" stroke-linecap="butt" stroke-linejoin="miter"/>
<polyline points="130.60,729.70 155.80,729.70" fill="none" stroke="#2a2a2a" stroke-width="0.75" stroke-linecap="butt" stroke-linejoin="miter"/>
<polyline points="130.60,738.10 155.80,738.10" fill="none" stroke="#2a2a2a" stroke-width="0.75" stroke-linecap="butt" stroke-linejoin="miter"/>
<polyline points="159.40,690.40 184.50,690.40" fill="none" stroke="#444" stroke-width="0.8" stroke-linecap="butt" stroke-linejoin="miter"/>
<polyline points="159.40,698.10 184.50,698.10" fill="none" stroke="#444" stroke-width="0.8" stroke-linecap="butt" stroke-linejoin="miter"/>
<polyline points="159.40,705.90 184.50,705.90" fill="none" stroke="#444" stroke-width="0.8" stroke-linecap="butt" stroke-linejoin="miter"/>
<polygon points="131.40,714.20 155.60,690.80 155.60,703.60 131.40,728.60" fill="#fff"/>
<polyline points="131.00,714.50 140.85,705.04 141.73,700.32 146.32,704.24 147.20,698.95 155.90,690.60" fill="none" stroke="#111" stroke-width="0.85" stroke-linecap="butt" stroke-linejoin="miter"/>
<polyline points="131.00,729.00 140.93,718.83 141.66,714.08 146.37,717.84 147.08,712.53 155.90,703.50" fill="none" stroke="#111" stroke-width="0.85" stroke-linecap="butt" stroke-linejoin="miter"/>
<rect x="155.60" y="679.90" width="3.60" height="60.40" fill="#fff" stroke="#333" stroke-width="0.7" rx="0.7"/>
<text x="143.80" y="678.70" font-family='"Liberation Serif", serif' font-size="7.3" text-anchor="middle" fill="#4f5b78" stroke="#4f5b78" stroke-width="0.04" textLength="11.1" lengthAdjust="spacingAndGlyphs">DN</text>
<polyline points="143.30,683.50 143.30,696.18" fill="none" stroke="#33405e" stroke-width="1.2" stroke-linecap="butt" stroke-linejoin="miter"/>
<polygon points="143.30,698.10 140.50,694.90 143.30,695.80 146.10,694.90" fill="#33405e"/>
<polyline points="143.80,738.00 143.80,723.92" fill="none" stroke="#33405e" stroke-width="1.2" stroke-linecap="butt" stroke-linejoin="miter"/>
<polygon points="143.80,722.00 141.00,725.20 143.80,724.30 146.60,725.20" fill="#33405e"/>
<text x="143.90" y="743.60" font-family='"Liberation Serif", serif' font-size="7.3" text-anchor="middle" fill="#4f5b78" stroke="#4f5b78" stroke-width="0.04" textLength="9.4" lengthAdjust="spacingAndGlyphs">UP</text>
<polygon points="205.60,616.00 208.50,616.00 208.50,619.20 205.60,619.20" fill="#fff" stroke="#000" stroke-width="0.75" stroke-linejoin="miter"/>
<polygon points="207.13,619.47 217.73,627.72 218.47,626.78 207.87,618.53" fill="#e8e8e8" stroke="#000" stroke-width="0.55" stroke-linecap="butt" stroke-linejoin="miter"/>
<polygon points="207.87,644.47 218.47,636.22 217.73,635.28 207.13,643.53" fill="#e8e8e8" stroke="#000" stroke-width="0.55" stroke-linecap="butt" stroke-linejoin="miter"/>
<path d="M218.10,627.25 Q215.45,631.00 208.77,631.50 Q215.45,632.00 218.10,635.75" fill="none" stroke="#222" stroke-width="0.5" stroke-linejoin="miter" stroke-linecap="butt"/>
<polygon points="205.60,644.70 208.50,643.60 208.50,653.20 205.60,652.20" fill="#fff" stroke="#000" stroke-width="0.75" stroke-linejoin="miter"/>
<polygon points="207.12,652.97 217.32,661.15 218.08,660.22 207.88,652.03" fill="#e8e8e8" stroke="#000" stroke-width="0.55" stroke-linecap="butt" stroke-linejoin="miter"/>
<polygon points="207.88,677.77 218.08,669.58 217.32,668.65 207.12,676.83" fill="#e8e8e8" stroke="#000" stroke-width="0.55" stroke-linecap="butt" stroke-linejoin="miter"/>
<path d="M217.70,660.68 Q215.15,664.40 208.72,664.90 Q215.15,665.40 217.70,669.12" fill="none" stroke="#222" stroke-width="0.5" stroke-linejoin="miter" stroke-linecap="butt"/>
<polygon points="189.10,678.50 205.60,678.50 206.40,677.20 208.50,677.20 208.50,683.60 206.40,683.60 205.60,681.00 189.10,681.00" fill="#fff" stroke="#000" stroke-width="0.9" stroke-linejoin="miter"/>
<polygon points="207.12,683.97 218.42,693.14 219.18,692.21 207.88,683.03" fill="#e8e8e8" stroke="#000" stroke-width="0.55" stroke-linecap="butt" stroke-linejoin="miter"/>
<polygon points="207.88,711.77 219.18,702.59 218.42,701.66 207.12,710.83" fill="#e8e8e8" stroke="#000" stroke-width="0.55" stroke-linecap="butt" stroke-linejoin="miter"/>
<path d="M218.80,692.67 Q215.97,696.84 208.86,697.40 Q215.97,697.96 218.80,702.13" fill="none" stroke="#222" stroke-width="0.5" stroke-linejoin="miter" stroke-linecap="butt"/>
<polygon points="189.10,712.30 205.60,712.30 206.40,710.50 208.50,710.50 208.50,715.40 189.10,715.40" fill="#fff" stroke="#000" stroke-width="0.9" stroke-linejoin="miter"/>
<polygon points="188.90,739.40 210.70,739.40 210.70,740.90 188.90,740.90" fill="#bdbdbd" stroke="#3a3a3a" stroke-width="0.5" stroke-linecap="butt" stroke-linejoin="miter"/>
<path d="M210.70,739.40 A21.80,21.80 0 0 0 188.90,717.60" fill="none" stroke="#222" stroke-width="0.6" stroke-linejoin="miter" stroke-linecap="butt"/>
<text x="248.70" y="670.80" font-family='"Liberation Serif", serif' font-size="8.4" text-anchor="middle" fill="#1d1d1b" stroke="#1d1d1b" stroke-width="0.06" textLength="48.8" lengthAdjust="spacingAndGlyphs">Dining Room</text>
<text x="248.30" y="679.80" font-family='"Liberation Serif", serif' font-size="8.4" text-anchor="middle" fill="#1d1d1b" stroke="#1d1d1b" stroke-width="0.06" textLength="39" lengthAdjust="spacingAndGlyphs">13’0 (3.96)</text>
<text x="247.90" y="688.00" font-family='"Liberation Serif", serif' font-size="8.4" text-anchor="middle" fill="#1d1d1b" stroke="#1d1d1b" stroke-width="0.06" textLength="45.8" lengthAdjust="spacingAndGlyphs">x 11’5 (3.48)</text>
<polygon points="184.40,739.40 188.80,739.40 188.80,740.60 216.30,740.60 216.30,746.30 189.40,746.30 173.30,762.10 173.30,765.20 168.50,765.20 168.50,759.80" fill="#fff" stroke="#000" stroke-width="1.15" stroke-linejoin="miter"/>
<polygon points="260.50,740.60 296.90,740.60 296.90,746.30 260.50,746.30" fill="#fff" stroke="#000" stroke-width="1.15" stroke-linejoin="miter"/>
<polygon points="216.30,746.30 216.30,768.10 214.80,768.10 214.80,746.30" fill="#bdbdbd" stroke="#3a3a3a" stroke-width="0.5" stroke-linecap="butt" stroke-linejoin="miter"/>
<path d="M216.30,768.10 A21.80,21.80 0 0 0 238.10,746.30" fill="none" stroke="#222" stroke-width="0.6" stroke-linejoin="miter" stroke-linecap="butt"/>
<polygon points="260.50,746.30 260.50,768.10 262.00,768.10 262.00,746.30" fill="#bdbdbd" stroke="#3a3a3a" stroke-width="0.5" stroke-linecap="butt" stroke-linejoin="miter"/>
<path d="M260.50,768.10 A21.80,21.80 0 0 1 238.70,746.30" fill="none" stroke="#222" stroke-width="0.6" stroke-linejoin="miter" stroke-linecap="butt"/>
<polygon points="173.30,765.30 194.90,765.30 194.90,763.80 173.30,763.80" fill="#bdbdbd" stroke="#3a3a3a" stroke-width="0.5" stroke-linecap="butt" stroke-linejoin="miter"/>
<path d="M194.90,765.30 A21.60,21.60 0 0 1 173.30,786.90" fill="none" stroke="#222" stroke-width="0.6" stroke-linejoin="miter" stroke-linecap="butt"/>
<polygon points="168.50,786.30 173.50,786.30 173.50,844.70 168.50,844.70" fill="#fff" stroke="#000" stroke-width="1.15" stroke-linejoin="miter"/>
<text x="234.40" y="804.60" font-family='"Liberation Serif", serif' font-size="8.5" text-anchor="middle" fill="#1d1d1b" stroke="#1d1d1b" stroke-width="0.06" textLength="60" lengthAdjust="spacingAndGlyphs">Reception Room</text>
<text x="234.40" y="813.00" font-family='"Liberation Serif", serif' font-size="8.5" text-anchor="middle" fill="#1d1d1b" stroke="#1d1d1b" stroke-width="0.06" textLength="70" lengthAdjust="spacingAndGlyphs">13’2 (4.01) into bay</text>
<text x="234.40" y="821.40" font-family='"Liberation Serif", serif' font-size="8.5" text-anchor="middle" fill="#1d1d1b" stroke="#1d1d1b" stroke-width="0.06" textLength="62.5" lengthAdjust="spacingAndGlyphs">x 13’1 (3.99) max</text>
<rect x="137.50" y="844.75" width="20.60" height="10.50" fill="#fff" stroke="#111" stroke-width="0.7"/>
<polyline points="137.50,847.70 158.10,847.70" fill="none" stroke="#000" stroke-width="0.6" stroke-linecap="butt" stroke-linejoin="miter"/>
<polygon points="158.30,844.40 158.30,824.20 160.20,824.20 160.20,844.40" fill="#bdbdbd" stroke="#3a3a3a" stroke-width="0.5" stroke-linecap="butt" stroke-linejoin="miter"/>
<path d="M158.30,824.20 A20.20,20.20 0 0 0 138.10,844.40" fill="none" stroke="#222" stroke-width="0.6" stroke-linejoin="miter" stroke-linecap="butt"/>
<polyline points="137.50,844.00 137.50,856.00" fill="none" stroke="#000" stroke-width="1.5" stroke-linecap="butt" stroke-linejoin="miter"/>
<polyline points="158.10,844.00 158.10,856.00" fill="none" stroke="#000" stroke-width="1.5" stroke-linecap="butt" stroke-linejoin="miter"/>
<polyline points="137.50,855.25 158.10,855.25" fill="none" stroke="#000" stroke-width="1.2" stroke-linecap="butt" stroke-linejoin="miter"/>
<polygon points="193.10,885.00 201.60,880.60 210.60,896.25 201.90,900.60" fill="#fff"/>
<polyline points="193.61,884.74 202.42,900.34" fill="none" stroke="#000" stroke-width="0.65" stroke-linecap="butt" stroke-linejoin="miter"/>
<polyline points="201.09,880.86 210.08,896.51" fill="none" stroke="#000" stroke-width="0.65" stroke-linecap="butt" stroke-linejoin="miter"/>
<polyline points="196.25,883.37 205.12,898.99" fill="none" stroke="#222" stroke-width="0.5" stroke-linecap="butt" stroke-linejoin="miter"/>
<polyline points="198.79,882.05 207.73,897.69" fill="none" stroke="#222" stroke-width="0.5" stroke-linecap="butt" stroke-linejoin="miter"/>
<path d="M196.42,883.68L199.60,883.46M197.31,885.25L200.49,885.02M198.20,886.81L201.39,886.59M199.08,888.37L202.28,888.15M199.97,889.93L203.17,889.71M200.86,891.49L204.07,891.28M201.75,893.06L204.96,892.84M202.63,894.62L205.85,894.40M203.52,896.18L206.75,895.97M204.41,897.74L207.64,897.53" fill="none" stroke="#1a1a1a" stroke-width="0.7" stroke-linejoin="miter" stroke-linecap="butt"/>
<polygon points="276.90,885.00 268.50,880.60 260.00,896.25 268.50,900.60" fill="#fff"/>
<polyline points="276.40,884.74 267.99,900.34" fill="none" stroke="#000" stroke-width="0.65" stroke-linecap="butt" stroke-linejoin="miter"/>
<polyline points="269.00,880.86 260.51,896.51" fill="none" stroke="#000" stroke-width="0.65" stroke-linecap="butt" stroke-linejoin="miter"/>
<polyline points="273.79,883.37 265.36,898.99" fill="none" stroke="#222" stroke-width="0.5" stroke-linecap="butt" stroke-linejoin="miter"/>
<polyline points="271.27,882.05 262.81,897.69" fill="none" stroke="#222" stroke-width="0.5" stroke-linecap="butt" stroke-linejoin="miter"/>
<path d="M273.62,883.68L270.51,883.46M272.78,885.25L269.66,885.02M271.94,886.81L268.82,886.59M271.09,888.37L267.97,888.15M270.25,889.93L267.12,889.71M269.40,891.49L266.28,891.28M268.56,893.06L265.43,892.84M267.72,894.62L264.58,894.40M266.87,896.18L263.74,895.97M266.03,897.74L262.89,897.53" fill="none" stroke="#1a1a1a" stroke-width="0.7" stroke-linejoin="miter" stroke-linecap="butt"/>
<rect x="214.40" y="898.50" width="39.35" height="11.30" fill="#fff"/>
<polyline points="214.40,898.80 253.75,898.80" fill="none" stroke="#8c8c8c" stroke-width="0.8" stroke-linecap="butt" stroke-linejoin="miter"/>
<polyline points="214.40,902.45 253.75,902.45" fill="none" stroke="#111" stroke-width="0.7" stroke-linecap="butt" stroke-linejoin="miter"/>
<rect x="214.40" y="904.38" width="39.35" height="1.47" fill="#9c9c9c"/>
<polyline points="214.40,906.75 253.75,906.75" fill="none" stroke="#111" stroke-width="0.7" stroke-linecap="butt" stroke-linejoin="miter"/>
<polyline points="214.40,909.60 253.75,909.60" fill="none" stroke="#000" stroke-width="0.8" stroke-linecap="butt" stroke-linejoin="miter"/>
<polyline points="120.90,855.50 120.90,969.40" fill="none" stroke="#111" stroke-width="0.9" stroke-linecap="butt" stroke-linejoin="miter"/>
<polyline points="122.60,855.50 122.60,969.40" fill="none" stroke="#999" stroke-width="0.5" stroke-linecap="butt" stroke-linejoin="miter"/>
<polyline points="124.40,855.50 124.40,969.40" fill="none" stroke="#111" stroke-width="0.9" stroke-linecap="butt" stroke-linejoin="miter"/>
<polyline points="126.10,855.50 126.10,969.40" fill="none" stroke="#aaa" stroke-width="0.5" stroke-linecap="butt" stroke-linejoin="miter"/>
<polyline points="128.20,855.50 128.20,969.40" fill="none" stroke="#222" stroke-width="0.8" stroke-linecap="butt" stroke-linejoin="miter"/>
<polyline points="120.90,969.40 128.30,969.40" fill="none" stroke="#333" stroke-width="0.6" stroke-linecap="butt" stroke-linejoin="miter"/>
<polyline points="300.00,883.00 300.00,961.20" fill="none" stroke="#222" stroke-width="0.8" stroke-linecap="butt" stroke-linejoin="miter"/>
<polyline points="301.80,883.00 301.80,961.20" fill="none" stroke="#aaa" stroke-width="0.5" stroke-linecap="butt" stroke-linejoin="miter"/>
<polyline points="303.70,883.00 303.70,961.20" fill="none" stroke="#111" stroke-width="0.9" stroke-linecap="butt" stroke-linejoin="miter"/>
<polyline points="305.60,883.00 305.60,961.20" fill="none" stroke="#999" stroke-width="0.5" stroke-linecap="butt" stroke-linejoin="miter"/>
<polyline points="307.60,883.00 307.60,961.20" fill="none" stroke="#111" stroke-width="0.9" stroke-linecap="butt" stroke-linejoin="miter"/>
<rect x="162.50" y="961.20" width="145.10" height="8.20" fill="#fff" stroke="#222" stroke-width="0.6"/>
<polyline points="170.30,963.40 230.30,963.40" fill="none" stroke="#999" stroke-width="0.45" stroke-linecap="butt" stroke-linejoin="miter"/>
<polyline points="238.50,963.40 300.00,963.40" fill="none" stroke="#999" stroke-width="0.45" stroke-linecap="butt" stroke-linejoin="miter"/>
<polyline points="170.30,965.30 230.30,965.30" fill="none" stroke="#444" stroke-width="0.45" stroke-linecap="butt" stroke-linejoin="miter"/>
<polyline points="238.50,965.30 300.00,965.30" fill="none" stroke="#444" stroke-width="0.45" stroke-linecap="butt" stroke-linejoin="miter"/>
<polyline points="170.30,967.20 230.30,967.20" fill="none" stroke="#999" stroke-width="0.45" stroke-linecap="butt" stroke-linejoin="miter"/>
<polyline points="238.50,967.20 300.00,967.20" fill="none" stroke="#999" stroke-width="0.45" stroke-linecap="butt" stroke-linejoin="miter"/>
<polyline points="170.30,961.20 170.30,969.40" fill="none" stroke="#222" stroke-width="0.6" stroke-linecap="butt" stroke-linejoin="miter"/>
<polyline points="230.30,961.20 230.30,969.40" fill="none" stroke="#222" stroke-width="0.6" stroke-linecap="butt" stroke-linejoin="miter"/>
<polyline points="238.50,961.20 238.50,969.40" fill="none" stroke="#222" stroke-width="0.6" stroke-linecap="butt" stroke-linejoin="miter"/>
<polyline points="300.00,961.20 300.00,969.40" fill="none" stroke="#222" stroke-width="0.6" stroke-linecap="butt" stroke-linejoin="miter"/>
<rect x="162.50" y="961.20" width="7.80" height="8.20" fill="#fff" stroke="#222" stroke-width="0.7"/>
<rect x="230.30" y="961.20" width="8.20" height="8.20" fill="#fff" stroke="#222" stroke-width="0.7"/>
<rect x="300.00" y="961.20" width="7.60" height="8.20" fill="#fff" stroke="#222" stroke-width="0.7"/>
<polygon points="128.60,968.40 157.10,951.10 157.90,952.50 129.40,969.80" fill="#fff" stroke="#333" stroke-width="0.5" stroke-linecap="butt" stroke-linejoin="miter"/>
<path d="M130.08,967.62l1.3,0.9M131.86,966.54l1.3,0.9M133.64,965.46l1.3,0.9M135.43,964.38l1.3,0.9M137.21,963.29l1.3,0.9M138.99,962.21l1.3,0.9M140.77,961.13l1.3,0.9M142.55,960.05l1.3,0.9M144.33,958.97l1.3,0.9M146.11,957.89l1.3,0.9M147.89,956.81l1.3,0.9M149.68,955.73l1.3,0.9M151.46,954.64l1.3,0.9M153.24,953.56l1.3,0.9M155.02,952.48l1.3,0.9" fill="none" stroke="#555" stroke-width="0.4" stroke-linejoin="miter" stroke-linecap="butt"/>
<path d="M157.5,951.2 Q161,955 162.3,961.5" fill="none" stroke="#2a2a2a" stroke-width="0.5" stroke-linejoin="miter" stroke-linecap="butt"/>
<text x="234.60" y="930.70" font-family='"Liberation Serif", serif' font-size="8.3" text-anchor="middle" fill="#1d1d1b" stroke="#1d1d1b" stroke-width="0.06" textLength="48.3" lengthAdjust="spacingAndGlyphs">Front Garden</text>
<polygon points="148.50,856.00 156.90,869.40 152.75,869.40 152.75,882.50 144.10,882.50 144.10,869.40 140.00,869.40" fill="#2f3a58"/>
<rect x="375.50" y="413.60" width="55.50" height="9.70" fill="#fff"/>
<rect x="375.50" y="417.09" width="55.50" height="2.72" fill="#ececec"/>
<polyline points="375.50,413.70 431.00,413.70" fill="none" stroke="#222" stroke-width="0.55" stroke-linecap="butt" stroke-linejoin="miter"/>
<polyline points="375.50,423.20 431.00,423.20" fill="none" stroke="#222" stroke-width="0.55" stroke-linecap="butt" stroke-linejoin="miter"/>
<polyline points="375.50,417.09 431.00,417.09" fill="none" stroke="#333" stroke-width="0.55" stroke-linecap="butt" stroke-linejoin="miter"/>
<polyline points="375.50,419.81 431.00,419.81" fill="none" stroke="#333" stroke-width="0.55" stroke-linecap="butt" stroke-linejoin="miter"/>
<polyline points="403.25,416.51 403.25,420.39" fill="none" stroke="#333" stroke-width="0.5" stroke-linecap="butt" stroke-linejoin="miter"/>
<rect x="452.30" y="565.00" width="10.50" height="17.50" fill="#fff"/>
<rect x="456.08" y="565.00" width="2.94" height="17.50" fill="#ececec"/>
<polyline points="452.40,565.00 452.40,582.50" fill="none" stroke="#222" stroke-width="0.55" stroke-linecap="butt" stroke-linejoin="miter"/>
<polyline points="462.70,565.00 462.70,582.50" fill="none" stroke="#222" stroke-width="0.55" stroke-linecap="butt" stroke-linejoin="miter"/>
<polyline points="456.08,565.00 456.08,582.50" fill="none" stroke="#333" stroke-width="0.55" stroke-linecap="butt" stroke-linejoin="miter"/>
<polyline points="459.02,565.00 459.02,582.50" fill="none" stroke="#333" stroke-width="0.55" stroke-linecap="butt" stroke-linejoin="miter"/>
<rect x="476.00" y="606.50" width="27.00" height="9.10" fill="#fff"/>
<rect x="476.00" y="609.78" width="27.00" height="2.55" fill="#ececec"/>
<polyline points="476.00,606.60 503.00,606.60" fill="none" stroke="#222" stroke-width="0.55" stroke-linecap="butt" stroke-linejoin="miter"/>
<polyline points="476.00,615.50 503.00,615.50" fill="none" stroke="#222" stroke-width="0.55" stroke-linecap="butt" stroke-linejoin="miter"/>
<polyline points="476.00,609.78 503.00,609.78" fill="none" stroke="#333" stroke-width="0.55" stroke-linecap="butt" stroke-linejoin="miter"/>
<polyline points="476.00,612.32 503.00,612.32" fill="none" stroke="#333" stroke-width="0.55" stroke-linecap="butt" stroke-linejoin="miter"/>
<polyline points="489.50,609.23 489.50,612.87" fill="none" stroke="#333" stroke-width="0.5" stroke-linecap="butt" stroke-linejoin="miter"/>
<rect x="360.50" y="872.20" width="31.80" height="10.40" fill="#fff"/>
<rect x="360.50" y="875.94" width="31.80" height="2.91" fill="#ececec"/>
<polyline points="360.50,872.30 392.30,872.30" fill="none" stroke="#222" stroke-width="0.55" stroke-linecap="butt" stroke-linejoin="miter"/>
<polyline points="360.50,882.50 392.30,882.50" fill="none" stroke="#222" stroke-width="0.55" stroke-linecap="butt" stroke-linejoin="miter"/>
<polyline points="360.50,875.94 392.30,875.94" fill="none" stroke="#333" stroke-width="0.55" stroke-linecap="butt" stroke-linejoin="miter"/>
<polyline points="360.50,878.86 392.30,878.86" fill="none" stroke="#333" stroke-width="0.55" stroke-linecap="butt" stroke-linejoin="miter"/>
<polyline points="376.40,875.32 376.40,879.48" fill="none" stroke="#333" stroke-width="0.5" stroke-linecap="butt" stroke-linejoin="miter"/>
<polygon points="409.90,885.60 417.75,881.00 427.00,895.80 419.10,900.80" fill="#fff"/>
<polyline points="410.37,885.32 419.57,900.50" fill="none" stroke="#000" stroke-width="0.65" stroke-linecap="butt" stroke-linejoin="miter"/>
<polyline points="417.28,881.28 426.53,896.10" fill="none" stroke="#000" stroke-width="0.65" stroke-linecap="butt" stroke-linejoin="miter"/>
<polyline points="412.80,883.90 422.02,898.95" fill="none" stroke="#222" stroke-width="0.5" stroke-linecap="butt" stroke-linejoin="miter"/>
<polyline points="415.16,882.52 424.39,897.45" fill="none" stroke="#222" stroke-width="0.5" stroke-linecap="butt" stroke-linejoin="miter"/>
<path d="M412.99,884.20L415.99,883.86M413.91,885.70L416.91,885.36M414.83,887.21L417.84,886.85M415.75,888.71L418.76,888.34M416.68,890.22L419.68,889.83M417.60,891.73L420.61,891.33M418.52,893.23L421.53,892.82M419.44,894.74L422.45,894.31M420.36,896.24L423.38,895.81M421.29,897.75L424.30,897.30" fill="none" stroke="#1a1a1a" stroke-width="0.7" stroke-linejoin="miter" stroke-linecap="butt"/>
<polygon points="493.70,884.20 485.30,878.60 476.30,894.90 484.20,898.80" fill="#fff"/>
<polyline points="493.20,883.86 483.73,898.57" fill="none" stroke="#000" stroke-width="0.65" stroke-linecap="butt" stroke-linejoin="miter"/>
<polyline points="485.80,878.94 476.77,895.13" fill="none" stroke="#000" stroke-width="0.65" stroke-linecap="butt" stroke-linejoin="miter"/>
<polyline points="490.59,882.13 481.28,897.36" fill="none" stroke="#222" stroke-width="0.5" stroke-linecap="butt" stroke-linejoin="miter"/>
<polyline points="488.07,880.45 478.91,896.19" fill="none" stroke="#222" stroke-width="0.5" stroke-linecap="butt" stroke-linejoin="miter"/>
<path d="M490.41,882.43L487.25,881.86M489.47,883.96L486.33,883.44M488.54,885.48L485.41,885.01M487.61,887.00L484.50,886.59M486.68,888.52L483.58,888.16M485.75,890.05L482.66,889.73M484.82,891.57L481.75,891.31M483.89,893.09L480.83,892.88M482.95,894.62L479.92,894.46M482.02,896.14L479.00,896.03" fill="none" stroke="#1a1a1a" stroke-width="0.7" stroke-linejoin="miter" stroke-linecap="butt"/>
<rect x="432.60" y="898.80" width="37.80" height="11.20" fill="#fff"/>
<polyline points="432.60,899.10 470.40,899.10" fill="none" stroke="#8c8c8c" stroke-width="0.8" stroke-linecap="butt" stroke-linejoin="miter"/>
<polyline points="432.60,902.72 470.40,902.72" fill="none" stroke="#111" stroke-width="0.7" stroke-linecap="butt" stroke-linejoin="miter"/>
<rect x="432.60" y="904.62" width="37.80" height="1.46" fill="#9c9c9c"/>
<polyline points="432.60,906.98 470.40,906.98" fill="none" stroke="#111" stroke-width="0.7" stroke-linecap="butt" stroke-linejoin="miter"/>
<polyline points="432.60,909.80 470.40,909.80" fill="none" stroke="#000" stroke-width="0.8" stroke-linecap="butt" stroke-linejoin="miter"/>
<polygon points="354.50,423.60 357.60,423.60 357.60,429.90 354.50,429.90" fill="#fff" stroke="#000" stroke-width="0.75" stroke-linejoin="miter"/>
<polygon points="356.78,430.33 369.18,442.47 370.02,441.62 357.62,429.47" fill="#e8e8e8" stroke="#000" stroke-width="0.55" stroke-linecap="butt" stroke-linejoin="miter"/>
<polygon points="357.62,467.13 370.02,454.98 369.18,454.13 356.78,466.27" fill="#e8e8e8" stroke="#000" stroke-width="0.55" stroke-linecap="butt" stroke-linejoin="miter"/>
<path d="M369.60,442.04 Q366.50,447.56 358.69,448.30 Q366.50,449.04 369.60,454.56" fill="none" stroke="#222" stroke-width="0.5" stroke-linejoin="miter" stroke-linecap="butt"/>
<polygon points="354.50,466.70 357.60,466.70 357.60,470.60 354.50,470.60" fill="#fff" stroke="#000" stroke-width="0.75" stroke-linejoin="miter"/>
<text x="403.00" y="467.60" font-family='"Liberation Serif", serif' font-size="8.5" text-anchor="middle" fill="#1d1d1b" stroke="#1d1d1b" stroke-width="0.06" textLength="39.2" lengthAdjust="spacingAndGlyphs">Bedroom 3</text>
<text x="403.30" y="476.10" font-family='"Liberation Serif", serif' font-size="8.5" text-anchor="middle" fill="#1d1d1b" stroke="#1d1d1b" stroke-width="0.06" textLength="57.1" lengthAdjust="spacingAndGlyphs">15’7 (4.75) max</text>
<text x="402.40" y="484.60" font-family='"Liberation Serif", serif' font-size="8.5" text-anchor="middle" fill="#1d1d1b" stroke="#1d1d1b" stroke-width="0.06" textLength="46" lengthAdjust="spacingAndGlyphs">x 11’0 (3.35)</text>
<polygon points="399.00,514.30 452.30,514.30 452.30,519.60 404.40,519.60 404.40,541.30 417.30,541.30 417.30,547.00 404.40,547.00 404.40,581.30 399.00,581.30" fill="#fff" stroke="#000" stroke-width="1.1" stroke-linejoin="miter"/>
<rect x="408.50" y="522.50" width="42.50" height="16.30" fill="none" stroke="#8fa7a2" stroke-width="0.5" rx="1.2"/>
<rect x="410.30" y="524.00" width="39.50" height="13.30" fill="none" stroke="#8fa7a2" stroke-width="0.4" rx="3"/>
<circle cx="413" cy="530.6" r="0.7" fill="none" stroke="#8fa7a2" stroke-width="0.4"/>
<polyline points="411.60,528.60 411.60,532.60" fill="none" stroke="#8fa7a2" stroke-width="0.4" stroke-linecap="butt" stroke-linejoin="miter"/>
<rect x="405.50" y="556.30" width="2.50" height="13.70" fill="none" stroke="#8fa7a2" stroke-width="0.6" rx="0.8"/>
<path d="M408,558 C415,556.6 427.5,557.6 427.5,563.2 C427.5,568.8 415,569.8 408,568.4 Z" fill="none" stroke="#8fa7a2" stroke-width="0.65" stroke-linejoin="miter" stroke-linecap="butt"/>
<path d="M409.3,559.2 C415,558 426,558.8 426,563.2 C426,567.6 415,568.4 409.3,567.2 Z" fill="none" stroke="#8fa7a2" stroke-width="0.45" stroke-linejoin="miter" stroke-linecap="butt"/>
<rect x="440.30" y="578.30" width="11.50" height="17.30" fill="none" stroke="#8fa7a2" stroke-width="0.6"/>
<polyline points="444.00,586.80 451.00,586.80" fill="none" stroke="#8fa7a2" stroke-width="0.6" stroke-linecap="butt" stroke-linejoin="miter"/>
<circle cx="446.5" cy="586.8" r="0.6" fill="#8fa7a2"/>
<polygon points="347.30,573.40 355.75,573.40 355.75,578.80 347.30,578.80" fill="#fff" stroke="#000" stroke-width="1.1" stroke-linejoin="miter"/>
<polygon points="377.40,573.40 399.50,573.40 399.50,578.80 377.40,578.80" fill="#fff" stroke="#000" stroke-width="1.1" stroke-linejoin="miter"/>
<rect x="398.2" y="574" width="2.2" height="4.2" fill="#fff"/>
<polygon points="377.90,573.40 377.90,551.40 376.30,551.40 376.30,573.40" fill="#bdbdbd" stroke="#3a3a3a" stroke-width="0.5" stroke-linecap="butt" stroke-linejoin="miter"/>
<path d="M377.90,551.40 A22.20,22.00 0 0 0 355.70,573.40" fill="none" stroke="#222" stroke-width="0.6" stroke-linejoin="miter" stroke-linecap="butt"/>
<polygon points="404.80,603.00 426.60,603.00 426.60,604.50 404.80,604.50" fill="#bdbdbd" stroke="#3a3a3a" stroke-width="0.5" stroke-linecap="butt" stroke-linejoin="miter"/>
<path d="M426.60,603.00 A21.80,21.80 0 0 0 404.80,581.20" fill="none" stroke="#222" stroke-width="0.6" stroke-linejoin="miter" stroke-linecap="butt"/>
<polygon points="399.00,603.40 404.60,603.40 404.60,606.80 452.30,606.80 452.30,615.50 404.60,615.50 404.60,713.80 399.00,713.80" fill="#fff" stroke="#000" stroke-width="1.1" stroke-linejoin="miter"/>
<polyline points="398.50,581.30 404.80,581.30" fill="none" stroke="#000" stroke-width="1.1" stroke-linecap="butt" stroke-linejoin="miter"/>
<polyline points="347.30,624.00 372.30,624.00" fill="none" stroke="#2a2a2a" stroke-width="0.75" stroke-linecap="butt" stroke-linejoin="miter"/>
<polyline points="347.30,631.90 372.30,631.90" fill="none" stroke="#2a2a2a" stroke-width="0.75" stroke-linecap="butt" stroke-linejoin="miter"/>
<polyline points="347.30,639.80 372.30,639.80" fill="none" stroke="#2a2a2a" stroke-width="0.75" stroke-linecap="butt" stroke-linejoin="miter"/>
<polyline points="347.30,648.10 372.30,648.10" fill="none" stroke="#2a2a2a" stroke-width="0.75" stroke-linecap="butt" stroke-linejoin="miter"/>
<polyline points="347.30,655.60 372.30,655.60" fill="none" stroke="#2a2a2a" stroke-width="0.75" stroke-linecap="butt" stroke-linejoin="miter"/>
<polyline points="347.30,662.80 372.30,662.80" fill="none" stroke="#2a2a2a" stroke-width="0.75" stroke-linecap="butt" stroke-linejoin="miter"/>
<polyline points="347.30,671.90 372.30,671.90" fill="none" stroke="#2a2a2a" stroke-width="0.75" stroke-linecap="butt" stroke-linejoin="miter"/>
<polyline points="347.30,680.60 372.30,680.60" fill="none" stroke="#2a2a2a" stroke-width="0.75" stroke-linecap="butt" stroke-linejoin="miter"/>
<polyline points="347.30,689.40 372.30,689.40" fill="none" stroke="#2a2a2a" stroke-width="0.75" stroke-linecap="butt" stroke-linejoin="miter"/>
<polyline points="347.30,698.10 372.30,698.10" fill="none" stroke="#2a2a2a" stroke-width="0.75" stroke-linecap="butt" stroke-linejoin="miter"/>
<polyline points="347.30,705.60 372.30,705.60" fill="none" stroke="#2a2a2a" stroke-width="0.75" stroke-linecap="butt" stroke-linejoin="miter"/>
<polyline points="347.30,713.10 372.30,713.10" fill="none" stroke="#2a2a2a" stroke-width="0.75" stroke-linecap="butt" stroke-linejoin="miter"/>
<polyline points="375.50,624.00 399.00,624.00" fill="none" stroke="#444" stroke-width="0.8" stroke-linecap="butt" stroke-linejoin="miter"/>
<polyline points="375.50,631.90 399.00,631.90" fill="none" stroke="#444" stroke-width="0.8" stroke-linecap="butt" stroke-linejoin="miter"/>
<polyline points="375.50,639.80 399.00,639.80" fill="none" stroke="#444" stroke-width="0.8" stroke-linecap="butt" stroke-linejoin="miter"/>
<polyline points="375.50,648.10 399.00,648.10" fill="none" stroke="#444" stroke-width="0.8" stroke-linecap="butt" stroke-linejoin="miter"/>
<polygon points="348.00,650.60 372.20,678.40 372.20,689.00 348.00,663.40" fill="#fff"/>
<polyline points="347.50,650.00 355.14,658.65 355.62,663.43 360.51,659.91 360.96,665.25 372.30,678.10" fill="none" stroke="#111" stroke-width="0.85" stroke-linecap="butt" stroke-linejoin="miter"/>
<polyline points="347.50,663.70 354.88,671.29 355.59,676.04 360.31,672.28 361.02,677.60 372.30,689.20" fill="none" stroke="#111" stroke-width="0.85" stroke-linecap="butt" stroke-linejoin="miter"/>
<rect x="372.30" y="621.50" width="3.40" height="94.10" fill="#fff" stroke="#333" stroke-width="0.7" rx="0.7"/>
<text x="360.40" y="621.90" font-family='"Liberation Serif", serif' font-size="7.3" text-anchor="middle" fill="#4f5b78" stroke="#4f5b78" stroke-width="0.04" textLength="10" lengthAdjust="spacingAndGlyphs">DN</text>
<polyline points="360.60,625.00 360.60,646.18" fill="none" stroke="#33405e" stroke-width="1.2" stroke-linecap="butt" stroke-linejoin="miter"/>
<polygon points="360.60,648.10 357.80,644.90 360.60,645.80 363.40,644.90" fill="#33405e"/>
<polyline points="360.10,712.50 360.10,691.52" fill="none" stroke="#33405e" stroke-width="1.2" stroke-linecap="butt" stroke-linejoin="miter"/>
<polygon points="360.10,689.60 357.30,692.80 360.10,691.90 362.90,692.80" fill="#33405e"/>
<text x="360.70" y="718.80" font-family='"Liberation Serif", serif' font-size="7.3" text-anchor="middle" fill="#4f5b78" stroke="#4f5b78" stroke-width="0.04" textLength="9.4" lengthAdjust="spacingAndGlyphs">UP</text>
<polyline points="433.60,615.50 433.60,636.50" fill="none" stroke="#000" stroke-width="0.8" stroke-linecap="butt" stroke-linejoin="miter"/>
<polyline points="435.40,615.50 435.40,636.80 433.20,637.00" fill="none" stroke="#444" stroke-width="0.6" stroke-linecap="butt" stroke-linejoin="miter"/>
<polygon points="404.60,639.80 422.30,639.80 422.30,638.90 425.80,638.90 425.80,643.30 422.30,643.30 422.30,642.40 404.60,642.40" fill="#fff" stroke="#000" stroke-width="0.9" stroke-linejoin="miter"/>
<polygon points="425.34,641.08 432.74,645.08 433.26,644.12 425.86,640.12" fill="#e8e8e8" stroke="#000" stroke-width="0.55" stroke-linecap="butt" stroke-linejoin="miter"/>
<polygon points="426.05,656.31 433.45,645.71 432.55,645.09 425.15,655.69" fill="#e8e8e8" stroke="#000" stroke-width="0.55" stroke-linecap="butt" stroke-linejoin="miter"/>
<polygon points="404.60,655.60 422.30,655.60 422.30,654.70 425.80,654.70 425.80,659.10 422.30,659.10 422.30,658.20 404.60,658.20" fill="#fff" stroke="#000" stroke-width="0.9" stroke-linejoin="miter"/>
<polygon points="425.19,659.44 434.79,668.54 435.61,667.67 426.01,658.56" fill="#e8e8e8" stroke="#000" stroke-width="0.55" stroke-linecap="butt" stroke-linejoin="miter"/>
<polygon points="426.01,687.04 435.61,677.93 434.79,677.06 425.19,686.16" fill="#e8e8e8" stroke="#000" stroke-width="0.55" stroke-linecap="butt" stroke-linejoin="miter"/>
<path d="M435.20,668.11 Q432.80,672.25 426.75,672.80 Q432.80,673.35 435.20,677.49" fill="none" stroke="#222" stroke-width="0.5" stroke-linejoin="miter" stroke-linecap="butt"/>
<polygon points="404.60,687.30 422.30,687.30 422.30,686.40 425.80,686.40 425.80,690.70 422.30,690.70 422.30,689.80 404.60,689.80" fill="#fff" stroke="#000" stroke-width="0.9" stroke-linejoin="miter"/>
<polygon points="425.34,690.88 432.74,694.88 433.26,693.92 425.86,689.92" fill="#e8e8e8" stroke="#000" stroke-width="0.55" stroke-linecap="butt" stroke-linejoin="miter"/>
<polygon points="426.01,703.76 433.41,695.36 432.59,694.64 425.19,703.04" fill="#e8e8e8" stroke="#000" stroke-width="0.55" stroke-linecap="butt" stroke-linejoin="miter"/>
<polygon points="404.60,703.80 422.30,703.80 422.30,702.90 425.80,702.90 425.80,707.20 422.30,707.20 422.30,706.30 404.60,706.30" fill="#fff" stroke="#000" stroke-width="0.9" stroke-linejoin="miter"/>
<polygon points="404.80,736.60 427.10,736.60 427.10,738.10 404.80,738.10" fill="#bdbdbd" stroke="#3a3a3a" stroke-width="0.5" stroke-linecap="butt" stroke-linejoin="miter"/>
<path d="M427.10,736.60 A22.30,22.30 0 0 0 404.80,714.30" fill="none" stroke="#222" stroke-width="0.6" stroke-linejoin="miter" stroke-linecap="butt"/>
<text x="466.75" y="671.00" font-family='"Liberation Serif", serif' font-size="8.5" text-anchor="middle" fill="#1d1d1b" stroke="#1d1d1b" stroke-width="0.06" textLength="39" lengthAdjust="spacingAndGlyphs">Bedroom 2</text>
<text x="467.00" y="679.55" font-family='"Liberation Serif", serif' font-size="8.5" text-anchor="middle" fill="#1d1d1b" stroke="#1d1d1b" stroke-width="0.06" textLength="38.1" lengthAdjust="spacingAndGlyphs">13’1 (3.99)</text>
<text x="466.60" y="688.10" font-family='"Liberation Serif", serif' font-size="8.5" text-anchor="middle" fill="#1d1d1b" stroke="#1d1d1b" stroke-width="0.06" textLength="45" lengthAdjust="spacingAndGlyphs">x 11’5 (3.48)</text>
<polygon points="347.30,740.50 374.80,740.50 374.80,746.30 347.30,746.30" fill="#fff" stroke="#000" stroke-width="1.1" stroke-linejoin="miter"/>
<polygon points="398.50,736.50 404.80,736.50 404.80,740.50 514.00,740.50 514.00,746.30 397.30,746.30 397.30,740.50 398.50,740.50" fill="#fff" stroke="#000" stroke-width="1.1" stroke-linejoin="miter"/>
<polygon points="397.40,746.30 397.40,769.10 398.90,769.10 398.90,746.30" fill="#bdbdbd" stroke="#3a3a3a" stroke-width="0.5" stroke-linecap="butt" stroke-linejoin="miter"/>
<path d="M397.40,769.10 A22.80,22.80 0 0 1 374.60,746.30" fill="none" stroke="#222" stroke-width="0.6" stroke-linejoin="miter" stroke-linecap="butt"/>
<polygon points="492.50,698.60 504.00,698.60 504.00,701.50 495.30,701.50 495.30,703.00 492.50,703.00" fill="#fff" stroke="#000" stroke-width="0.75" stroke-linejoin="miter"/>
<polygon points="494.13,702.53 479.13,714.51 479.87,715.45 494.87,703.47" fill="#e8e8e8" stroke="#000" stroke-width="0.55" stroke-linecap="butt" stroke-linejoin="miter"/>
<polygon points="494.87,738.83 479.87,726.85 479.13,727.79 494.13,739.77" fill="#e8e8e8" stroke="#000" stroke-width="0.55" stroke-linecap="butt" stroke-linejoin="miter"/>
<path d="M479.50,714.98 Q483.25,720.42 492.70,721.15 Q483.25,721.88 479.50,727.32" fill="none" stroke="#222" stroke-width="0.5" stroke-linejoin="miter" stroke-linecap="butt"/>
<polygon points="494.12,747.04 479.12,759.41 479.88,760.34 494.88,747.96" fill="#e8e8e8" stroke="#000" stroke-width="0.55" stroke-linecap="butt" stroke-linejoin="miter"/>
<polygon points="494.88,784.54 479.88,772.16 479.12,773.09 494.12,785.46" fill="#e8e8e8" stroke="#000" stroke-width="0.55" stroke-linecap="butt" stroke-linejoin="miter"/>
<path d="M479.50,759.88 Q483.25,765.50 492.70,766.25 Q483.25,767.00 479.50,772.62" fill="none" stroke="#222" stroke-width="0.5" stroke-linejoin="miter" stroke-linecap="butt"/>
<polygon points="492.50,783.80 495.30,783.80 495.30,785.60 504.00,785.60 504.00,788.40 492.50,788.40" fill="#fff" stroke="#000" stroke-width="0.75" stroke-linejoin="miter"/>
<polygon points="492.50,829.30 504.00,829.30 504.00,832.30 495.30,832.30 495.30,833.60 492.50,833.60" fill="#fff" stroke="#000" stroke-width="0.75" stroke-linejoin="miter"/>
<polygon points="494.12,833.13 479.12,845.34 479.88,846.28 494.88,834.07" fill="#e8e8e8" stroke="#000" stroke-width="0.55" stroke-linecap="butt" stroke-linejoin="miter"/>
<polygon points="494.88,870.13 479.88,857.92 479.12,858.86 494.12,871.07" fill="#e8e8e8" stroke="#000" stroke-width="0.55" stroke-linecap="butt" stroke-linejoin="miter"/>
<path d="M479.50,845.81 Q483.25,851.36 492.70,852.10 Q483.25,852.84 479.50,858.39" fill="none" stroke="#222" stroke-width="0.5" stroke-linejoin="miter" stroke-linecap="butt"/>
<text x="426.00" y="804.60" font-family='"Liberation Serif", serif' font-size="8.5" text-anchor="middle" fill="#1d1d1b" stroke="#1d1d1b" stroke-width="0.06" textLength="39.5" lengthAdjust="spacingAndGlyphs">Bedroom 1</text>
<text x="426.00" y="813.00" font-family='"Liberation Serif", serif' font-size="8.5" text-anchor="middle" fill="#1d1d1b" stroke="#1d1d1b" stroke-width="0.06" textLength="57.5" lengthAdjust="spacingAndGlyphs">17’2 (5.23) max</text>
<text x="426.00" y="821.40" font-family='"Liberation Serif", serif' font-size="8.5" text-anchor="middle" fill="#1d1d1b" stroke="#1d1d1b" stroke-width="0.06" textLength="77" lengthAdjust="spacingAndGlyphs">x 13’2 (4.01) into bay</text>
<rect x="613.75" y="413.60" width="55.00" height="9.70" fill="#fff"/>
<rect x="613.75" y="417.09" width="55.00" height="2.72" fill="#ececec"/>
<polyline points="613.75,413.70 668.75,413.70" fill="none" stroke="#222" stroke-width="0.55" stroke-linecap="butt" stroke-linejoin="miter"/>
<polyline points="613.75,423.20 668.75,423.20" fill="none" stroke="#222" stroke-width="0.55" stroke-linecap="butt" stroke-linejoin="miter"/>
<polyline points="613.75,417.09 668.75,417.09" fill="none" stroke="#333" stroke-width="0.55" stroke-linecap="butt" stroke-linejoin="miter"/>
<polyline points="613.75,419.81 668.75,419.81" fill="none" stroke="#333" stroke-width="0.55" stroke-linecap="butt" stroke-linejoin="miter"/>
<polyline points="641.25,416.51 641.25,420.39" fill="none" stroke="#333" stroke-width="0.5" stroke-linecap="butt" stroke-linejoin="miter"/>
<rect x="687.50" y="563.75" width="10.70" height="26.75" fill="#fff"/>
<rect x="691.35" y="563.75" width="3.00" height="26.75" fill="#ececec"/>
<polyline points="687.60,563.75 687.60,590.50" fill="none" stroke="#222" stroke-width="0.55" stroke-linecap="butt" stroke-linejoin="miter"/>
<polyline points="698.10,563.75 698.10,590.50" fill="none" stroke="#222" stroke-width="0.55" stroke-linecap="butt" stroke-linejoin="miter"/>
<polyline points="691.35,563.75 691.35,590.50" fill="none" stroke="#333" stroke-width="0.55" stroke-linecap="butt" stroke-linejoin="miter"/>
<polyline points="694.35,563.75 694.35,590.50" fill="none" stroke="#333" stroke-width="0.55" stroke-linecap="butt" stroke-linejoin="miter"/>
<polygon points="599.40,423.60 602.80,423.60 602.80,427.50 599.40,427.50" fill="#fff" stroke="#000" stroke-width="0.75" stroke-linejoin="miter"/>
<polygon points="601.99,427.94 611.29,436.62 612.11,435.74 602.81,427.06" fill="#e8e8e8" stroke="#000" stroke-width="0.55" stroke-linecap="butt" stroke-linejoin="miter"/>
<polygon points="602.81,454.24 612.11,445.56 611.29,444.68 601.99,453.36" fill="#e8e8e8" stroke="#000" stroke-width="0.55" stroke-linecap="butt" stroke-linejoin="miter"/>
<path d="M611.70,436.18 Q609.38,440.12 603.52,440.65 Q609.38,441.18 611.70,445.12" fill="none" stroke="#222" stroke-width="0.5" stroke-linejoin="miter" stroke-linecap="butt"/>
<polyline points="592.00,459.30 602.60,459.30 602.60,454.00" fill="none" stroke="#222" stroke-width="0.6" stroke-linecap="butt" stroke-linejoin="miter"/>
<polyline points="592.00,457.30 600.60,457.30 600.60,454.00" fill="none" stroke="#222" stroke-width="0.5" stroke-linecap="butt" stroke-linejoin="miter"/>
<text x="635.20" y="467.60" font-family='"Liberation Serif", serif' font-size="8.5" text-anchor="middle" fill="#1d1d1b" stroke="#1d1d1b" stroke-width="0.06" textLength="39" lengthAdjust="spacingAndGlyphs">Bedroom 5</text>
<text x="635.20" y="476.10" font-family='"Liberation Serif", serif' font-size="8.5" text-anchor="middle" fill="#1d1d1b" stroke="#1d1d1b" stroke-width="0.06" textLength="38.3" lengthAdjust="spacingAndGlyphs">12’6 (3.81)</text>
<text x="634.70" y="484.60" font-family='"Liberation Serif", serif' font-size="8.5" text-anchor="middle" fill="#1d1d1b" stroke="#1d1d1b" stroke-width="0.06" textLength="44.8" lengthAdjust="spacingAndGlyphs">x 11’1 (3.38)</text>
<polygon points="609.50,542.50 687.50,542.50 687.50,547.50 615.00,547.50 615.00,578.80 609.50,578.80 609.50,561.00 607.50,561.00 607.50,556.30 609.50,556.30" fill="#fff" stroke="#000" stroke-width="1.1" stroke-linejoin="miter"/>
<polygon points="610.00,600.00 614.40,600.00 614.40,605.90 635.60,605.90 635.60,612.10 610.00,612.10" fill="#fff" stroke="#000" stroke-width="1.1" stroke-linejoin="miter"/>
<ellipse cx="643" cy="560.8" rx="24.6" ry="12.2" fill="none" stroke="#8fa7a2" stroke-width="0.55"/>
<ellipse cx="643" cy="560.8" rx="22.6" ry="10.4" fill="none" stroke="#8fa7a2" stroke-width="0.45"/>
<circle cx="623.5" cy="560.8" r="0.7" fill="none" stroke="#8fa7a2" stroke-width="0.4"/>
<rect x="670.00" y="548.50" width="16.50" height="2.50" fill="none" stroke="#8fa7a2" stroke-width="0.6" rx="0.8"/>
<path d="M672.3,551 C670.6,559 672,571 678.3,571 C684.6,571 686,559 684.3,551 Z" fill="none" stroke="#8fa7a2" stroke-width="0.65" stroke-linejoin="miter" stroke-linecap="butt"/>
<path d="M673.6,552.6 C672.2,559 673.3,569.4 678.3,569.4 C683.3,569.4 684.4,559 683,552.6 Z" fill="none" stroke="#8fa7a2" stroke-width="0.45" stroke-linejoin="miter" stroke-linecap="butt"/>
<rect x="645.50" y="593.30" width="17.00" height="12.30" fill="none" stroke="#8fa7a2" stroke-width="0.6"/>
<polyline points="654.00,598.00 654.00,604.50" fill="none" stroke="#8fa7a2" stroke-width="0.6" stroke-linecap="butt" stroke-linejoin="miter"/>
<circle cx="654" cy="599.5" r="0.6" fill="#8fa7a2"/>
<polygon points="582.50,555.90 586.60,555.90 586.60,560.90 582.50,560.90" fill="#fff" stroke="#000" stroke-width="0.9" stroke-linejoin="miter"/>
<polygon points="585.80,555.90 585.80,534.40 587.80,534.40 587.80,555.90" fill="#bdbdbd" stroke="#3a3a3a" stroke-width="0.5" stroke-linecap="butt" stroke-linejoin="miter"/>
<path d="M585.80,534.40 A21.90,21.50 0 0 1 607.70,555.90" fill="none" stroke="#222" stroke-width="0.6" stroke-linejoin="miter" stroke-linecap="butt"/>
<polygon points="614.40,600.20 636.30,600.20 636.30,601.70 614.40,601.70" fill="#bdbdbd" stroke="#3a3a3a" stroke-width="0.5" stroke-linecap="butt" stroke-linejoin="miter"/>
<path d="M636.30,600.20 A21.90,21.20 0 0 0 614.40,579.00" fill="none" stroke="#222" stroke-width="0.6" stroke-linejoin="miter" stroke-linecap="butt"/>
<polyline points="582.60,628.50 607.30,628.50" fill="none" stroke="#2a2a2a" stroke-width="0.75" stroke-linecap="butt" stroke-linejoin="miter"/>
<polyline points="610.60,628.50 635.60,628.50" fill="none" stroke="#444" stroke-width="0.8" stroke-linecap="butt" stroke-linejoin="miter"/>
<polyline points="582.60,636.30 607.30,636.30" fill="none" stroke="#2a2a2a" stroke-width="0.75" stroke-linecap="butt" stroke-linejoin="miter"/>
<polyline points="610.60,636.30 635.60,636.30" fill="none" stroke="#444" stroke-width="0.8" stroke-linecap="butt" stroke-linejoin="miter"/>
<polyline points="582.60,644.40 607.30,644.40" fill="none" stroke="#2a2a2a" stroke-width="0.75" stroke-linecap="butt" stroke-linejoin="miter"/>
<polyline points="610.60,644.40 635.60,644.40" fill="none" stroke="#444" stroke-width="0.8" stroke-linecap="butt" stroke-linejoin="miter"/>
<polyline points="582.60,653.10 607.30,653.10" fill="none" stroke="#2a2a2a" stroke-width="0.75" stroke-linecap="butt" stroke-linejoin="miter"/>
<polyline points="610.60,653.10 635.60,653.10" fill="none" stroke="#444" stroke-width="0.8" stroke-linecap="butt" stroke-linejoin="miter"/>
<path d="M582.6,659.4 H607.3 V626.3 Q607.3,625.5 608.1,625.5 H609.8 Q610.6,625.5 610.6,626.3 V662.5 H582.6" fill="#fff" stroke="#333" stroke-width="0.7" stroke-linejoin="miter" stroke-linecap="butt"/>
<text x="595.40" y="626.90" font-family='"Liberation Serif", serif' font-size="7.3" text-anchor="middle" fill="#4f5b78" stroke="#4f5b78" stroke-width="0.04" textLength="9.8" lengthAdjust="spacingAndGlyphs">DN</text>
<polyline points="595.60,629.40 595.60,650.68" fill="none" stroke="#33405e" stroke-width="1.2" stroke-linecap="butt" stroke-linejoin="miter"/>
<polygon points="595.60,652.60 592.80,649.40 595.60,650.30 598.40,649.40" fill="#33405e"/>
<rect x="641.50" y="633.10" width="105.80" height="28.30" fill="none" stroke="#bcc3c3" stroke-width="0.65" stroke-dasharray="2.6 1.8"/>
<text x="692.60" y="648.80" font-family='"Liberation Serif", serif' font-size="8.5" text-anchor="middle" fill="#1d1d1b" stroke="#1d1d1b" stroke-width="0.06" textLength="50" lengthAdjust="spacingAndGlyphs">Eaves Storage</text>
<polygon points="640.60,663.60 748.75,663.60 748.75,669.40 640.60,669.40" fill="#fff" stroke="#000" stroke-width="1.1" stroke-linejoin="miter"/>
<polygon points="635.22,632.70 625.22,642.10 625.98,642.90 635.98,633.50" fill="#e8e8e8" stroke="#000" stroke-width="0.55" stroke-linecap="butt" stroke-linejoin="miter"/>
<polygon points="635.96,660.19 625.96,651.49 625.24,652.31 635.24,661.01" fill="#e8e8e8" stroke="#000" stroke-width="0.55" stroke-linecap="butt" stroke-linejoin="miter"/>
<path d="M625.6,642.5 Q632,643.2 635,646.9 Q632,651 625.6,651.9" fill="none" stroke="#2a2a2a" stroke-width="0.55" stroke-linejoin="miter" stroke-linecap="butt"/>
<polygon points="635.60,631.60 640.60,631.60 640.60,634.40 637.00,634.40 635.60,633.20" fill="#fff" stroke="#000" stroke-width="0.75" stroke-linejoin="miter"/>
<polygon points="635.60,660.60 640.60,660.60 640.60,663.60 635.60,663.60" fill="#fff" stroke="#000" stroke-width="0.9" stroke-linejoin="miter"/>
<polyline points="635.60,660.60 635.60,695.60" fill="none" stroke="#000" stroke-width="1.1" stroke-linecap="butt" stroke-linejoin="miter"/>
<polyline points="640.60,663.60 640.60,725.40" fill="none" stroke="#000" stroke-width="1.1" stroke-linecap="butt" stroke-linejoin="miter"/>
<polygon points="582.60,695.60 593.75,695.60 593.75,700.60 582.60,700.60" fill="#fff" stroke="#000" stroke-width="1.1" stroke-linejoin="miter"/>
<polygon points="614.40,695.60 635.60,695.60 635.60,700.60 614.40,700.60" fill="#fff" stroke="#000" stroke-width="1.1" stroke-linejoin="miter"/>
<rect x="635.2" y="696.1" width="5" height="4.1" fill="#fff"/>
<polyline points="614.40,700.60 640.60,700.60" fill="none" stroke="#000" stroke-width="1.1" stroke-linecap="butt" stroke-linejoin="miter"/>
<polygon points="593.30,700.60 593.30,721.90 595.50,721.90 595.50,700.60" fill="#bdbdbd" stroke="#3a3a3a" stroke-width="0.5" stroke-linecap="butt" stroke-linejoin="miter"/>
<path d="M593.30,721.90 A21.30,21.30 0 0 0 614.60,700.60" fill="none" stroke="#222" stroke-width="0.6" stroke-linejoin="miter" stroke-linecap="butt"/>
<polyline points="632.50,700.60 632.50,725.40" fill="none" stroke="#000" stroke-width="1.1" stroke-linecap="butt" stroke-linejoin="miter"/>
<polyline points="582.60,725.40 641.05,725.40" fill="none" stroke="#000" stroke-width="1.1" stroke-linecap="butt" stroke-linejoin="miter"/>
<rect x="604.40" y="666.30" width="26.50" height="26.20" fill="none" stroke="#b3c4be" stroke-width="0.65" stroke-dasharray="3.1 2"/>
<polyline points="604.40,666.30 630.90,692.50" fill="none" stroke="#b3c4be" stroke-width="0.6" stroke-linecap="butt" stroke-linejoin="miter" stroke-dasharray="3.3 2.3"/>
<polyline points="630.90,666.30 604.40,692.50" fill="none" stroke="#b3c4be" stroke-width="0.6" stroke-linecap="butt" stroke-linejoin="miter" stroke-dasharray="3.3 2.3"/>
<rect x="684.50" y="696.30" width="25.00" height="24.20" fill="none" stroke="#b3c4be" stroke-width="0.65" stroke-dasharray="3.1 2"/>
<polyline points="684.50,696.30 709.50,720.50" fill="none" stroke="#b3c4be" stroke-width="0.6" stroke-linecap="butt" stroke-linejoin="miter" stroke-dasharray="3.3 2.3"/>
<polyline points="709.50,696.30 684.50,720.50" fill="none" stroke="#b3c4be" stroke-width="0.6" stroke-linecap="butt" stroke-linejoin="miter" stroke-dasharray="3.3 2.3"/>
<rect x="623.30" y="754.30" width="24.20" height="24.50" fill="none" stroke="#b3c4be" stroke-width="0.65" stroke-dasharray="3.1 2"/>
<polyline points="623.30,754.30 647.50,778.80" fill="none" stroke="#b3c4be" stroke-width="0.6" stroke-linecap="butt" stroke-linejoin="miter" stroke-dasharray="3.3 2.3"/>
<polyline points="647.50,754.30 623.30,778.80" fill="none" stroke="#b3c4be" stroke-width="0.6" stroke-linecap="butt" stroke-linejoin="miter" stroke-dasharray="3.3 2.3"/>
<text x="667.00" y="735.80" font-family='"Liberation Serif", serif' font-size="8.5" text-anchor="middle" fill="#1d1d1b" stroke="#1d1d1b" stroke-width="0.06" textLength="40" lengthAdjust="spacingAndGlyphs">Bedroom 4</text>
<text x="667.30" y="744.30" font-family='"Liberation Serif", serif' font-size="8.5" text-anchor="middle" fill="#1d1d1b" stroke="#1d1d1b" stroke-width="0.06" textLength="58" lengthAdjust="spacingAndGlyphs">17’7 (5.36) max</text>
<text x="667.40" y="752.90" font-family='"Liberation Serif", serif' font-size="8.5" text-anchor="middle" fill="#1d1d1b" stroke="#1d1d1b" stroke-width="0.06" textLength="63.6" lengthAdjust="spacingAndGlyphs">x 13’4 (4.06) max</text>
<polygon points="582.60,796.30 625.50,796.30 625.50,802.00 582.60,802.00" fill="#fff" stroke="#000" stroke-width="1.1" stroke-linejoin="miter"/>
<polygon points="643.00,796.30 748.75,796.30 748.75,802.00 643.00,802.00" fill="#fff" stroke="#000" stroke-width="1.1" stroke-linejoin="miter"/>
<polygon points="642.58,801.57 629.88,813.87 630.72,814.73 643.42,802.43" fill="#e8e8e8" stroke="#000" stroke-width="0.55" stroke-linecap="butt" stroke-linejoin="miter"/>
<path d="M625.5,802 Q626.3,810 630.3,814.3" fill="none" stroke="#2a2a2a" stroke-width="0.55" stroke-linejoin="miter" stroke-linecap="butt"/>
<rect x="585.00" y="804.30" width="161.30" height="27.70" fill="none" stroke="#bcc3c3" stroke-width="0.65" stroke-dasharray="2.6 1.8"/>
<text x="667.60" y="818.80" font-family='"Liberation Serif", serif' font-size="8.5" text-anchor="middle" fill="#1d1d1b" stroke="#1d1d1b" stroke-width="0.06" textLength="50" lengthAdjust="spacingAndGlyphs">Eaves Storage</text>
<polyline points="11.50,593.80 35.60,593.80" fill="none" stroke="#2a2a2a" stroke-width="0.75" stroke-linecap="butt" stroke-linejoin="miter"/>
<polyline points="11.50,602.20 35.60,602.20" fill="none" stroke="#2a2a2a" stroke-width="0.75" stroke-linecap="butt" stroke-linejoin="miter"/>
<polyline points="11.50,609.80 35.60,609.80" fill="none" stroke="#2a2a2a" stroke-width="0.75" stroke-linecap="butt" stroke-linejoin="miter"/>
<polyline points="11.50,618.10 35.60,618.10" fill="none" stroke="#2a2a2a" stroke-width="0.75" stroke-linecap="butt" stroke-linejoin="miter"/>
<polyline points="11.50,626.20 35.60,626.20" fill="none" stroke="#2a2a2a" stroke-width="0.75" stroke-linecap="butt" stroke-linejoin="miter"/>
<polyline points="11.50,634.40 35.60,634.40" fill="none" stroke="#2a2a2a" stroke-width="0.75" stroke-linecap="butt" stroke-linejoin="miter"/>
<polyline points="11.50,641.90 35.60,641.90" fill="none" stroke="#2a2a2a" stroke-width="0.75" stroke-linecap="butt" stroke-linejoin="miter"/>
<polygon points="12.20,572.80 35.20,572.80 35.20,608.50 12.20,580.50" fill="#fff"/>
<polyline points="11.50,581.30 22.50,593.80 22.50,599.40 26.90,594.40 26.90,600.00 35.60,609.40" fill="none" stroke="#222" stroke-width="0.6" stroke-linecap="butt" stroke-linejoin="miter"/>
<polyline points="11.50,593.80 21.50,593.80" fill="none" stroke="#2a2a2a" stroke-width="0.75" stroke-linecap="butt" stroke-linejoin="miter"/>
<polyline points="11.50,602.20 28.50,602.20" fill="none" stroke="#2a2a2a" stroke-width="0.75" stroke-linecap="butt" stroke-linejoin="miter"/>
<polyline points="11.50,586.50 16.00,586.50" fill="none" stroke="#2a2a2a" stroke-width="0.75" stroke-linecap="butt" stroke-linejoin="miter"/>
<rect x="35.70" y="571.50" width="4.00" height="72.90" fill="#fff" stroke="#555" stroke-width="0.7" rx="1.6"/>
<polyline points="22.90,641.30 22.90,612.92" fill="none" stroke="#33405e" stroke-width="1.2" stroke-linecap="butt" stroke-linejoin="miter"/>
<polygon points="22.90,611.00 20.10,614.20 22.90,613.30 25.70,614.20" fill="#33405e"/>
<text x="22.50" y="648.30" font-family='"Liberation Serif", serif' font-size="7.3" text-anchor="middle" fill="#4f5b78" stroke="#4f5b78" stroke-width="0.04" textLength="9.4" lengthAdjust="spacingAndGlyphs">UP</text>
<text x="38.00" y="697.70" font-family='"Liberation Serif", serif' font-size="8.5" text-anchor="middle" fill="#1d1d1b" stroke="#1d1d1b" stroke-width="0.06" textLength="22" lengthAdjust="spacingAndGlyphs">Cellar</text>
<text x="38.00" y="706.80" font-family='"Liberation Serif", serif' font-size="8.5" text-anchor="middle" fill="#1d1d1b" stroke="#1d1d1b" stroke-width="0.06" textLength="39.8" lengthAdjust="spacingAndGlyphs">28’6 (8.69)</text>
<text x="37.60" y="715.00" font-family='"Liberation Serif", serif' font-size="8.5" text-anchor="middle" fill="#1d1d1b" stroke="#1d1d1b" stroke-width="0.06" textLength="41.1" lengthAdjust="spacingAndGlyphs">x 5’7 (1.70)</text>
<polygon points="120.90,319.40 143.40,319.40 143.40,328.10 130.60,328.10 130.60,844.75 137.50,844.75 137.50,855.25 120.90,855.25" fill="#d6ecd1" stroke="#000" stroke-width="1.65" stroke-linejoin="miter"/>
<polygon points="165.60,319.40 195.00,319.40 195.00,328.10 165.60,328.10" fill="#d6ecd1" stroke="#000" stroke-width="1.65" stroke-linejoin="miter"/>
<polygon points="216.00,319.40 244.00,319.40 244.00,328.10 216.00,328.10" fill="#d6ecd1" stroke="#000" stroke-width="1.65" stroke-linejoin="miter"/>
<polygon points="266.25,319.40 307.30,319.40 307.30,882.75 278.75,882.75 276.90,885.00 268.50,880.60 273.10,872.25 296.90,872.25 296.90,832.50 288.10,832.50 288.10,786.25 296.90,786.25 296.90,701.25 288.10,701.25 288.10,655.20 296.90,655.20 296.90,615.40 286.30,615.40 286.30,328.10 266.25,328.10" fill="#d6ecd1" stroke="#000" stroke-width="1.65" stroke-linejoin="miter"/>
<polygon points="158.10,844.75 173.75,844.75 173.75,872.25 196.90,872.25 201.60,880.60 193.10,885.00 191.40,882.75 162.50,882.75 162.50,855.25 158.10,855.25" fill="#d6ecd1" stroke="#000" stroke-width="1.65" stroke-linejoin="miter"/>
<polygon points="201.90,900.60 210.60,896.25 214.40,898.50 214.40,910.00 206.90,910.00" fill="#d6ecd1" stroke="#000" stroke-width="1.65" stroke-linejoin="miter"/>
<polygon points="253.75,898.50 257.60,898.50 260.00,896.25 268.50,900.60 263.60,910.00 253.75,910.00" fill="#d6ecd1" stroke="#000" stroke-width="1.65" stroke-linejoin="miter"/>
<polygon points="338.00,413.90 375.50,413.90 375.50,423.30 347.30,423.30 347.30,470.80 357.20,470.80 357.20,523.80 347.30,523.80 347.30,872.00 360.50,872.00 360.50,882.50 338.00,882.50" fill="#d6ecd1" stroke="#000" stroke-width="1.65" stroke-linejoin="miter"/>
<polygon points="431.00,413.90 463.00,413.90 463.00,565.00 452.30,565.00 452.30,423.30 431.00,423.30" fill="#d6ecd1" stroke="#000" stroke-width="1.65" stroke-linejoin="miter"/>
<polygon points="452.30,582.50 463.00,582.50 463.00,606.80 476.00,606.80 476.00,615.50 452.30,615.50" fill="#d6ecd1" stroke="#000" stroke-width="1.65" stroke-linejoin="miter"/>
<polygon points="503.00,606.80 523.50,606.80 523.50,882.50 495.40,882.50 493.70,884.20 485.30,878.60 488.80,872.00 514.00,872.00 514.00,832.50 504.00,832.50 504.00,786.30 514.00,786.30 514.00,701.30 504.00,701.30 504.00,655.50 514.00,655.50 514.00,615.50 503.00,615.50" fill="#d6ecd1" stroke="#000" stroke-width="1.65" stroke-linejoin="miter"/>
<polygon points="392.30,872.00 412.50,872.00 417.75,881.00 409.90,885.60 407.30,882.80 392.30,882.80" fill="#d6ecd1" stroke="#000" stroke-width="1.65" stroke-linejoin="miter"/>
<polygon points="419.10,900.80 427.00,895.80 428.70,898.80 432.60,898.80 432.60,910.00 423.70,910.00" fill="#d6ecd1" stroke="#000" stroke-width="1.65" stroke-linejoin="miter"/>
<polygon points="470.40,898.80 474.30,898.80 476.30,894.90 484.20,898.80 478.70,910.00 470.40,910.00" fill="#d6ecd1" stroke="#000" stroke-width="1.65" stroke-linejoin="miter"/>
<polygon points="573.00,413.90 613.75,413.90 613.75,423.30 582.60,423.30 582.60,459.30 592.00,459.30 592.00,487.50 582.60,487.50 582.60,833.80 748.75,833.80 748.75,754.50 738.75,754.50 738.75,708.75 748.75,708.75 748.75,630.80 635.60,630.80 635.60,606.30 687.50,606.30 687.50,590.50 698.20,590.50 698.20,615.30 645.00,615.30 645.00,621.60 758.00,621.60 758.00,843.75 573.00,843.75" fill="#d6ecd1" stroke="#000" stroke-width="1.65" stroke-linejoin="miter"/>
<polygon points="668.75,413.90 698.20,413.90 698.20,563.75 687.50,563.75 687.50,423.30 668.75,423.30" fill="#d6ecd1" stroke="#000" stroke-width="1.65" stroke-linejoin="miter"/>
<path d="M1.5,562.5H75.25V855.3H1.5Z M11.5,572H65.25V845.5H11.5Z" fill="#d6ecd1" fill-rule="evenodd" stroke="#000" stroke-width="1.65"/>
</svg>
</body>
</html>
